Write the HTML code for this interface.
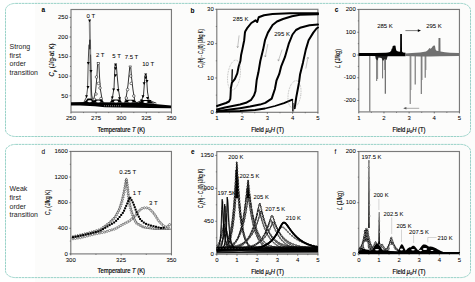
<!DOCTYPE html>
<html><head><meta charset="utf-8"><style>
html,body{margin:0;padding:0;background:#fff;}
svg{display:block;}
text{font-family:"Liberation Sans", sans-serif;fill:#000;stroke:#000;stroke-width:0.04px;}
</style></head><body>
<svg width="475" height="282" viewBox="0 0 475 282">
<rect x="35" y="0" width="440" height="282" fill="#fcfcfb"/>
<rect x="5.5" y="3.4" width="465.0" height="133.1" rx="10" ry="6.8" fill="none" stroke="#6fc0b2" stroke-width="0.7" stroke-dasharray="2.6 0.6"/>
<rect x="5.5" y="144.4" width="465.0" height="133.20000000000002" rx="10" ry="6.8" fill="none" stroke="#6fc0b2" stroke-width="0.7" stroke-dasharray="2.6 0.6"/>
<text x="9.60" y="48.80" font-size="7" text-anchor="start" style="fill:#1a1a1a;stroke-width:0">Strong</text>
<text x="9.60" y="57.55" font-size="7" text-anchor="start" style="fill:#1a1a1a;stroke-width:0">first</text>
<text x="9.60" y="66.30" font-size="7" text-anchor="start" style="fill:#1a1a1a;stroke-width:0">order</text>
<text x="9.60" y="75.05" font-size="7" text-anchor="start" style="fill:#1a1a1a;stroke-width:0">transition</text>
<text x="9.60" y="191.20" font-size="7" text-anchor="start" style="fill:#1a1a1a;stroke-width:0">Weak</text>
<text x="9.60" y="199.95" font-size="7" text-anchor="start" style="fill:#1a1a1a;stroke-width:0">first</text>
<text x="9.60" y="208.70" font-size="7" text-anchor="start" style="fill:#1a1a1a;stroke-width:0">order</text>
<text x="9.60" y="217.45" font-size="7" text-anchor="start" style="fill:#1a1a1a;stroke-width:0">transition</text>
<text x="43.20" y="12.10" font-size="6.5" text-anchor="middle" font-weight="bold">a</text>
<text x="192.40" y="12.80" font-size="6.5" text-anchor="middle" font-weight="bold">b</text>
<text x="336.50" y="12.00" font-size="6.5" text-anchor="middle" font-weight="bold">c</text>
<text x="43.20" y="153.80" font-size="6.5" text-anchor="middle" font-weight="normal">d</text>
<text x="192.70" y="154.40" font-size="6.5" text-anchor="middle" font-weight="bold">e</text>
<text x="335.50" y="154.00" font-size="6.5" text-anchor="middle" font-weight="normal">f</text>
<rect x="71.0" y="9.5" width="100.45" height="102.60" fill="none" stroke="#7a7a7a" stroke-width="1.15"/>
<line x1="71.00" y1="112.10" x2="71.00" y2="113.60" stroke="#444" stroke-width="0.7" />
<text x="71.00" y="119.90" font-size="6" text-anchor="middle" >250</text>
<line x1="83.56" y1="112.10" x2="83.56" y2="113.10" stroke="#444" stroke-width="0.6" />
<line x1="96.11" y1="112.10" x2="96.11" y2="113.60" stroke="#444" stroke-width="0.7" />
<text x="96.11" y="119.90" font-size="6" text-anchor="middle" >275</text>
<line x1="108.67" y1="112.10" x2="108.67" y2="113.10" stroke="#444" stroke-width="0.6" />
<line x1="121.22" y1="112.10" x2="121.22" y2="113.60" stroke="#444" stroke-width="0.7" />
<text x="121.22" y="119.90" font-size="6" text-anchor="middle" >300</text>
<line x1="133.78" y1="112.10" x2="133.78" y2="113.10" stroke="#444" stroke-width="0.6" />
<line x1="146.34" y1="112.10" x2="146.34" y2="113.60" stroke="#444" stroke-width="0.7" />
<text x="146.34" y="119.90" font-size="6" text-anchor="middle" >325</text>
<line x1="158.89" y1="112.10" x2="158.89" y2="113.10" stroke="#444" stroke-width="0.6" />
<line x1="171.45" y1="112.10" x2="171.45" y2="113.60" stroke="#444" stroke-width="0.7" />
<text x="171.45" y="119.90" font-size="6" text-anchor="middle" >350</text>
<line x1="69.50" y1="17.40" x2="71.00" y2="17.40" stroke="#444" stroke-width="0.7" />
<text x="68.00" y="19.10" font-size="6" text-anchor="end" >250</text>
<line x1="70.00" y1="27.20" x2="71.00" y2="27.20" stroke="#444" stroke-width="0.6" />
<line x1="69.50" y1="37.00" x2="71.00" y2="37.00" stroke="#444" stroke-width="0.7" />
<text x="68.00" y="38.70" font-size="6" text-anchor="end" >200</text>
<line x1="70.00" y1="46.80" x2="71.00" y2="46.80" stroke="#444" stroke-width="0.6" />
<line x1="69.50" y1="56.60" x2="71.00" y2="56.60" stroke="#444" stroke-width="0.7" />
<text x="68.00" y="58.30" font-size="6" text-anchor="end" >150</text>
<line x1="70.00" y1="66.40" x2="71.00" y2="66.40" stroke="#444" stroke-width="0.6" />
<line x1="69.50" y1="76.20" x2="71.00" y2="76.20" stroke="#444" stroke-width="0.7" />
<text x="68.00" y="77.90" font-size="6" text-anchor="end" >100</text>
<line x1="70.00" y1="86.00" x2="71.00" y2="86.00" stroke="#444" stroke-width="0.6" />
<line x1="69.50" y1="95.80" x2="71.00" y2="95.80" stroke="#444" stroke-width="0.7" />
<text x="68.00" y="97.50" font-size="6" text-anchor="end" >50</text>
<text x="121.30" y="132.00" font-size="6.8" text-anchor="middle" textLength="47.4" lengthAdjust="spacingAndGlyphs" style="stroke-width:0.18px">Temperature <tspan font-style="italic">T</tspan> (K)</text>
<text transform="translate(54.40,60.00) rotate(-90)" font-size="6.4" text-anchor="middle" style="stroke-width:0.12px" textLength="33" lengthAdjust="spacingAndGlyphs"><tspan font-style="italic">C</tspan><tspan font-size="4.3" dy="1.4">p</tspan><tspan dy="-1.4"> (J/g-at K)</tspan></text>
<text x="90.90" y="18.00" font-size="6" text-anchor="middle" >0 T</text>
<text x="100.20" y="57.30" font-size="6" text-anchor="middle" >2 T</text>
<text x="116.60" y="57.80" font-size="6" text-anchor="middle" >5 T</text>
<text x="131.50" y="59.10" font-size="6" text-anchor="middle" >7.5 T</text>
<text x="148.20" y="65.60" font-size="6" text-anchor="middle" >10 T</text>
<path d="M71.00,102.30 L86.00,102.00 L100.00,102.30 L120.00,102.40 L140.00,102.60 L150.00,103.50 L160.00,104.60 L171.00,105.40 L171.00,108.30 L150.00,108.00 L120.00,107.60 L105.00,107.20 L95.00,106.20 L80.00,105.50 L71.00,105.40 Z" fill="#000" />
<line x1="104.00" y1="105.80" x2="121.00" y2="105.80" stroke="#fff" stroke-width="0.5" stroke-dasharray="1 1"/>
<path d="M89.70,21.00 L90.10,45.00 L90.50,70.00 L91.00,90.00 L91.50,98.00" stroke="#8a8a8a" stroke-width="1.9" fill="none" stroke-linejoin="round" stroke-linecap="round" />
<path d="M84.00,102.00 L86.50,97.00 L87.60,88.00 L88.20,63.00 L88.90,45.00" stroke="#000" stroke-width="0.7" fill="none" stroke-linejoin="round" stroke-linecap="round" />
<path d="M90.60,55.00 L91.00,71.00 L91.60,95.00 L93.50,102.00" stroke="#222" stroke-width="0.7" fill="none" stroke-linejoin="round" stroke-linecap="round" />
<line x1="89.90" y1="39.70" x2="89.90" y2="49.30" stroke="#000" stroke-width="1.0" />
<path d="M88.10,19.60 L91.10,19.60 L89.60,22.30 Z" fill="#000"/>
<path d="M86.80,62.10 L89.80,62.10 L88.30,64.80 Z" fill="#000"/>
<path d="M89.50,70.10 L92.50,70.10 L91.00,72.80 Z" fill="#000"/>
<path d="M86.50,86.10 L89.50,86.10 L88.00,88.80 Z" fill="#000"/>
<path d="M85.00,95.30 L88.00,95.30 L86.50,98.00 Z" fill="#000"/>
<path d="M93.00,102.00 L95.50,92.00 L96.80,78.00 L97.60,64.00" stroke="#000" stroke-width="0.8" fill="none" stroke-linejoin="round" stroke-linecap="round" />
<path d="M98.90,64.00 L99.60,78.00 L100.50,90.00 L102.50,102.00" stroke="#000" stroke-width="0.8" fill="none" stroke-linejoin="round" stroke-linecap="round" />
<rect x="97.13" y="62.33" width="2.34" height="2.34" fill="#fff" stroke="#000" stroke-width="0.5"/>
<circle cx="96.50" cy="77.00" r="1.30" fill="#fff" stroke="#000" stroke-width="0.5"/>
<circle cx="98.50" cy="83.40" r="1.30" fill="#fff" stroke="#000" stroke-width="0.5"/>
<circle cx="96.00" cy="94.00" r="1.30" fill="#fff" stroke="#000" stroke-width="0.5"/>
<circle cx="100.00" cy="88.00" r="1.30" fill="#fff" stroke="#000" stroke-width="0.5"/>
<circle cx="101.00" cy="98.50" r="1.30" fill="#fff" stroke="#000" stroke-width="0.5"/>
<circle cx="94.50" cy="99.50" r="1.30" fill="#fff" stroke="#000" stroke-width="0.5"/>
<path d="M111.00,102.00 L112.50,97.00 L114.00,88.00 L115.00,65.00" stroke="#000" stroke-width="0.8" fill="none" stroke-linejoin="round" stroke-linecap="round" />
<path d="M116.30,65.00 L117.20,76.00 L118.50,90.00 L120.50,102.00" stroke="#000" stroke-width="0.8" fill="none" stroke-linejoin="round" stroke-linecap="round" />
<path d="M114.10,63.60 L117.10,63.60 L115.60,66.30 Z" fill="#000"/>
<path d="M114.00,67.30 L117.00,67.30 L115.50,70.00 Z" fill="#000"/>
<path d="M114.10,74.20 L117.10,74.20 L115.60,76.90 Z" fill="#000"/>
<path d="M112.10,88.40 L115.10,88.40 L113.60,91.10 Z" fill="#000"/>
<path d="M116.50,89.00 L119.50,89.00 L118.00,91.70 Z" fill="#000"/>
<path d="M110.80,96.40 L113.80,96.40 L112.30,99.10 Z" fill="#000"/>
<path d="M118.00,97.30 L121.00,97.30 L119.50,100.00 Z" fill="#000"/>
<path d="M125.00,102.00 L126.50,95.00 L128.00,85.00 L129.70,67.50" stroke="#000" stroke-width="0.8" fill="none" stroke-linejoin="round" stroke-linecap="round" />
<path d="M130.80,67.50 L131.60,78.00 L133.00,90.00 L135.00,102.00" stroke="#000" stroke-width="0.8" fill="none" stroke-linejoin="round" stroke-linecap="round" />
<path d="M128.90,65.96 L131.50,65.96 L130.20,68.30 Z" fill="#fff" stroke="#000" stroke-width="0.5"/>
<circle cx="130.70" cy="76.00" r="1.30" fill="#fff" stroke="#000" stroke-width="0.5"/>
<circle cx="131.20" cy="83.40" r="1.30" fill="#fff" stroke="#000" stroke-width="0.5"/>
<circle cx="127.60" cy="89.60" r="1.30" fill="#fff" stroke="#000" stroke-width="0.5"/>
<circle cx="126.30" cy="98.00" r="1.30" fill="#fff" stroke="#000" stroke-width="0.5"/>
<circle cx="133.80" cy="96.00" r="1.30" fill="#fff" stroke="#000" stroke-width="0.5"/>
<path d="M136.00,103.00 L141.50,100.50 L143.50,95.00 L145.00,75.50" stroke="#000" stroke-width="0.8" fill="none" stroke-linejoin="round" stroke-linecap="round" />
<path d="M146.40,75.50 L147.50,92.00 L149.00,100.50 L156.00,103.00" stroke="#000" stroke-width="0.8" fill="none" stroke-linejoin="round" stroke-linecap="round" />
<path d="M144.20,73.40 L147.20,73.40 L145.70,76.10 Z" fill="#000"/>
<path d="M144.20,76.60 L147.20,76.60 L145.70,79.30 Z" fill="#000"/>
<path d="M142.60,82.20 L145.60,82.20 L144.10,84.90 Z" fill="#000"/>
<path d="M145.50,80.10 L148.50,80.10 L147.00,82.80 Z" fill="#000"/>
<path d="M141.50,95.20 L144.50,95.20 L143.00,97.90 Z" fill="#000"/>
<path d="M146.00,97.00 L149.00,97.00 L147.50,99.70 Z" fill="#000"/>
<path d="M140.00,99.60 L143.00,99.60 L141.50,102.30 Z" fill="#000"/>
<path d="M148.50,100.00 L151.50,100.00 L150.00,102.70 Z" fill="#000"/>
<path d="M83.50,102.60 L86.00,100.50 L87.50,98.50 L91.50,98.50 L93.00,100.50 L95.00,102.60 Z" fill="#000" />
<path d="M92.00,102.60 L94.00,100.80 L95.00,99.50 L101.50,99.50 L102.50,100.80 L104.50,102.60 Z" fill="#000" />
<path d="M109.50,102.60 L111.50,100.80 L112.50,99.50 L119.50,99.50 L120.50,100.80 L122.50,102.60 Z" fill="#000" />
<path d="M124.00,102.60 L125.50,100.80 L126.50,99.80 L134.00,99.80 L135.00,100.80 L137.00,102.60 Z" fill="#000" />
<path d="M138.00,103.20 L140.50,101.50 L142.00,100.00 L149.00,100.00 L150.50,101.50 L155.00,103.40 Z" fill="#000" />
<ellipse cx="89.6" cy="101.2" rx="2.2" ry="1.0" fill="#fff"/>
<ellipse cx="98.3" cy="101.5" rx="2.2" ry="1.0" fill="#fff"/>
<ellipse cx="116" cy="101.5" rx="2.2" ry="1.0" fill="#fff"/>
<ellipse cx="130.3" cy="101.6" rx="2.2" ry="1.0" fill="#fff"/>
<ellipse cx="145.5" cy="102.0" rx="2.2" ry="1.0" fill="#fff"/>
<rect x="216.8" y="9.3" width="101.10" height="103.00" fill="none" stroke="#7a7a7a" stroke-width="1.15"/>
<line x1="216.80" y1="112.30" x2="216.80" y2="113.80" stroke="#444" stroke-width="0.7" />
<text x="216.80" y="120.10" font-size="6" text-anchor="middle" >1</text>
<line x1="229.44" y1="112.30" x2="229.44" y2="113.30" stroke="#444" stroke-width="0.6" />
<line x1="242.08" y1="112.30" x2="242.08" y2="113.80" stroke="#444" stroke-width="0.7" />
<text x="242.08" y="120.10" font-size="6" text-anchor="middle" >2</text>
<line x1="254.71" y1="112.30" x2="254.71" y2="113.30" stroke="#444" stroke-width="0.6" />
<line x1="267.35" y1="112.30" x2="267.35" y2="113.80" stroke="#444" stroke-width="0.7" />
<text x="267.35" y="120.10" font-size="6" text-anchor="middle" >3</text>
<line x1="279.99" y1="112.30" x2="279.99" y2="113.30" stroke="#444" stroke-width="0.6" />
<line x1="292.62" y1="112.30" x2="292.62" y2="113.80" stroke="#444" stroke-width="0.7" />
<text x="292.62" y="120.10" font-size="6" text-anchor="middle" >4</text>
<line x1="305.26" y1="112.30" x2="305.26" y2="113.30" stroke="#444" stroke-width="0.6" />
<line x1="317.90" y1="112.30" x2="317.90" y2="113.80" stroke="#444" stroke-width="0.7" />
<text x="317.90" y="120.10" font-size="6" text-anchor="middle" >5</text>
<line x1="215.30" y1="9.30" x2="216.80" y2="9.30" stroke="#444" stroke-width="0.7" />
<text x="213.80" y="11.00" font-size="6" text-anchor="end" >30</text>
<line x1="215.80" y1="26.47" x2="216.80" y2="26.47" stroke="#444" stroke-width="0.6" />
<line x1="215.30" y1="43.63" x2="216.80" y2="43.63" stroke="#444" stroke-width="0.7" />
<text x="213.80" y="45.33" font-size="6" text-anchor="end" >20</text>
<line x1="215.80" y1="60.80" x2="216.80" y2="60.80" stroke="#444" stroke-width="0.6" />
<line x1="215.30" y1="77.97" x2="216.80" y2="77.97" stroke="#444" stroke-width="0.7" />
<text x="213.80" y="79.67" font-size="6" text-anchor="end" >10</text>
<line x1="215.80" y1="95.13" x2="216.80" y2="95.13" stroke="#444" stroke-width="0.6" />
<line x1="215.30" y1="112.30" x2="216.80" y2="112.30" stroke="#444" stroke-width="0.7" />
<text x="213.80" y="114.00" font-size="6" text-anchor="end" >0</text>
<text x="267.60" y="132.00" font-size="6.6" text-anchor="middle" textLength="32.8" lengthAdjust="spacingAndGlyphs" style="stroke-width:0.18px">Field <tspan font-style="italic">μ</tspan><tspan font-size="4.3" dy="1.4">0</tspan><tspan dy="-1.4"><tspan font-style="italic">H</tspan> (T)</tspan></text>
<text transform="translate(202.50,48.50) rotate(-90)" font-size="6.4" text-anchor="middle" style="stroke-width:0.12px" textLength="38.8" lengthAdjust="spacingAndGlyphs"><tspan font-style="italic">C</tspan><tspan font-size="4.3" dy="1.4">p</tspan><tspan dy="-1.4">(H) - </tspan><tspan font-style="italic">C</tspan><tspan font-size="4.3" dy="1.4">p</tspan><tspan dy="-1.4">(0) (J/kg K)</tspan></text>
<text x="240.70" y="21.00" font-size="6" text-anchor="middle" >285 K</text>
<text x="282.10" y="35.60" font-size="6" text-anchor="middle" >295 K</text>
<path d="M217.00,106.00 L221.40,104.50 L226.00,103.00 L229.00,101.50 L230.30,99.00 L230.60,95.00 L230.90,88.30 L231.90,82.70 L234.80,79.10 L237.30,73.40 L238.70,66.30 L240.40,61.00 L241.10,55.00 L242.30,49.60 L244.20,40.20 L244.90,33.00 L245.20,31.50 L247.00,28.40 L251.30,23.00 L255.50,20.30 L257.20,22.00 L258.70,17.30 L264.00,15.20 L272.50,14.00 L290.00,13.20 L318.00,13.30" stroke="#000" stroke-width="2.0" fill="none" stroke-linejoin="round" stroke-linecap="round" />
<line x1="232.30" y1="69.20" x2="231.90" y2="81.50" stroke="#000" stroke-width="1.3" />
<path d="M217.00,109.50 L225.00,107.50 L240.00,104.50 L246.00,102.80 L251.20,99.80 L254.00,95.50 L255.50,91.20 L256.70,80.00 L258.40,72.30 L260.30,61.00 L263.10,49.60 L265.00,40.20 L267.90,32.60 L272.60,25.00 L277.00,21.50 L283.00,19.00 L292.00,16.20 L300.00,14.80 L318.00,14.30" stroke="#000" stroke-width="2.0" fill="none" stroke-linejoin="round" stroke-linecap="round" />
<path d="M217.00,111.20 L230.00,109.60 L240.00,108.20 L250.00,106.60 L260.00,104.60 L265.30,102.90 L271.70,98.60 L274.90,89.00 L276.50,80.50 L279.20,74.20 L281.10,66.70 L284.90,57.20 L288.70,43.90 L292.50,34.50 L296.00,30.00 L300.00,27.80 L309.50,25.30 L318.00,24.60" stroke="#000" stroke-width="2.0" fill="none" stroke-linejoin="round" stroke-linecap="round" />
<path d="M217.00,111.60 L240.00,111.00 L255.00,110.00 L265.00,108.50 L275.00,106.00 L284.00,103.20 L292.30,99.70" stroke="#000" stroke-width="1.8" fill="none" stroke-linejoin="round" stroke-linecap="round" />
<line x1="292.60" y1="99.70" x2="292.60" y2="111.50" stroke="#000" stroke-width="0.9" />
<line x1="293.60" y1="103.00" x2="293.60" y2="111.50" stroke="#000" stroke-width="0.6" />
<path d="M294.70,108.20 L296.20,97.60 L298.00,88.00 L299.00,82.70 L300.10,74.20 L302.90,62.90 L305.80,49.60 L308.60,40.20 L313.30,32.60 L316.50,28.50 L318.00,27.50" stroke="#000" stroke-width="2.0" fill="none" stroke-linejoin="round" stroke-linecap="round" />
<ellipse cx="234" cy="75" rx="6.2" ry="15" fill="none" stroke="#777" stroke-width="0.5" stroke-dasharray="0.8 0.8" transform="rotate(8 234 75)"/>
<ellipse cx="294.5" cy="94.4" rx="6.3" ry="13.8" fill="none" stroke="#777" stroke-width="0.5" stroke-dasharray="0.8 0.8" transform="rotate(8 294.5 94.4)"/>
<line x1="239.10" y1="35.40" x2="237.60" y2="47.70" stroke="#888" stroke-width="0.5" />
<line x1="237.60" y1="47.70" x2="236.87" y2="46.06" stroke="#888" stroke-width="0.5" />
<line x1="237.60" y1="47.70" x2="238.71" y2="46.28" stroke="#888" stroke-width="0.5" />
<line x1="267.90" y1="44.00" x2="265.20" y2="57.00" stroke="#888" stroke-width="0.5" />
<line x1="265.20" y1="57.00" x2="264.61" y2="55.30" stroke="#888" stroke-width="0.5" />
<line x1="265.20" y1="57.00" x2="266.42" y2="55.68" stroke="#888" stroke-width="0.5" />
<line x1="282.10" y1="49.60" x2="278.30" y2="61.00" stroke="#888" stroke-width="0.5" />
<line x1="278.30" y1="61.00" x2="277.91" y2="59.24" stroke="#888" stroke-width="0.5" />
<line x1="278.30" y1="61.00" x2="279.67" y2="59.83" stroke="#888" stroke-width="0.5" />
<line x1="305.80" y1="68.60" x2="308.00" y2="57.20" stroke="#888" stroke-width="0.5" />
<line x1="308.00" y1="57.20" x2="308.62" y2="58.89" stroke="#888" stroke-width="0.5" />
<line x1="308.00" y1="57.20" x2="306.80" y2="58.54" stroke="#888" stroke-width="0.5" />
<rect x="358.8" y="9.45" width="100.65" height="102.45" fill="none" stroke="#7a7a7a" stroke-width="1.15"/>
<line x1="358.80" y1="111.90" x2="358.80" y2="113.40" stroke="#444" stroke-width="0.7" />
<text x="358.80" y="119.70" font-size="6" text-anchor="middle" >1</text>
<line x1="371.38" y1="111.90" x2="371.38" y2="112.90" stroke="#444" stroke-width="0.6" />
<line x1="383.96" y1="111.90" x2="383.96" y2="113.40" stroke="#444" stroke-width="0.7" />
<text x="383.96" y="119.70" font-size="6" text-anchor="middle" >2</text>
<line x1="396.54" y1="111.90" x2="396.54" y2="112.90" stroke="#444" stroke-width="0.6" />
<line x1="409.12" y1="111.90" x2="409.12" y2="113.40" stroke="#444" stroke-width="0.7" />
<text x="409.12" y="119.70" font-size="6" text-anchor="middle" >3</text>
<line x1="421.70" y1="111.90" x2="421.70" y2="112.90" stroke="#444" stroke-width="0.6" />
<line x1="434.28" y1="111.90" x2="434.28" y2="113.40" stroke="#444" stroke-width="0.7" />
<text x="434.28" y="119.70" font-size="6" text-anchor="middle" >4</text>
<line x1="446.86" y1="111.90" x2="446.86" y2="112.90" stroke="#444" stroke-width="0.6" />
<line x1="459.44" y1="111.90" x2="459.44" y2="113.40" stroke="#444" stroke-width="0.7" />
<text x="459.44" y="119.70" font-size="6" text-anchor="middle" >5</text>
<line x1="357.30" y1="9.50" x2="358.80" y2="9.50" stroke="#444" stroke-width="0.7" />
<text x="355.80" y="11.20" font-size="6" text-anchor="end" >200</text>
<line x1="357.80" y1="20.88" x2="358.80" y2="20.88" stroke="#444" stroke-width="0.6" />
<line x1="357.30" y1="32.25" x2="358.80" y2="32.25" stroke="#444" stroke-width="0.7" />
<text x="355.80" y="33.95" font-size="6" text-anchor="end" >100</text>
<line x1="357.80" y1="43.62" x2="358.80" y2="43.62" stroke="#444" stroke-width="0.6" />
<line x1="357.30" y1="55.00" x2="358.80" y2="55.00" stroke="#444" stroke-width="0.7" />
<text x="355.80" y="56.70" font-size="6" text-anchor="end" >0</text>
<line x1="357.80" y1="66.38" x2="358.80" y2="66.38" stroke="#444" stroke-width="0.6" />
<line x1="357.30" y1="77.75" x2="358.80" y2="77.75" stroke="#444" stroke-width="0.7" />
<text x="355.80" y="79.45" font-size="6" text-anchor="end" >-100</text>
<line x1="357.80" y1="89.12" x2="358.80" y2="89.12" stroke="#444" stroke-width="0.6" />
<line x1="357.30" y1="100.50" x2="358.80" y2="100.50" stroke="#444" stroke-width="0.7" />
<text x="355.80" y="102.20" font-size="6" text-anchor="end" >-200</text>
<text x="409.00" y="132.00" font-size="6.6" text-anchor="middle" textLength="32.8" lengthAdjust="spacingAndGlyphs" style="stroke-width:0.18px">Field <tspan font-style="italic">μ</tspan><tspan font-size="4.3" dy="1.4">0</tspan><tspan dy="-1.4"><tspan font-style="italic">H</tspan> (T)</tspan></text>
<text transform="translate(339.80,58.40) rotate(-90)" font-size="6.4" text-anchor="middle" style="stroke-width:0.12px" textLength="19.2" lengthAdjust="spacingAndGlyphs"><tspan font-style="italic">L</tspan> (J/kg)</text>
<text x="385.00" y="27.80" font-size="6" text-anchor="middle" >285 K</text>
<text x="434.00" y="27.50" font-size="6" text-anchor="middle" >295 K</text>
<line x1="405.40" y1="30.60" x2="419.50" y2="30.60" stroke="#000" stroke-width="0.5" />
<path d="M421,30.6 L417.8,29.3 L417.8,31.9 Z" fill="#000"/>
<line x1="419.20" y1="108.30" x2="404.50" y2="108.30" stroke="#555" stroke-width="0.5" />
<path d="M403.2,108.3 L406.4,107 L406.4,109.6 Z" fill="#555"/>
<line x1="369.80" y1="55.00" x2="369.80" y2="111.50" stroke="#6e6e6e" stroke-width="1.1" />
<line x1="376.70" y1="55.00" x2="376.70" y2="81.00" stroke="#6e6e6e" stroke-width="1.0" />
<line x1="377.60" y1="55.00" x2="377.60" y2="79.00" stroke="#6e6e6e" stroke-width="0.8" />
<line x1="382.60" y1="55.00" x2="382.60" y2="78.40" stroke="#6e6e6e" stroke-width="1.0" />
<line x1="385.30" y1="55.00" x2="385.30" y2="93.70" stroke="#5a5a5a" stroke-width="1.1" />
<line x1="384.40" y1="55.00" x2="384.40" y2="70.00" stroke="#6e6e6e" stroke-width="0.7" />
<line x1="410.20" y1="55.00" x2="410.20" y2="104.00" stroke="#6e6e6e" stroke-width="1.0" />
<line x1="411.00" y1="55.00" x2="411.00" y2="90.00" stroke="#6e6e6e" stroke-width="0.6" />
<line x1="415.20" y1="55.00" x2="415.20" y2="84.40" stroke="#6e6e6e" stroke-width="1.1" />
<line x1="421.30" y1="55.00" x2="421.30" y2="94.00" stroke="#6e6e6e" stroke-width="1.1" />
<line x1="422.20" y1="55.00" x2="422.20" y2="80.00" stroke="#6e6e6e" stroke-width="0.6" />
<line x1="425.20" y1="55.00" x2="425.20" y2="77.70" stroke="#6e6e6e" stroke-width="1.1" />
<line x1="426.00" y1="55.00" x2="426.00" y2="70.00" stroke="#6e6e6e" stroke-width="0.6" />
<path d="M375.00,55.00 L375.80,59.00 L377.50,60.50 L378.50,57.50 L381.50,58.00 L383.00,61.00 L384.50,59.00 L386.50,60.00 L388.00,55.00 Z" fill="#222" />
<path d="M358.70,53.00 L375.00,52.90 L386.00,52.80 L388.00,52.50 L390.00,52.00 L391.30,50.50 L391.60,48.80 L392.30,48.50 L392.60,46.20 L394.00,45.50 L395.50,45.80 L395.80,48.00 L396.30,50.50 L398.00,51.50 L400.10,51.80 L400.20,34.00 L401.90,34.00 L402.00,51.50 L403.00,52.50 L405.50,52.80 L405.50,56.30 L390.00,56.20 L370.00,56.00 L358.70,56.00 Z" fill="#000" />
<path d="M405.00,53.40 L412.00,53.00 L420.00,52.40 L426.00,51.60 L428.00,50.00 L429.40,47.90 L430.50,48.80 L431.50,48.00 L432.50,46.50 L434.10,45.20 L435.00,46.00 L435.60,49.50 L436.50,50.80 L438.40,51.00 L438.50,38.00 L440.40,38.00 L440.50,51.40 L445.00,52.20 L450.00,52.80 L459.00,53.00 L459.00,56.00 L440.00,56.30 L430.00,56.60 L420.00,56.40 L405.00,56.00 Z" fill="#707070" />
<rect x="70.8" y="151.45" width="100.65" height="102.45" fill="none" stroke="#7a7a7a" stroke-width="1.15"/>
<line x1="70.80" y1="253.90" x2="70.80" y2="255.40" stroke="#444" stroke-width="0.7" />
<text x="70.80" y="261.70" font-size="6" text-anchor="middle" >300</text>
<line x1="95.96" y1="253.90" x2="95.96" y2="254.90" stroke="#444" stroke-width="0.6" />
<line x1="121.12" y1="253.90" x2="121.12" y2="255.40" stroke="#444" stroke-width="0.7" />
<text x="121.12" y="261.70" font-size="6" text-anchor="middle" >325</text>
<line x1="146.29" y1="253.90" x2="146.29" y2="254.90" stroke="#444" stroke-width="0.6" />
<line x1="171.45" y1="253.90" x2="171.45" y2="255.40" stroke="#444" stroke-width="0.7" />
<text x="171.45" y="261.70" font-size="6" text-anchor="middle" >350</text>
<line x1="69.30" y1="151.45" x2="70.80" y2="151.45" stroke="#444" stroke-width="0.7" />
<text x="67.80" y="153.15" font-size="6" text-anchor="end" >1600</text>
<line x1="69.80" y1="164.26" x2="70.80" y2="164.26" stroke="#444" stroke-width="0.6" />
<line x1="69.30" y1="177.06" x2="70.80" y2="177.06" stroke="#444" stroke-width="0.7" />
<text x="67.80" y="178.76" font-size="6" text-anchor="end" >1200</text>
<line x1="69.80" y1="189.87" x2="70.80" y2="189.87" stroke="#444" stroke-width="0.6" />
<line x1="69.30" y1="202.68" x2="70.80" y2="202.68" stroke="#444" stroke-width="0.7" />
<text x="67.80" y="204.38" font-size="6" text-anchor="end" >800</text>
<line x1="69.80" y1="215.48" x2="70.80" y2="215.48" stroke="#444" stroke-width="0.6" />
<line x1="69.30" y1="228.29" x2="70.80" y2="228.29" stroke="#444" stroke-width="0.7" />
<text x="67.80" y="229.99" font-size="6" text-anchor="end" >400</text>
<line x1="69.80" y1="241.09" x2="70.80" y2="241.09" stroke="#444" stroke-width="0.6" />
<line x1="69.30" y1="253.90" x2="70.80" y2="253.90" stroke="#444" stroke-width="0.7" />
<text x="67.80" y="255.60" font-size="6" text-anchor="end" >0</text>
<text x="121.30" y="273.10" font-size="6.8" text-anchor="middle" textLength="47.4" lengthAdjust="spacingAndGlyphs" style="stroke-width:0.18px">Temperature <tspan font-style="italic">T</tspan> (K)</text>
<text transform="translate(49.80,202.40) rotate(-90)" font-size="6.4" text-anchor="middle" style="stroke-width:0.12px" textLength="25.5" lengthAdjust="spacingAndGlyphs"><tspan font-style="italic">C</tspan><tspan font-size="4.3" dy="1.4">p</tspan><tspan dy="-1.4"> (J/kg K)</tspan></text>
<text x="127.60" y="174.00" font-size="6" text-anchor="middle" >0.25 T</text>
<text x="137.00" y="194.60" font-size="6" text-anchor="middle" >1 T</text>
<text x="153.40" y="205.40" font-size="6" text-anchor="middle" >3 T</text>
<circle cx="73.00" cy="238.80" r="1.05" fill="#fff" stroke="#222" stroke-width="0.5"/>
<circle cx="75.47" cy="238.45" r="1.05" fill="#fff" stroke="#222" stroke-width="0.5"/>
<circle cx="77.95" cy="238.09" r="1.05" fill="#fff" stroke="#222" stroke-width="0.5"/>
<circle cx="80.42" cy="237.69" r="1.05" fill="#fff" stroke="#222" stroke-width="0.5"/>
<circle cx="82.84" cy="237.08" r="1.05" fill="#fff" stroke="#222" stroke-width="0.5"/>
<circle cx="85.26" cy="236.47" r="1.05" fill="#fff" stroke="#222" stroke-width="0.5"/>
<circle cx="87.69" cy="235.85" r="1.05" fill="#fff" stroke="#222" stroke-width="0.5"/>
<circle cx="90.11" cy="235.24" r="1.05" fill="#fff" stroke="#222" stroke-width="0.5"/>
<circle cx="92.53" cy="234.62" r="1.05" fill="#fff" stroke="#222" stroke-width="0.5"/>
<circle cx="94.96" cy="234.01" r="1.05" fill="#fff" stroke="#222" stroke-width="0.5"/>
<circle cx="97.41" cy="233.52" r="1.05" fill="#fff" stroke="#222" stroke-width="0.5"/>
<circle cx="99.86" cy="233.03" r="1.05" fill="#fff" stroke="#222" stroke-width="0.5"/>
<circle cx="102.31" cy="232.54" r="1.05" fill="#fff" stroke="#222" stroke-width="0.5"/>
<circle cx="104.76" cy="232.05" r="1.05" fill="#fff" stroke="#222" stroke-width="0.5"/>
<circle cx="107.15" cy="231.32" r="1.05" fill="#fff" stroke="#222" stroke-width="0.5"/>
<circle cx="109.54" cy="230.57" r="1.05" fill="#fff" stroke="#222" stroke-width="0.5"/>
<circle cx="111.92" cy="229.82" r="1.05" fill="#fff" stroke="#222" stroke-width="0.5"/>
<circle cx="114.34" cy="229.18" r="1.05" fill="#fff" stroke="#222" stroke-width="0.5"/>
<circle cx="116.56" cy="228.08" r="1.05" fill="#fff" stroke="#222" stroke-width="0.5"/>
<circle cx="118.71" cy="226.80" r="1.05" fill="#fff" stroke="#222" stroke-width="0.5"/>
<circle cx="120.87" cy="225.53" r="1.05" fill="#fff" stroke="#222" stroke-width="0.5"/>
<circle cx="123.05" cy="224.32" r="1.05" fill="#fff" stroke="#222" stroke-width="0.5"/>
<circle cx="125.28" cy="223.19" r="1.05" fill="#fff" stroke="#222" stroke-width="0.5"/>
<circle cx="127.51" cy="222.06" r="1.05" fill="#fff" stroke="#222" stroke-width="0.5"/>
<circle cx="129.66" cy="220.81" r="1.05" fill="#fff" stroke="#222" stroke-width="0.5"/>
<circle cx="131.55" cy="219.18" r="1.05" fill="#fff" stroke="#222" stroke-width="0.5"/>
<circle cx="133.45" cy="217.55" r="1.05" fill="#fff" stroke="#222" stroke-width="0.5"/>
<circle cx="135.24" cy="215.82" r="1.05" fill="#fff" stroke="#222" stroke-width="0.5"/>
<circle cx="136.67" cy="213.77" r="1.05" fill="#fff" stroke="#222" stroke-width="0.5"/>
<circle cx="138.10" cy="211.72" r="1.05" fill="#fff" stroke="#222" stroke-width="0.5"/>
<circle cx="139.97" cy="210.08" r="1.05" fill="#fff" stroke="#222" stroke-width="0.5"/>
<circle cx="141.94" cy="208.55" r="1.05" fill="#fff" stroke="#222" stroke-width="0.5"/>
<circle cx="144.33" cy="207.83" r="1.05" fill="#fff" stroke="#222" stroke-width="0.5"/>
<circle cx="146.73" cy="207.85" r="1.05" fill="#fff" stroke="#222" stroke-width="0.5"/>
<circle cx="149.10" cy="208.60" r="1.05" fill="#fff" stroke="#222" stroke-width="0.5"/>
<circle cx="150.90" cy="210.34" r="1.05" fill="#fff" stroke="#222" stroke-width="0.5"/>
<circle cx="152.68" cy="212.10" r="1.05" fill="#fff" stroke="#222" stroke-width="0.5"/>
<circle cx="154.24" cy="214.05" r="1.05" fill="#fff" stroke="#222" stroke-width="0.5"/>
<circle cx="155.67" cy="216.09" r="1.05" fill="#fff" stroke="#222" stroke-width="0.5"/>
<circle cx="156.98" cy="218.22" r="1.05" fill="#fff" stroke="#222" stroke-width="0.5"/>
<circle cx="158.30" cy="220.35" r="1.05" fill="#fff" stroke="#222" stroke-width="0.5"/>
<circle cx="159.91" cy="222.24" r="1.05" fill="#fff" stroke="#222" stroke-width="0.5"/>
<circle cx="161.66" cy="224.03" r="1.05" fill="#fff" stroke="#222" stroke-width="0.5"/>
<circle cx="163.48" cy="225.72" r="1.05" fill="#fff" stroke="#222" stroke-width="0.5"/>
<circle cx="165.64" cy="226.99" r="1.05" fill="#fff" stroke="#222" stroke-width="0.5"/>
<circle cx="167.87" cy="226.30" r="1.05" fill="#fff" stroke="#222" stroke-width="0.5"/>
<circle cx="169.63" cy="224.59" r="1.05" fill="#fff" stroke="#222" stroke-width="0.5"/>
<path d="M73.00,235.25 L74.25,237.50 L71.75,237.50 Z" fill="#fff" stroke="#222" stroke-width="0.5"/>
<path d="M75.35,234.75 L76.60,237.00 L74.10,237.00 Z" fill="#fff" stroke="#222" stroke-width="0.5"/>
<path d="M77.69,234.24 L78.94,236.49 L76.44,236.49 Z" fill="#fff" stroke="#222" stroke-width="0.5"/>
<path d="M80.04,233.74 L81.29,235.99 L78.79,235.99 Z" fill="#fff" stroke="#222" stroke-width="0.5"/>
<path d="M82.37,233.16 L83.62,235.41 L81.12,235.41 Z" fill="#fff" stroke="#222" stroke-width="0.5"/>
<path d="M84.70,232.58 L85.95,234.83 L83.45,234.83 Z" fill="#fff" stroke="#222" stroke-width="0.5"/>
<path d="M87.02,231.99 L88.27,234.24 L85.77,234.24 Z" fill="#fff" stroke="#222" stroke-width="0.5"/>
<path d="M89.35,231.41 L90.60,233.66 L88.10,233.66 Z" fill="#fff" stroke="#222" stroke-width="0.5"/>
<path d="M91.66,230.75 L92.91,233.00 L90.41,233.00 Z" fill="#fff" stroke="#222" stroke-width="0.5"/>
<path d="M93.96,230.06 L95.21,232.31 L92.71,232.31 Z" fill="#fff" stroke="#222" stroke-width="0.5"/>
<path d="M96.26,229.37 L97.51,231.62 L95.01,231.62 Z" fill="#fff" stroke="#222" stroke-width="0.5"/>
<path d="M98.56,228.68 L99.81,230.93 L97.31,230.93 Z" fill="#fff" stroke="#222" stroke-width="0.5"/>
<path d="M100.72,227.73 L101.97,229.98 L99.47,229.98 Z" fill="#fff" stroke="#222" stroke-width="0.5"/>
<path d="M102.67,226.32 L103.92,228.57 L101.42,228.57 Z" fill="#fff" stroke="#222" stroke-width="0.5"/>
<path d="M104.62,224.92 L105.87,227.17 L103.37,227.17 Z" fill="#fff" stroke="#222" stroke-width="0.5"/>
<path d="M106.56,223.51 L107.81,225.76 L105.31,225.76 Z" fill="#fff" stroke="#222" stroke-width="0.5"/>
<path d="M108.51,222.11 L109.76,224.36 L107.26,224.36 Z" fill="#fff" stroke="#222" stroke-width="0.5"/>
<path d="M110.27,220.48 L111.52,222.73 L109.02,222.73 Z" fill="#fff" stroke="#222" stroke-width="0.5"/>
<path d="M111.96,218.79 L113.21,221.04 L110.71,221.04 Z" fill="#fff" stroke="#222" stroke-width="0.5"/>
<path d="M113.66,217.09 L114.91,219.34 L112.41,219.34 Z" fill="#fff" stroke="#222" stroke-width="0.5"/>
<path d="M115.24,215.31 L116.49,217.56 L113.99,217.56 Z" fill="#fff" stroke="#222" stroke-width="0.5"/>
<path d="M116.40,213.21 L117.65,215.46 L115.15,215.46 Z" fill="#fff" stroke="#222" stroke-width="0.5"/>
<path d="M117.56,211.10 L118.81,213.35 L116.31,213.35 Z" fill="#fff" stroke="#222" stroke-width="0.5"/>
<path d="M118.72,209.00 L119.97,211.25 L117.47,211.25 Z" fill="#fff" stroke="#222" stroke-width="0.5"/>
<path d="M119.66,206.81 L120.91,209.06 L118.41,209.06 Z" fill="#fff" stroke="#222" stroke-width="0.5"/>
<path d="M120.39,204.52 L121.64,206.77 L119.14,206.77 Z" fill="#fff" stroke="#222" stroke-width="0.5"/>
<path d="M121.12,202.23 L122.37,204.48 L119.87,204.48 Z" fill="#fff" stroke="#222" stroke-width="0.5"/>
<path d="M121.84,199.94 L123.09,202.19 L120.59,202.19 Z" fill="#fff" stroke="#222" stroke-width="0.5"/>
<path d="M122.42,197.62 L123.67,199.87 L121.17,199.87 Z" fill="#fff" stroke="#222" stroke-width="0.5"/>
<path d="M122.96,195.28 L124.21,197.53 L121.71,197.53 Z" fill="#fff" stroke="#222" stroke-width="0.5"/>
<path d="M123.50,192.94 L124.75,195.19 L122.25,195.19 Z" fill="#fff" stroke="#222" stroke-width="0.5"/>
<path d="M124.03,190.60 L125.28,192.85 L122.78,192.85 Z" fill="#fff" stroke="#222" stroke-width="0.5"/>
<path d="M124.47,188.24 L125.72,190.49 L123.22,190.49 Z" fill="#fff" stroke="#222" stroke-width="0.5"/>
<path d="M124.90,185.88 L126.15,188.13 L123.65,188.13 Z" fill="#fff" stroke="#222" stroke-width="0.5"/>
<path d="M125.34,183.52 L126.59,185.77 L124.09,185.77 Z" fill="#fff" stroke="#222" stroke-width="0.5"/>
<path d="M125.69,181.15 L126.94,183.40 L124.44,183.40 Z" fill="#fff" stroke="#222" stroke-width="0.5"/>
<path d="M126.05,178.77 L127.30,181.02 L124.80,181.02 Z" fill="#fff" stroke="#222" stroke-width="0.5"/>
<path d="M126.41,177.90 L127.66,180.15 L125.16,180.15 Z" fill="#fff" stroke="#222" stroke-width="0.5"/>
<path d="M126.77,180.27 L128.02,182.52 L125.52,182.52 Z" fill="#fff" stroke="#222" stroke-width="0.5"/>
<path d="M127.13,182.65 L128.38,184.90 L125.88,184.90 Z" fill="#fff" stroke="#222" stroke-width="0.5"/>
<path d="M127.44,185.03 L128.69,187.28 L126.19,187.28 Z" fill="#fff" stroke="#222" stroke-width="0.5"/>
<path d="M127.71,187.41 L128.96,189.66 L126.46,189.66 Z" fill="#fff" stroke="#222" stroke-width="0.5"/>
<path d="M127.98,189.80 L129.23,192.05 L126.73,192.05 Z" fill="#fff" stroke="#222" stroke-width="0.5"/>
<path d="M128.24,192.18 L129.49,194.43 L126.99,194.43 Z" fill="#fff" stroke="#222" stroke-width="0.5"/>
<path d="M128.51,194.57 L129.76,196.82 L127.26,196.82 Z" fill="#fff" stroke="#222" stroke-width="0.5"/>
<path d="M128.78,196.95 L130.03,199.20 L127.53,199.20 Z" fill="#fff" stroke="#222" stroke-width="0.5"/>
<path d="M129.04,199.34 L130.29,201.59 L127.79,201.59 Z" fill="#fff" stroke="#222" stroke-width="0.5"/>
<path d="M129.43,201.70 L130.68,203.95 L128.18,203.95 Z" fill="#fff" stroke="#222" stroke-width="0.5"/>
<path d="M130.00,204.03 L131.25,206.28 L128.75,206.28 Z" fill="#fff" stroke="#222" stroke-width="0.5"/>
<path d="M130.57,206.36 L131.82,208.61 L129.32,208.61 Z" fill="#fff" stroke="#222" stroke-width="0.5"/>
<path d="M131.14,208.69 L132.39,210.94 L129.89,210.94 Z" fill="#fff" stroke="#222" stroke-width="0.5"/>
<path d="M131.84,210.99 L133.09,213.24 L130.59,213.24 Z" fill="#fff" stroke="#222" stroke-width="0.5"/>
<path d="M132.59,213.27 L133.84,215.52 L131.34,215.52 Z" fill="#fff" stroke="#222" stroke-width="0.5"/>
<path d="M133.33,215.55 L134.58,217.80 L132.08,217.80 Z" fill="#fff" stroke="#222" stroke-width="0.5"/>
<path d="M134.39,217.70 L135.64,219.95 L133.14,219.95 Z" fill="#fff" stroke="#222" stroke-width="0.5"/>
<path d="M135.48,219.84 L136.73,222.09 L134.23,222.09 Z" fill="#fff" stroke="#222" stroke-width="0.5"/>
<path d="M136.81,221.75 L138.06,224.00 L135.56,224.00 Z" fill="#fff" stroke="#222" stroke-width="0.5"/>
<path d="M138.88,222.97 L140.13,225.22 L137.63,225.22 Z" fill="#fff" stroke="#222" stroke-width="0.5"/>
<path d="M140.94,224.20 L142.19,226.45 L139.69,226.45 Z" fill="#fff" stroke="#222" stroke-width="0.5"/>
<path d="M143.01,225.42 L144.26,227.67 L141.76,227.67 Z" fill="#fff" stroke="#222" stroke-width="0.5"/>
<path d="M145.33,225.92 L146.58,228.17 L144.08,228.17 Z" fill="#fff" stroke="#222" stroke-width="0.5"/>
<path d="M147.70,226.24 L148.95,228.49 L146.45,228.49 Z" fill="#fff" stroke="#222" stroke-width="0.5"/>
<path d="M150.08,226.57 L151.33,228.82 L148.83,228.82 Z" fill="#fff" stroke="#222" stroke-width="0.5"/>
<path d="M152.46,226.90 L153.71,229.15 L151.21,229.15 Z" fill="#fff" stroke="#222" stroke-width="0.5"/>
<path d="M154.84,227.23 L156.09,229.48 L153.59,229.48 Z" fill="#fff" stroke="#222" stroke-width="0.5"/>
<path d="M157.23,227.25 L158.48,229.50 L155.98,229.50 Z" fill="#fff" stroke="#222" stroke-width="0.5"/>
<path d="M159.63,227.25 L160.88,229.50 L158.38,229.50 Z" fill="#fff" stroke="#222" stroke-width="0.5"/>
<path d="M162.03,227.25 L163.28,229.50 L160.78,229.50 Z" fill="#fff" stroke="#222" stroke-width="0.5"/>
<path d="M164.43,227.25 L165.68,229.50 L163.18,229.50 Z" fill="#fff" stroke="#222" stroke-width="0.5"/>
<path d="M166.83,227.25 L168.08,229.50 L165.58,229.50 Z" fill="#fff" stroke="#222" stroke-width="0.5"/>
<path d="M169.23,227.25 L170.48,229.50 L167.98,229.50 Z" fill="#fff" stroke="#222" stroke-width="0.5"/>
<rect x="72.00" y="236.20" width="2.00" height="2.00" fill="#000"/>
<rect x="74.55" y="235.69" width="2.00" height="2.00" fill="#000"/>
<rect x="77.10" y="235.18" width="2.00" height="2.00" fill="#000"/>
<rect x="79.64" y="234.65" width="2.00" height="2.00" fill="#000"/>
<rect x="82.18" y="234.07" width="2.00" height="2.00" fill="#000"/>
<rect x="84.71" y="233.49" width="2.00" height="2.00" fill="#000"/>
<rect x="87.25" y="232.90" width="2.00" height="2.00" fill="#000"/>
<rect x="89.78" y="232.31" width="2.00" height="2.00" fill="#000"/>
<rect x="92.30" y="231.68" width="2.00" height="2.00" fill="#000"/>
<rect x="94.82" y="231.04" width="2.00" height="2.00" fill="#000"/>
<rect x="97.34" y="230.41" width="2.00" height="2.00" fill="#000"/>
<rect x="99.76" y="229.53" width="2.00" height="2.00" fill="#000"/>
<rect x="101.98" y="228.18" width="2.00" height="2.00" fill="#000"/>
<rect x="104.20" y="226.82" width="2.00" height="2.00" fill="#000"/>
<rect x="106.42" y="225.47" width="2.00" height="2.00" fill="#000"/>
<rect x="108.64" y="224.12" width="2.00" height="2.00" fill="#000"/>
<rect x="110.89" y="222.81" width="2.00" height="2.00" fill="#000"/>
<rect x="113.14" y="221.50" width="2.00" height="2.00" fill="#000"/>
<rect x="115.11" y="219.85" width="2.00" height="2.00" fill="#000"/>
<rect x="116.93" y="217.99" width="2.00" height="2.00" fill="#000"/>
<rect x="118.59" y="216.00" width="2.00" height="2.00" fill="#000"/>
<rect x="120.20" y="213.95" width="2.00" height="2.00" fill="#000"/>
<rect x="121.80" y="211.90" width="2.00" height="2.00" fill="#000"/>
<rect x="123.08" y="209.67" width="2.00" height="2.00" fill="#000"/>
<rect x="124.13" y="207.28" width="2.00" height="2.00" fill="#000"/>
<rect x="125.17" y="204.90" width="2.00" height="2.00" fill="#000"/>
<rect x="126.20" y="202.52" width="2.00" height="2.00" fill="#000"/>
<rect x="127.21" y="200.12" width="2.00" height="2.00" fill="#000"/>
<rect x="128.22" y="197.72" width="2.00" height="2.00" fill="#000"/>
<rect x="129.30" y="196.84" width="2.00" height="2.00" fill="#000"/>
<rect x="130.55" y="199.12" width="2.00" height="2.00" fill="#000"/>
<rect x="131.80" y="201.40" width="2.00" height="2.00" fill="#000"/>
<rect x="132.86" y="203.76" width="2.00" height="2.00" fill="#000"/>
<rect x="133.75" y="206.21" width="2.00" height="2.00" fill="#000"/>
<rect x="134.64" y="208.65" width="2.00" height="2.00" fill="#000"/>
<rect x="135.53" y="211.09" width="2.00" height="2.00" fill="#000"/>
<rect x="136.58" y="213.46" width="2.00" height="2.00" fill="#000"/>
<rect x="137.83" y="215.74" width="2.00" height="2.00" fill="#000"/>
<rect x="139.08" y="218.02" width="2.00" height="2.00" fill="#000"/>
<rect x="140.82" y="219.90" width="2.00" height="2.00" fill="#000"/>
<rect x="142.81" y="221.57" width="2.00" height="2.00" fill="#000"/>
<rect x="145.03" y="222.85" width="2.00" height="2.00" fill="#000"/>
<rect x="147.47" y="223.75" width="2.00" height="2.00" fill="#000"/>
<rect x="149.92" y="224.59" width="2.00" height="2.00" fill="#000"/>
<rect x="152.46" y="225.16" width="2.00" height="2.00" fill="#000"/>
<rect x="154.99" y="225.77" width="2.00" height="2.00" fill="#000"/>
<rect x="157.50" y="226.45" width="2.00" height="2.00" fill="#000"/>
<rect x="160.02" y="226.96" width="2.00" height="2.00" fill="#000"/>
<rect x="162.61" y="226.77" width="2.00" height="2.00" fill="#000"/>
<rect x="216.8" y="151.6" width="101.10" height="102.60" fill="none" stroke="#7a7a7a" stroke-width="1.15"/>
<line x1="216.80" y1="254.20" x2="216.80" y2="255.70" stroke="#444" stroke-width="0.7" />
<text x="216.80" y="262.00" font-size="6" text-anchor="middle" >0</text>
<line x1="226.91" y1="254.20" x2="226.91" y2="255.20" stroke="#444" stroke-width="0.6" />
<line x1="237.02" y1="254.20" x2="237.02" y2="255.70" stroke="#444" stroke-width="0.7" />
<text x="237.02" y="262.00" font-size="6" text-anchor="middle" >1</text>
<line x1="247.13" y1="254.20" x2="247.13" y2="255.20" stroke="#444" stroke-width="0.6" />
<line x1="257.24" y1="254.20" x2="257.24" y2="255.70" stroke="#444" stroke-width="0.7" />
<text x="257.24" y="262.00" font-size="6" text-anchor="middle" >2</text>
<line x1="267.35" y1="254.20" x2="267.35" y2="255.20" stroke="#444" stroke-width="0.6" />
<line x1="277.46" y1="254.20" x2="277.46" y2="255.70" stroke="#444" stroke-width="0.7" />
<text x="277.46" y="262.00" font-size="6" text-anchor="middle" >3</text>
<line x1="287.57" y1="254.20" x2="287.57" y2="255.20" stroke="#444" stroke-width="0.6" />
<line x1="297.68" y1="254.20" x2="297.68" y2="255.70" stroke="#444" stroke-width="0.7" />
<text x="297.68" y="262.00" font-size="6" text-anchor="middle" >4</text>
<line x1="307.79" y1="254.20" x2="307.79" y2="255.20" stroke="#444" stroke-width="0.6" />
<line x1="317.90" y1="254.20" x2="317.90" y2="255.70" stroke="#444" stroke-width="0.7" />
<text x="317.90" y="262.00" font-size="6" text-anchor="middle" >5</text>
<line x1="215.30" y1="155.39" x2="216.80" y2="155.39" stroke="#444" stroke-width="0.7" />
<text x="213.80" y="157.09" font-size="6" text-anchor="end" >1350</text>
<line x1="215.80" y1="171.86" x2="216.80" y2="171.86" stroke="#444" stroke-width="0.6" />
<line x1="215.30" y1="188.33" x2="216.80" y2="188.33" stroke="#444" stroke-width="0.7" />
<text x="213.80" y="190.03" font-size="6" text-anchor="end" >900</text>
<line x1="215.80" y1="204.80" x2="216.80" y2="204.80" stroke="#444" stroke-width="0.6" />
<line x1="215.30" y1="221.26" x2="216.80" y2="221.26" stroke="#444" stroke-width="0.7" />
<text x="213.80" y="222.96" font-size="6" text-anchor="end" >450</text>
<line x1="215.80" y1="237.73" x2="216.80" y2="237.73" stroke="#444" stroke-width="0.6" />
<line x1="215.30" y1="254.20" x2="216.80" y2="254.20" stroke="#444" stroke-width="0.7" />
<text x="213.80" y="255.90" font-size="6" text-anchor="end" >0</text>
<text x="267.60" y="273.60" font-size="6.6" text-anchor="middle" textLength="32.8" lengthAdjust="spacingAndGlyphs" style="stroke-width:0.18px">Field <tspan font-style="italic">μ</tspan><tspan font-size="4.3" dy="1.4">0</tspan><tspan dy="-1.4"><tspan font-style="italic">H</tspan> (T)</tspan></text>
<text transform="translate(203.20,188.50) rotate(-90)" font-size="6.4" text-anchor="middle" style="stroke-width:0.12px" textLength="39.5" lengthAdjust="spacingAndGlyphs"><tspan font-style="italic">C</tspan><tspan font-size="4.3" dy="1.4">p</tspan><tspan dy="-1.4">(H) - </tspan><tspan font-style="italic">C</tspan><tspan font-size="4.3" dy="1.4">p</tspan><tspan dy="-1.4">(0) (J/kg K)</tspan></text>
<text x="226.60" y="194.60" font-size="5.8" text-anchor="middle" >197.5K</text>
<text x="235.80" y="159.10" font-size="5.8" text-anchor="middle" >200 K</text>
<text x="249.50" y="177.70" font-size="5.8" text-anchor="middle" >202.5 K</text>
<text x="261.20" y="198.60" font-size="5.8" text-anchor="middle" >205 K</text>
<text x="275.20" y="211.40" font-size="5.8" text-anchor="middle" >207.5 K</text>
<text x="293.40" y="220.20" font-size="5.8" text-anchor="middle" >210 K</text>
<path d="M217.20,245.72 L217.70,245.07 L218.20,244.32 L218.70,243.45 L219.20,242.45 L219.70,241.29 L220.20,239.97 L220.70,238.44 L221.20,236.69 L221.70,234.69 L222.20,232.41 L222.70,229.85 L223.20,227.09 L223.70,224.61 L224.20,224.22 L224.70,226.00 L225.20,228.23 L225.70,230.40 L226.20,232.40 L226.70,234.22 L227.20,235.85 L227.70,237.33 L228.20,238.65 L228.70,239.84 L229.20,240.90 L229.70,241.85 L230.20,242.71 L230.70,243.47 L231.20,244.16 L231.70,244.77 L232.20,245.32 L232.70,245.81 L233.20,246.25 L233.70,246.64 L234.20,247.00 L234.70,247.31 L235.20,247.59 L235.70,247.85 L236.20,248.07 L236.70,248.28 L237.20,248.46 L237.70,248.62 L238.20,248.76 L238.70,248.89 L239.20,249.01 L239.70,249.11 L240.20,249.21 L240.70,249.29 L241.20,249.37 L241.70,249.43 L242.20,249.49 L242.70,249.55 L243.20,249.59 L243.70,249.64 L244.20,249.67 L244.70,249.71 L245.20,249.74 L245.70,249.77 L246.20,249.79 L246.70,249.81 L247.20,249.83 L247.70,249.85 L248.20,249.87 L248.70,249.88 L249.20,249.89 L249.70,249.90 L250.20,249.91 L250.70,249.92 L251.20,249.93 L251.70,249.94 L252.20,249.94 L252.70,249.95 L253.20,249.96 L253.70,249.96 L254.20,249.96 L254.70,249.97 L255.20,249.97 L255.70,249.97 L256.20,249.98 L256.70,249.98 L257.20,249.98 L257.70,249.98 L258.20,249.99 L258.70,249.99 L259.20,249.99 L259.70,249.99 L260.20,249.99 L260.70,249.99 L261.20,249.99 L261.70,249.99 L262.20,249.99 L262.70,249.99 L263.20,250.00 L263.70,250.00 L264.20,250.00 L264.70,250.00 L265.20,250.00 L265.70,250.00 L266.20,250.00 L266.70,250.00 L267.20,250.00 L267.70,250.00 L268.20,250.00 L268.70,250.00 L269.20,250.00 L269.70,250.00 L270.20,250.00 L270.70,250.00 L271.20,250.00 L271.70,250.00 L272.20,250.00 L272.70,250.00 L273.20,250.00 L273.70,250.00 L274.20,250.00 L274.70,250.00 L275.20,250.00 L275.70,250.00 L276.20,250.00 L276.70,250.00 L277.20,250.00 L277.70,250.00 L278.20,250.00 L278.70,250.00 L279.20,250.00 L279.70,250.00 L280.20,250.00 L280.70,250.00 L281.20,250.00 L281.70,250.00 L282.20,250.00 L282.70,250.00 L283.20,250.00 L283.70,250.00 L284.20,250.00 L284.70,250.00 L285.20,250.00 L285.70,250.00 L286.20,250.00 L286.70,250.00 L287.20,250.00 L287.70,250.00 L288.20,250.00 L288.70,250.00 L289.20,250.00 L289.70,250.00 L290.20,250.00 L290.70,250.00 L291.20,250.00 L291.70,250.00 L292.20,250.00 L292.70,250.00 L293.20,250.00 L293.70,250.00 L294.20,250.00 L294.70,250.00 L295.20,250.00 L295.70,250.00 L296.20,250.00 L296.70,250.00 L297.20,250.00 L297.70,250.00 L298.20,250.00 L298.70,250.00 L299.20,250.00 L299.70,250.00 L300.20,250.00 L300.70,250.00 L301.20,250.00 L301.70,250.00 L302.20,250.00 L302.70,250.00 L303.20,250.00 L303.70,250.00 L304.20,250.00 L304.70,250.00 L305.20,250.00 L305.70,250.00 L306.20,250.00 L306.70,250.00 L307.20,250.00 L307.70,250.00 L308.20,250.00 L308.70,250.00 L309.20,250.00 L309.70,250.00 L310.20,250.00 L310.70,250.00 L311.20,250.00 L311.70,250.00 L312.20,250.00 L312.70,250.00 L313.20,250.00 L313.70,250.00 L314.20,250.00 L314.70,250.00 L315.20,250.00 L315.70,250.00 L316.20,250.00 L316.70,250.00 L317.20,250.00" stroke="#000" stroke-width="0.85" fill="none" stroke-linejoin="round" stroke-linecap="round" />
<circle cx="217.20" cy="245.72" r="0.60" fill="#fff" stroke="#000" stroke-width="0.45"/>
<circle cx="218.82" cy="243.21" r="0.60" fill="#fff" stroke="#000" stroke-width="0.45"/>
<circle cx="220.02" cy="240.46" r="0.60" fill="#fff" stroke="#000" stroke-width="0.45"/>
<circle cx="220.94" cy="237.60" r="0.60" fill="#fff" stroke="#000" stroke-width="0.45"/>
<circle cx="221.70" cy="234.70" r="0.60" fill="#fff" stroke="#000" stroke-width="0.45"/>
<circle cx="222.33" cy="231.77" r="0.60" fill="#fff" stroke="#000" stroke-width="0.45"/>
<circle cx="222.89" cy="228.82" r="0.60" fill="#fff" stroke="#000" stroke-width="0.45"/>
<circle cx="223.45" cy="225.87" r="0.60" fill="#fff" stroke="#000" stroke-width="0.45"/>
<circle cx="224.49" cy="225.26" r="0.60" fill="#fff" stroke="#000" stroke-width="0.45"/>
<circle cx="225.19" cy="228.18" r="0.60" fill="#fff" stroke="#000" stroke-width="0.45"/>
<circle cx="225.87" cy="231.10" r="0.60" fill="#fff" stroke="#000" stroke-width="0.45"/>
<circle cx="226.64" cy="234.00" r="0.60" fill="#fff" stroke="#000" stroke-width="0.45"/>
<circle cx="227.54" cy="236.86" r="0.60" fill="#fff" stroke="#000" stroke-width="0.45"/>
<circle cx="228.62" cy="239.65" r="0.60" fill="#fff" stroke="#000" stroke-width="0.45"/>
<circle cx="229.98" cy="242.33" r="0.60" fill="#fff" stroke="#000" stroke-width="0.45"/>
<circle cx="231.71" cy="244.78" r="0.60" fill="#fff" stroke="#000" stroke-width="0.45"/>
<circle cx="233.91" cy="246.80" r="0.60" fill="#fff" stroke="#000" stroke-width="0.45"/>
<circle cx="236.55" cy="248.21" r="0.60" fill="#fff" stroke="#000" stroke-width="0.45"/>
<path d="M217.20,248.98 L217.70,248.59 L218.20,248.15 L218.70,247.64 L219.20,247.04 L219.70,246.36 L220.20,245.58 L220.70,244.67 L221.20,243.63 L221.70,242.43 L222.20,241.05 L222.70,239.47 L223.20,237.66 L223.70,235.60 L224.20,233.29 L224.70,230.80 L225.20,228.55 L225.70,228.18 L226.20,229.63 L226.70,231.47 L227.20,233.28 L227.70,234.96 L228.20,236.50 L228.70,237.91 L229.20,239.19 L229.70,240.35 L230.20,241.41 L230.70,242.36 L231.20,243.23 L231.70,244.01 L232.20,244.72 L232.70,245.37 L233.20,245.95 L233.70,246.48 L234.20,246.95 L234.70,247.39 L235.20,247.78 L235.70,248.13 L236.20,248.45 L236.70,248.74 L237.20,249.00 L237.70,249.24 L238.20,249.46 L238.70,249.65 L239.20,249.83 L239.70,249.99 L240.20,250.13 L240.70,250.26 L241.20,250.38 L241.70,250.48 L242.20,250.58 L242.70,250.67 L243.20,250.75 L243.70,250.82 L244.20,250.88 L244.70,250.94 L245.20,251.00 L245.70,251.04 L246.20,251.09 L246.70,251.13 L247.20,251.16 L247.70,251.19 L248.20,251.22 L248.70,251.25 L249.20,251.27 L249.70,251.29 L250.20,251.31 L250.70,251.33 L251.20,251.35 L251.70,251.36 L252.20,251.38 L252.70,251.39 L253.20,251.40 L253.70,251.41 L254.20,251.42 L254.70,251.42 L255.20,251.43 L255.70,251.44 L256.20,251.44 L256.70,251.45 L257.20,251.45 L257.70,251.46 L258.20,251.46 L258.70,251.47 L259.20,251.47 L259.70,251.47 L260.20,251.47 L260.70,251.48 L261.20,251.48 L261.70,251.48 L262.20,251.48 L262.70,251.48 L263.20,251.49 L263.70,251.49 L264.20,251.49 L264.70,251.49 L265.20,251.49 L265.70,251.49 L266.20,251.49 L266.70,251.49 L267.20,251.49 L267.70,251.49 L268.20,251.49 L268.70,251.50 L269.20,251.50 L269.70,251.50 L270.20,251.50 L270.70,251.50 L271.20,251.50 L271.70,251.50 L272.20,251.50 L272.70,251.50 L273.20,251.50 L273.70,251.50 L274.20,251.50 L274.70,251.50 L275.20,251.50 L275.70,251.50 L276.20,251.50 L276.70,251.50 L277.20,251.50 L277.70,251.50 L278.20,251.50 L278.70,251.50 L279.20,251.50 L279.70,251.50 L280.20,251.50 L280.70,251.50 L281.20,251.50 L281.70,251.50 L282.20,251.50 L282.70,251.50 L283.20,251.50 L283.70,251.50 L284.20,251.50 L284.70,251.50 L285.20,251.50 L285.70,251.50 L286.20,251.50 L286.70,251.50 L287.20,251.50 L287.70,251.50 L288.20,251.50 L288.70,251.50 L289.20,251.50 L289.70,251.50 L290.20,251.50 L290.70,251.50 L291.20,251.50 L291.70,251.50 L292.20,251.50 L292.70,251.50 L293.20,251.50 L293.70,251.50 L294.20,251.50 L294.70,251.50 L295.20,251.50 L295.70,251.50 L296.20,251.50 L296.70,251.50 L297.20,251.50 L297.70,251.50 L298.20,251.50 L298.70,251.50 L299.20,251.50 L299.70,251.50 L300.20,251.50 L300.70,251.50 L301.20,251.50 L301.70,251.50 L302.20,251.50 L302.70,251.50 L303.20,251.50 L303.70,251.50 L304.20,251.50 L304.70,251.50 L305.20,251.50 L305.70,251.50 L306.20,251.50 L306.70,251.50 L307.20,251.50 L307.70,251.50 L308.20,251.50 L308.70,251.50 L309.20,251.50 L309.70,251.50 L310.20,251.50 L310.70,251.50 L311.20,251.50 L311.70,251.50 L312.20,251.50 L312.70,251.50 L313.20,251.50 L313.70,251.50 L314.20,251.50 L314.70,251.50 L315.20,251.50 L315.70,251.50 L316.20,251.50 L316.70,251.50 L317.20,251.50" stroke="#000" stroke-width="0.85" fill="none" stroke-linejoin="round" stroke-linecap="round" />
<circle cx="219.32" cy="246.88" r="0.60" fill="#fff" stroke="#000" stroke-width="0.45"/>
<circle cx="220.87" cy="244.31" r="0.60" fill="#fff" stroke="#000" stroke-width="0.45"/>
<circle cx="222.02" cy="241.55" r="0.60" fill="#fff" stroke="#000" stroke-width="0.45"/>
<circle cx="222.92" cy="238.68" r="0.60" fill="#fff" stroke="#000" stroke-width="0.45"/>
<circle cx="223.66" cy="235.78" r="0.60" fill="#fff" stroke="#000" stroke-width="0.45"/>
<circle cx="224.29" cy="232.84" r="0.60" fill="#fff" stroke="#000" stroke-width="0.45"/>
<circle cx="224.90" cy="229.91" r="0.60" fill="#fff" stroke="#000" stroke-width="0.45"/>
<circle cx="226.02" cy="229.12" r="0.60" fill="#fff" stroke="#000" stroke-width="0.45"/>
<circle cx="226.85" cy="232.00" r="0.60" fill="#fff" stroke="#000" stroke-width="0.45"/>
<circle cx="227.68" cy="234.88" r="0.60" fill="#fff" stroke="#000" stroke-width="0.45"/>
<circle cx="228.63" cy="237.72" r="0.60" fill="#fff" stroke="#000" stroke-width="0.45"/>
<circle cx="229.77" cy="240.50" r="0.60" fill="#fff" stroke="#000" stroke-width="0.45"/>
<circle cx="231.16" cy="243.16" r="0.60" fill="#fff" stroke="#000" stroke-width="0.45"/>
<circle cx="232.90" cy="245.60" r="0.60" fill="#fff" stroke="#000" stroke-width="0.45"/>
<circle cx="235.06" cy="247.67" r="0.60" fill="#fff" stroke="#000" stroke-width="0.45"/>
<path d="M217.20,250.20 L217.70,250.16 L218.20,250.10 L218.70,250.04 L219.20,249.97 L219.70,249.88 L220.20,249.78 L220.70,249.67 L221.20,249.54 L221.70,249.39 L222.20,249.21 L222.70,249.01 L223.20,248.77 L223.70,248.50 L224.20,248.18 L224.70,247.81 L225.20,247.39 L225.70,246.90 L226.20,246.32 L226.70,245.66 L227.20,244.90 L227.70,244.01 L228.20,242.98 L228.70,241.79 L229.20,240.41 L229.70,238.81 L230.20,236.96 L230.70,234.82 L231.20,232.34 L231.70,229.46 L232.20,226.13 L232.70,222.28 L233.20,217.81 L233.70,212.64 L234.20,206.66 L234.70,199.74 L235.20,191.75 L235.70,182.56 L236.20,172.13 L236.70,162.12 L237.20,166.97 L237.70,176.54 L238.20,185.31 L238.70,193.10 L239.20,199.98 L239.70,206.04 L240.20,211.38 L240.70,216.08 L241.20,220.22 L241.70,223.86 L242.20,227.06 L242.70,229.88 L243.20,232.36 L243.70,234.54 L244.20,236.46 L244.70,238.15 L245.20,239.64 L245.70,240.94 L246.20,242.09 L246.70,243.10 L247.20,243.99 L247.70,244.78 L248.20,245.47 L248.70,246.07 L249.20,246.60 L249.70,247.07 L250.20,247.48 L250.70,247.85 L251.20,248.17 L251.70,248.45 L252.20,248.69 L252.70,248.91 L253.20,249.10 L253.70,249.27 L254.20,249.42 L254.70,249.55 L255.20,249.66 L255.70,249.76 L256.20,249.85 L256.70,249.93 L257.20,250.00 L257.70,250.06 L258.20,250.11 L258.70,250.16 L259.20,250.20 L259.70,250.24 L260.20,250.27 L260.70,250.30 L261.20,250.32 L261.70,250.34 L262.20,250.36 L262.70,250.38 L263.20,250.39 L263.70,250.41 L264.20,250.42 L264.70,250.43 L265.20,250.44 L265.70,250.44 L266.20,250.45 L266.70,250.46 L267.20,250.46 L267.70,250.47 L268.20,250.47 L268.70,250.47 L269.20,250.48 L269.70,250.48 L270.20,250.48 L270.70,250.48 L271.20,250.49 L271.70,250.49 L272.20,250.49 L272.70,250.49 L273.20,250.49 L273.70,250.49 L274.20,250.49 L274.70,250.49 L275.20,250.50 L275.70,250.50 L276.20,250.50 L276.70,250.50 L277.20,250.50 L277.70,250.50 L278.20,250.50 L278.70,250.50 L279.20,250.50 L279.70,250.50 L280.20,250.50 L280.70,250.50 L281.20,250.50 L281.70,250.50 L282.20,250.50 L282.70,250.50 L283.20,250.50 L283.70,250.50 L284.20,250.50 L284.70,250.50 L285.20,250.50 L285.70,250.50 L286.20,250.50 L286.70,250.50 L287.20,250.50 L287.70,250.50 L288.20,250.50 L288.70,250.50 L289.20,250.50 L289.70,250.50 L290.20,250.50 L290.70,250.50 L291.20,250.50 L291.70,250.50 L292.20,250.50 L292.70,250.50 L293.20,250.50 L293.70,250.50 L294.20,250.50 L294.70,250.50 L295.20,250.50 L295.70,250.50 L296.20,250.50 L296.70,250.50 L297.20,250.50 L297.70,250.50 L298.20,250.50 L298.70,250.50 L299.20,250.50 L299.70,250.50 L300.20,250.50 L300.70,250.50 L301.20,250.50 L301.70,250.50 L302.20,250.50 L302.70,250.50 L303.20,250.50 L303.70,250.50 L304.20,250.50 L304.70,250.50 L305.20,250.50 L305.70,250.50 L306.20,250.50 L306.70,250.50 L307.20,250.50 L307.70,250.50 L308.20,250.50 L308.70,250.50 L309.20,250.50 L309.70,250.50 L310.20,250.50 L310.70,250.50 L311.20,250.50 L311.70,250.50 L312.20,250.50 L312.70,250.50 L313.20,250.50 L313.70,250.50 L314.20,250.50 L314.70,250.50 L315.20,250.50 L315.70,250.50 L316.20,250.50 L316.70,250.50 L317.20,250.50" stroke="#000" stroke-width="0.85" fill="none" stroke-linejoin="round" stroke-linecap="round" />
<circle cx="225.45" cy="247.14" r="0.60" fill="#fff" stroke="#000" stroke-width="0.45"/>
<circle cx="227.27" cy="244.77" r="0.60" fill="#fff" stroke="#000" stroke-width="0.45"/>
<circle cx="228.58" cy="242.07" r="0.60" fill="#fff" stroke="#000" stroke-width="0.45"/>
<circle cx="229.57" cy="239.24" r="0.60" fill="#fff" stroke="#000" stroke-width="0.45"/>
<circle cx="230.35" cy="236.34" r="0.60" fill="#fff" stroke="#000" stroke-width="0.45"/>
<circle cx="230.98" cy="233.41" r="0.60" fill="#fff" stroke="#000" stroke-width="0.45"/>
<circle cx="231.53" cy="230.46" r="0.60" fill="#fff" stroke="#000" stroke-width="0.45"/>
<circle cx="232.00" cy="227.50" r="0.60" fill="#fff" stroke="#000" stroke-width="0.45"/>
<circle cx="232.41" cy="224.53" r="0.60" fill="#fff" stroke="#000" stroke-width="0.45"/>
<circle cx="232.78" cy="221.55" r="0.60" fill="#fff" stroke="#000" stroke-width="0.45"/>
<circle cx="233.12" cy="218.57" r="0.60" fill="#fff" stroke="#000" stroke-width="0.45"/>
<circle cx="233.42" cy="215.58" r="0.60" fill="#fff" stroke="#000" stroke-width="0.45"/>
<circle cx="233.70" cy="212.60" r="0.60" fill="#fff" stroke="#000" stroke-width="0.45"/>
<circle cx="233.95" cy="209.61" r="0.60" fill="#fff" stroke="#000" stroke-width="0.45"/>
<circle cx="234.20" cy="206.62" r="0.60" fill="#fff" stroke="#000" stroke-width="0.45"/>
<circle cx="234.42" cy="203.63" r="0.60" fill="#fff" stroke="#000" stroke-width="0.45"/>
<circle cx="234.64" cy="200.63" r="0.60" fill="#fff" stroke="#000" stroke-width="0.45"/>
<circle cx="234.83" cy="197.64" r="0.60" fill="#fff" stroke="#000" stroke-width="0.45"/>
<circle cx="235.02" cy="194.65" r="0.60" fill="#fff" stroke="#000" stroke-width="0.45"/>
<circle cx="235.21" cy="191.65" r="0.60" fill="#fff" stroke="#000" stroke-width="0.45"/>
<circle cx="235.37" cy="188.66" r="0.60" fill="#fff" stroke="#000" stroke-width="0.45"/>
<circle cx="235.53" cy="185.66" r="0.60" fill="#fff" stroke="#000" stroke-width="0.45"/>
<circle cx="235.69" cy="182.67" r="0.60" fill="#fff" stroke="#000" stroke-width="0.45"/>
<circle cx="235.84" cy="179.67" r="0.60" fill="#fff" stroke="#000" stroke-width="0.45"/>
<circle cx="235.98" cy="176.67" r="0.60" fill="#fff" stroke="#000" stroke-width="0.45"/>
<circle cx="236.13" cy="173.68" r="0.60" fill="#fff" stroke="#000" stroke-width="0.45"/>
<circle cx="236.27" cy="170.68" r="0.60" fill="#fff" stroke="#000" stroke-width="0.45"/>
<circle cx="236.42" cy="167.68" r="0.60" fill="#fff" stroke="#000" stroke-width="0.45"/>
<circle cx="236.57" cy="164.69" r="0.60" fill="#fff" stroke="#000" stroke-width="0.45"/>
<circle cx="236.74" cy="162.54" r="0.60" fill="#fff" stroke="#000" stroke-width="0.45"/>
<circle cx="237.05" cy="165.52" r="0.60" fill="#fff" stroke="#000" stroke-width="0.45"/>
<circle cx="237.28" cy="168.51" r="0.60" fill="#fff" stroke="#000" stroke-width="0.45"/>
<circle cx="237.44" cy="171.51" r="0.60" fill="#fff" stroke="#000" stroke-width="0.45"/>
<circle cx="237.59" cy="174.51" r="0.60" fill="#fff" stroke="#000" stroke-width="0.45"/>
<circle cx="237.75" cy="177.50" r="0.60" fill="#fff" stroke="#000" stroke-width="0.45"/>
<circle cx="237.93" cy="180.50" r="0.60" fill="#fff" stroke="#000" stroke-width="0.45"/>
<circle cx="238.10" cy="183.49" r="0.60" fill="#fff" stroke="#000" stroke-width="0.45"/>
<circle cx="238.28" cy="186.49" r="0.60" fill="#fff" stroke="#000" stroke-width="0.45"/>
<circle cx="238.47" cy="189.48" r="0.60" fill="#fff" stroke="#000" stroke-width="0.45"/>
<circle cx="238.66" cy="192.47" r="0.60" fill="#fff" stroke="#000" stroke-width="0.45"/>
<circle cx="238.87" cy="195.47" r="0.60" fill="#fff" stroke="#000" stroke-width="0.45"/>
<circle cx="239.09" cy="198.46" r="0.60" fill="#fff" stroke="#000" stroke-width="0.45"/>
<circle cx="239.32" cy="201.45" r="0.60" fill="#fff" stroke="#000" stroke-width="0.45"/>
<circle cx="239.57" cy="204.44" r="0.60" fill="#fff" stroke="#000" stroke-width="0.45"/>
<circle cx="239.83" cy="207.43" r="0.60" fill="#fff" stroke="#000" stroke-width="0.45"/>
<circle cx="240.11" cy="210.42" r="0.60" fill="#fff" stroke="#000" stroke-width="0.45"/>
<circle cx="240.41" cy="213.40" r="0.60" fill="#fff" stroke="#000" stroke-width="0.45"/>
<circle cx="240.74" cy="216.38" r="0.60" fill="#fff" stroke="#000" stroke-width="0.45"/>
<circle cx="241.10" cy="219.36" r="0.60" fill="#fff" stroke="#000" stroke-width="0.45"/>
<circle cx="241.49" cy="222.33" r="0.60" fill="#fff" stroke="#000" stroke-width="0.45"/>
<circle cx="241.93" cy="225.30" r="0.60" fill="#fff" stroke="#000" stroke-width="0.45"/>
<circle cx="242.41" cy="228.26" r="0.60" fill="#fff" stroke="#000" stroke-width="0.45"/>
<circle cx="242.97" cy="231.21" r="0.60" fill="#fff" stroke="#000" stroke-width="0.45"/>
<circle cx="243.61" cy="234.14" r="0.60" fill="#fff" stroke="#000" stroke-width="0.45"/>
<circle cx="244.37" cy="237.04" r="0.60" fill="#fff" stroke="#000" stroke-width="0.45"/>
<circle cx="245.30" cy="239.89" r="0.60" fill="#fff" stroke="#000" stroke-width="0.45"/>
<circle cx="246.48" cy="242.65" r="0.60" fill="#fff" stroke="#000" stroke-width="0.45"/>
<circle cx="248.02" cy="245.22" r="0.60" fill="#fff" stroke="#000" stroke-width="0.45"/>
<circle cx="250.08" cy="247.39" r="0.60" fill="#fff" stroke="#000" stroke-width="0.45"/>
<path d="M217.20,248.51 L217.70,248.44 L218.20,248.36 L218.70,248.26 L219.20,248.16 L219.70,248.04 L220.20,247.90 L220.70,247.74 L221.20,247.55 L221.70,247.34 L222.20,247.10 L222.70,246.83 L223.20,246.52 L223.70,246.16 L224.20,245.75 L224.70,245.28 L225.20,244.74 L225.70,244.12 L226.20,243.41 L226.70,242.61 L227.20,241.68 L227.70,240.62 L228.20,239.41 L228.70,238.02 L229.20,236.44 L229.70,234.62 L230.20,232.54 L230.70,230.16 L231.20,227.44 L231.70,224.32 L232.20,220.75 L232.70,216.67 L233.20,212.00 L233.70,206.66 L234.20,200.56 L234.70,193.60 L235.20,185.70 L235.70,176.91 L236.20,170.00 L236.70,176.12 L237.20,184.01 L237.70,191.21 L238.20,197.66 L238.70,203.40 L239.20,208.50 L239.70,213.04 L240.20,217.07 L240.70,220.65 L241.20,223.83 L241.70,226.65 L242.20,229.16 L242.70,231.39 L243.20,233.36 L243.70,235.12 L244.20,236.67 L244.70,238.06 L245.20,239.28 L245.70,240.38 L246.20,241.34 L246.70,242.20 L247.20,242.96 L247.70,243.64 L248.20,244.24 L248.70,244.78 L249.20,245.25 L249.70,245.67 L250.20,246.05 L250.70,246.38 L251.20,246.67 L251.70,246.93 L252.20,247.16 L252.70,247.37 L253.20,247.55 L253.70,247.72 L254.20,247.86 L254.70,247.99 L255.20,248.10 L255.70,248.20 L256.20,248.29 L256.70,248.37 L257.20,248.44 L257.70,248.50 L258.20,248.56 L258.70,248.61 L259.20,248.65 L259.70,248.69 L260.20,248.73 L260.70,248.76 L261.20,248.78 L261.70,248.81 L262.20,248.83 L262.70,248.85 L263.20,248.87 L263.70,248.88 L264.20,248.89 L264.70,248.91 L265.20,248.92 L265.70,248.93 L266.20,248.93 L266.70,248.94 L267.20,248.95 L267.70,248.95 L268.20,248.96 L268.70,248.96 L269.20,248.97 L269.70,248.97 L270.20,248.97 L270.70,248.98 L271.20,248.98 L271.70,248.98 L272.20,248.98 L272.70,248.99 L273.20,248.99 L273.70,248.99 L274.20,248.99 L274.70,248.99 L275.20,248.99 L275.70,248.99 L276.20,248.99 L276.70,248.99 L277.20,249.00 L277.70,249.00 L278.20,249.00 L278.70,249.00 L279.20,249.00 L279.70,249.00 L280.20,249.00 L280.70,249.00 L281.20,249.00 L281.70,249.00 L282.20,249.00 L282.70,249.00 L283.20,249.00 L283.70,249.00 L284.20,249.00 L284.70,249.00 L285.20,249.00 L285.70,249.00 L286.20,249.00 L286.70,249.00 L287.20,249.00 L287.70,249.00 L288.20,249.00 L288.70,249.00 L289.20,249.00 L289.70,249.00 L290.20,249.00 L290.70,249.00 L291.20,249.00 L291.70,249.00 L292.20,249.00 L292.70,249.00 L293.20,249.00 L293.70,249.00 L294.20,249.00 L294.70,249.00 L295.20,249.00 L295.70,249.00 L296.20,249.00 L296.70,249.00 L297.20,249.00 L297.70,249.00 L298.20,249.00 L298.70,249.00 L299.20,249.00 L299.70,249.00 L300.20,249.00 L300.70,249.00 L301.20,249.00 L301.70,249.00 L302.20,249.00 L302.70,249.00 L303.20,249.00 L303.70,249.00 L304.20,249.00 L304.70,249.00 L305.20,249.00 L305.70,249.00 L306.20,249.00 L306.70,249.00 L307.20,249.00 L307.70,249.00 L308.20,249.00 L308.70,249.00 L309.20,249.00 L309.70,249.00 L310.20,249.00 L310.70,249.00 L311.20,249.00 L311.70,249.00 L312.20,249.00 L312.70,249.00 L313.20,249.00 L313.70,249.00 L314.20,249.00 L314.70,249.00 L315.20,249.00 L315.70,249.00 L316.20,249.00 L316.70,249.00 L317.20,249.00" stroke="#000" stroke-width="0.85" fill="none" stroke-linejoin="round" stroke-linecap="round" />
<circle cx="220.14" cy="247.91" r="0.60" fill="#fff" stroke="#000" stroke-width="0.45"/>
<circle cx="222.88" cy="246.72" r="0.60" fill="#fff" stroke="#000" stroke-width="0.45"/>
<circle cx="225.16" cy="244.78" r="0.60" fill="#fff" stroke="#000" stroke-width="0.45"/>
<circle cx="226.86" cy="242.32" r="0.60" fill="#fff" stroke="#000" stroke-width="0.45"/>
<circle cx="228.12" cy="239.60" r="0.60" fill="#fff" stroke="#000" stroke-width="0.45"/>
<circle cx="229.10" cy="236.77" r="0.60" fill="#fff" stroke="#000" stroke-width="0.45"/>
<circle cx="229.88" cy="233.87" r="0.60" fill="#fff" stroke="#000" stroke-width="0.45"/>
<circle cx="230.54" cy="230.94" r="0.60" fill="#fff" stroke="#000" stroke-width="0.45"/>
<circle cx="231.10" cy="228.00" r="0.60" fill="#fff" stroke="#000" stroke-width="0.45"/>
<circle cx="231.58" cy="225.04" r="0.60" fill="#fff" stroke="#000" stroke-width="0.45"/>
<circle cx="232.02" cy="222.07" r="0.60" fill="#fff" stroke="#000" stroke-width="0.45"/>
<circle cx="232.40" cy="219.09" r="0.60" fill="#fff" stroke="#000" stroke-width="0.45"/>
<circle cx="232.76" cy="216.11" r="0.60" fill="#fff" stroke="#000" stroke-width="0.45"/>
<circle cx="233.08" cy="213.13" r="0.60" fill="#fff" stroke="#000" stroke-width="0.45"/>
<circle cx="233.37" cy="210.15" r="0.60" fill="#fff" stroke="#000" stroke-width="0.45"/>
<circle cx="233.65" cy="207.16" r="0.60" fill="#fff" stroke="#000" stroke-width="0.45"/>
<circle cx="233.90" cy="204.17" r="0.60" fill="#fff" stroke="#000" stroke-width="0.45"/>
<circle cx="234.15" cy="201.18" r="0.60" fill="#fff" stroke="#000" stroke-width="0.45"/>
<circle cx="234.37" cy="198.19" r="0.60" fill="#fff" stroke="#000" stroke-width="0.45"/>
<circle cx="234.59" cy="195.20" r="0.60" fill="#fff" stroke="#000" stroke-width="0.45"/>
<circle cx="234.79" cy="192.20" r="0.60" fill="#fff" stroke="#000" stroke-width="0.45"/>
<circle cx="234.98" cy="189.21" r="0.60" fill="#fff" stroke="#000" stroke-width="0.45"/>
<circle cx="235.17" cy="186.21" r="0.60" fill="#fff" stroke="#000" stroke-width="0.45"/>
<circle cx="235.34" cy="183.22" r="0.60" fill="#fff" stroke="#000" stroke-width="0.45"/>
<circle cx="235.51" cy="180.22" r="0.60" fill="#fff" stroke="#000" stroke-width="0.45"/>
<circle cx="235.68" cy="177.23" r="0.60" fill="#fff" stroke="#000" stroke-width="0.45"/>
<circle cx="235.89" cy="174.24" r="0.60" fill="#fff" stroke="#000" stroke-width="0.45"/>
<circle cx="236.11" cy="171.24" r="0.60" fill="#fff" stroke="#000" stroke-width="0.45"/>
<circle cx="236.34" cy="171.75" r="0.60" fill="#fff" stroke="#000" stroke-width="0.45"/>
<circle cx="236.59" cy="174.74" r="0.60" fill="#fff" stroke="#000" stroke-width="0.45"/>
<circle cx="236.80" cy="177.73" r="0.60" fill="#fff" stroke="#000" stroke-width="0.45"/>
<circle cx="236.99" cy="180.72" r="0.60" fill="#fff" stroke="#000" stroke-width="0.45"/>
<circle cx="237.18" cy="183.72" r="0.60" fill="#fff" stroke="#000" stroke-width="0.45"/>
<circle cx="237.39" cy="186.71" r="0.60" fill="#fff" stroke="#000" stroke-width="0.45"/>
<circle cx="237.60" cy="189.70" r="0.60" fill="#fff" stroke="#000" stroke-width="0.45"/>
<circle cx="237.81" cy="192.69" r="0.60" fill="#fff" stroke="#000" stroke-width="0.45"/>
<circle cx="238.05" cy="195.69" r="0.60" fill="#fff" stroke="#000" stroke-width="0.45"/>
<circle cx="238.29" cy="198.68" r="0.60" fill="#fff" stroke="#000" stroke-width="0.45"/>
<circle cx="238.55" cy="201.66" r="0.60" fill="#fff" stroke="#000" stroke-width="0.45"/>
<circle cx="238.82" cy="204.65" r="0.60" fill="#fff" stroke="#000" stroke-width="0.45"/>
<circle cx="239.12" cy="207.64" r="0.60" fill="#fff" stroke="#000" stroke-width="0.45"/>
<circle cx="239.43" cy="210.62" r="0.60" fill="#fff" stroke="#000" stroke-width="0.45"/>
<circle cx="239.77" cy="213.60" r="0.60" fill="#fff" stroke="#000" stroke-width="0.45"/>
<circle cx="240.14" cy="216.58" r="0.60" fill="#fff" stroke="#000" stroke-width="0.45"/>
<circle cx="240.55" cy="219.55" r="0.60" fill="#fff" stroke="#000" stroke-width="0.45"/>
<circle cx="240.99" cy="222.52" r="0.60" fill="#fff" stroke="#000" stroke-width="0.45"/>
<circle cx="241.49" cy="225.48" r="0.60" fill="#fff" stroke="#000" stroke-width="0.45"/>
<circle cx="242.05" cy="228.42" r="0.60" fill="#fff" stroke="#000" stroke-width="0.45"/>
<circle cx="242.69" cy="231.35" r="0.60" fill="#fff" stroke="#000" stroke-width="0.45"/>
<circle cx="243.45" cy="234.25" r="0.60" fill="#fff" stroke="#000" stroke-width="0.45"/>
<circle cx="244.36" cy="237.11" r="0.60" fill="#fff" stroke="#000" stroke-width="0.45"/>
<circle cx="245.48" cy="239.90" r="0.60" fill="#fff" stroke="#000" stroke-width="0.45"/>
<circle cx="246.91" cy="242.53" r="0.60" fill="#fff" stroke="#000" stroke-width="0.45"/>
<circle cx="248.79" cy="244.86" r="0.60" fill="#fff" stroke="#000" stroke-width="0.45"/>
<circle cx="251.18" cy="246.66" r="0.60" fill="#fff" stroke="#000" stroke-width="0.45"/>
<circle cx="253.95" cy="247.79" r="0.60" fill="#fff" stroke="#000" stroke-width="0.45"/>
<circle cx="256.89" cy="248.40" r="0.60" fill="#fff" stroke="#000" stroke-width="0.45"/>
<path d="M217.20,251.10 L217.70,251.04 L218.20,250.98 L218.70,250.90 L219.20,250.82 L219.70,250.73 L220.20,250.62 L220.70,250.49 L221.20,250.35 L221.70,250.19 L222.20,250.00 L222.70,249.79 L223.20,249.55 L223.70,249.28 L224.20,248.97 L224.70,248.61 L225.20,248.21 L225.70,247.74 L226.20,247.22 L226.70,246.61 L227.20,245.93 L227.70,245.14 L228.20,244.25 L228.70,243.23 L229.20,242.07 L229.70,240.74 L230.20,239.23 L230.70,237.50 L231.20,235.53 L231.70,233.29 L232.20,230.73 L232.70,227.81 L233.20,224.48 L233.70,220.69 L234.20,216.37 L234.70,211.44 L235.20,205.82 L235.70,199.44 L236.20,192.19 L236.70,184.05 L237.20,175.67 L237.70,176.78 L238.20,184.26 L238.70,191.35 L239.20,197.76 L239.70,203.51 L240.20,208.65 L240.70,213.24 L241.20,217.35 L241.70,221.01 L242.20,224.28 L242.70,227.20 L243.20,229.81 L243.70,232.14 L244.20,234.22 L244.70,236.07 L245.20,237.73 L245.70,239.21 L246.20,240.53 L246.70,241.71 L247.20,242.76 L247.70,243.70 L248.20,244.54 L248.70,245.28 L249.20,245.95 L249.70,246.55 L250.20,247.08 L250.70,247.55 L251.20,247.98 L251.70,248.36 L252.20,248.69 L252.70,249.00 L253.20,249.26 L253.70,249.50 L254.20,249.72 L254.70,249.91 L255.20,250.08 L255.70,250.23 L256.20,250.37 L256.70,250.49 L257.20,250.60 L257.70,250.70 L258.20,250.78 L258.70,250.86 L259.20,250.93 L259.70,250.99 L260.20,251.04 L260.70,251.09 L261.20,251.14 L261.70,251.18 L262.20,251.21 L262.70,251.24 L263.20,251.27 L263.70,251.29 L264.20,251.32 L264.70,251.34 L265.20,251.35 L265.70,251.37 L266.20,251.38 L266.70,251.40 L267.20,251.41 L267.70,251.42 L268.20,251.43 L268.70,251.43 L269.20,251.44 L269.70,251.45 L270.20,251.45 L270.70,251.46 L271.20,251.46 L271.70,251.47 L272.20,251.47 L272.70,251.47 L273.20,251.48 L273.70,251.48 L274.20,251.48 L274.70,251.48 L275.20,251.48 L275.70,251.49 L276.20,251.49 L276.70,251.49 L277.20,251.49 L277.70,251.49 L278.20,251.49 L278.70,251.49 L279.20,251.49 L279.70,251.49 L280.20,251.50 L280.70,251.50 L281.20,251.50 L281.70,251.50 L282.20,251.50 L282.70,251.50 L283.20,251.50 L283.70,251.50 L284.20,251.50 L284.70,251.50 L285.20,251.50 L285.70,251.50 L286.20,251.50 L286.70,251.50 L287.20,251.50 L287.70,251.50 L288.20,251.50 L288.70,251.50 L289.20,251.50 L289.70,251.50 L290.20,251.50 L290.70,251.50 L291.20,251.50 L291.70,251.50 L292.20,251.50 L292.70,251.50 L293.20,251.50 L293.70,251.50 L294.20,251.50 L294.70,251.50 L295.20,251.50 L295.70,251.50 L296.20,251.50 L296.70,251.50 L297.20,251.50 L297.70,251.50 L298.20,251.50 L298.70,251.50 L299.20,251.50 L299.70,251.50 L300.20,251.50 L300.70,251.50 L301.20,251.50 L301.70,251.50 L302.20,251.50 L302.70,251.50 L303.20,251.50 L303.70,251.50 L304.20,251.50 L304.70,251.50 L305.20,251.50 L305.70,251.50 L306.20,251.50 L306.70,251.50 L307.20,251.50 L307.70,251.50 L308.20,251.50 L308.70,251.50 L309.20,251.50 L309.70,251.50 L310.20,251.50 L310.70,251.50 L311.20,251.50 L311.70,251.50 L312.20,251.50 L312.70,251.50 L313.20,251.50 L313.70,251.50 L314.20,251.50 L314.70,251.50 L315.20,251.50 L315.70,251.50 L316.20,251.50 L316.70,251.50 L317.20,251.50" stroke="#000" stroke-width="0.85" fill="none" stroke-linejoin="round" stroke-linecap="round" />
<circle cx="225.46" cy="247.97" r="0.60" fill="#fff" stroke="#000" stroke-width="0.45"/>
<circle cx="227.37" cy="245.66" r="0.60" fill="#fff" stroke="#000" stroke-width="0.45"/>
<circle cx="228.79" cy="243.03" r="0.60" fill="#fff" stroke="#000" stroke-width="0.45"/>
<circle cx="229.87" cy="240.23" r="0.60" fill="#fff" stroke="#000" stroke-width="0.45"/>
<circle cx="230.74" cy="237.36" r="0.60" fill="#fff" stroke="#000" stroke-width="0.45"/>
<circle cx="231.44" cy="234.44" r="0.60" fill="#fff" stroke="#000" stroke-width="0.45"/>
<circle cx="232.05" cy="231.50" r="0.60" fill="#fff" stroke="#000" stroke-width="0.45"/>
<circle cx="232.57" cy="228.55" r="0.60" fill="#fff" stroke="#000" stroke-width="0.45"/>
<circle cx="233.03" cy="225.59" r="0.60" fill="#fff" stroke="#000" stroke-width="0.45"/>
<circle cx="233.45" cy="222.61" r="0.60" fill="#fff" stroke="#000" stroke-width="0.45"/>
<circle cx="233.82" cy="219.64" r="0.60" fill="#fff" stroke="#000" stroke-width="0.45"/>
<circle cx="234.17" cy="216.66" r="0.60" fill="#fff" stroke="#000" stroke-width="0.45"/>
<circle cx="234.47" cy="213.67" r="0.60" fill="#fff" stroke="#000" stroke-width="0.45"/>
<circle cx="234.77" cy="210.69" r="0.60" fill="#fff" stroke="#000" stroke-width="0.45"/>
<circle cx="235.03" cy="207.70" r="0.60" fill="#fff" stroke="#000" stroke-width="0.45"/>
<circle cx="235.29" cy="204.71" r="0.60" fill="#fff" stroke="#000" stroke-width="0.45"/>
<circle cx="235.52" cy="201.72" r="0.60" fill="#fff" stroke="#000" stroke-width="0.45"/>
<circle cx="235.75" cy="198.73" r="0.60" fill="#fff" stroke="#000" stroke-width="0.45"/>
<circle cx="235.96" cy="195.74" r="0.60" fill="#fff" stroke="#000" stroke-width="0.45"/>
<circle cx="236.16" cy="192.74" r="0.60" fill="#fff" stroke="#000" stroke-width="0.45"/>
<circle cx="236.35" cy="189.75" r="0.60" fill="#fff" stroke="#000" stroke-width="0.45"/>
<circle cx="236.53" cy="186.75" r="0.60" fill="#fff" stroke="#000" stroke-width="0.45"/>
<circle cx="236.72" cy="183.76" r="0.60" fill="#fff" stroke="#000" stroke-width="0.45"/>
<circle cx="236.90" cy="180.77" r="0.60" fill="#fff" stroke="#000" stroke-width="0.45"/>
<circle cx="237.07" cy="177.77" r="0.60" fill="#fff" stroke="#000" stroke-width="0.45"/>
<circle cx="237.57" cy="176.49" r="0.60" fill="#fff" stroke="#000" stroke-width="0.45"/>
<circle cx="237.88" cy="179.45" r="0.60" fill="#fff" stroke="#000" stroke-width="0.45"/>
<circle cx="238.08" cy="182.45" r="0.60" fill="#fff" stroke="#000" stroke-width="0.45"/>
<circle cx="238.28" cy="185.44" r="0.60" fill="#fff" stroke="#000" stroke-width="0.45"/>
<circle cx="238.49" cy="188.43" r="0.60" fill="#fff" stroke="#000" stroke-width="0.45"/>
<circle cx="238.71" cy="191.43" r="0.60" fill="#fff" stroke="#000" stroke-width="0.45"/>
<circle cx="238.94" cy="194.42" r="0.60" fill="#fff" stroke="#000" stroke-width="0.45"/>
<circle cx="239.17" cy="197.41" r="0.60" fill="#fff" stroke="#000" stroke-width="0.45"/>
<circle cx="239.43" cy="200.40" r="0.60" fill="#fff" stroke="#000" stroke-width="0.45"/>
<circle cx="239.69" cy="203.38" r="0.60" fill="#fff" stroke="#000" stroke-width="0.45"/>
<circle cx="239.98" cy="206.37" r="0.60" fill="#fff" stroke="#000" stroke-width="0.45"/>
<circle cx="240.28" cy="209.36" r="0.60" fill="#fff" stroke="#000" stroke-width="0.45"/>
<circle cx="240.60" cy="212.34" r="0.60" fill="#fff" stroke="#000" stroke-width="0.45"/>
<circle cx="240.95" cy="215.32" r="0.60" fill="#fff" stroke="#000" stroke-width="0.45"/>
<circle cx="241.33" cy="218.29" r="0.60" fill="#fff" stroke="#000" stroke-width="0.45"/>
<circle cx="241.74" cy="221.27" r="0.60" fill="#fff" stroke="#000" stroke-width="0.45"/>
<circle cx="242.19" cy="224.23" r="0.60" fill="#fff" stroke="#000" stroke-width="0.45"/>
<circle cx="242.70" cy="227.19" r="0.60" fill="#fff" stroke="#000" stroke-width="0.45"/>
<circle cx="243.27" cy="230.13" r="0.60" fill="#fff" stroke="#000" stroke-width="0.45"/>
<circle cx="243.92" cy="233.06" r="0.60" fill="#fff" stroke="#000" stroke-width="0.45"/>
<circle cx="244.67" cy="235.97" r="0.60" fill="#fff" stroke="#000" stroke-width="0.45"/>
<circle cx="245.57" cy="238.83" r="0.60" fill="#fff" stroke="#000" stroke-width="0.45"/>
<circle cx="246.66" cy="241.62" r="0.60" fill="#fff" stroke="#000" stroke-width="0.45"/>
<circle cx="248.05" cy="244.28" r="0.60" fill="#fff" stroke="#000" stroke-width="0.45"/>
<circle cx="249.83" cy="246.69" r="0.60" fill="#fff" stroke="#000" stroke-width="0.45"/>
<path d="M217.20,249.71 L217.70,249.68 L218.20,249.65 L218.70,249.62 L219.20,249.58 L219.70,249.54 L220.20,249.50 L220.70,249.46 L221.20,249.41 L221.70,249.35 L222.20,249.29 L222.70,249.22 L223.20,249.15 L223.70,249.07 L224.20,248.98 L224.70,248.89 L225.20,248.78 L225.70,248.67 L226.20,248.55 L226.70,248.41 L227.20,248.26 L227.70,248.10 L228.20,247.92 L228.70,247.73 L229.20,247.52 L229.70,247.29 L230.20,247.03 L230.70,246.76 L231.20,246.45 L231.70,246.12 L232.20,245.76 L232.70,245.36 L233.20,244.93 L233.70,244.46 L234.20,243.94 L234.70,243.37 L235.20,242.75 L235.70,242.08 L236.20,241.34 L236.70,240.53 L237.20,239.65 L237.70,238.68 L238.20,237.62 L238.70,236.47 L239.20,235.20 L239.70,233.82 L240.20,232.31 L240.70,230.66 L241.20,228.85 L241.70,226.88 L242.20,224.72 L242.70,222.36 L243.20,219.78 L243.70,216.96 L244.20,213.88 L244.70,210.51 L245.20,206.83 L245.70,202.81 L246.20,198.42 L246.70,193.64 L247.20,188.47 L247.70,183.02 L248.20,180.27 L248.70,184.72 L249.20,189.63 L249.70,194.26 L250.20,198.56 L250.70,202.53 L251.20,206.20 L251.70,209.58 L252.20,212.71 L252.70,215.60 L253.20,218.26 L253.70,220.72 L254.20,222.99 L254.70,225.08 L255.20,227.01 L255.70,228.79 L256.20,230.43 L256.70,231.95 L257.20,233.35 L257.70,234.64 L258.20,235.83 L258.70,236.92 L259.20,237.94 L259.70,238.87 L260.20,239.73 L260.70,240.53 L261.20,241.26 L261.70,241.94 L262.20,242.56 L262.70,243.14 L263.20,243.67 L263.70,244.16 L264.20,244.61 L264.70,245.03 L265.20,245.42 L265.70,245.77 L266.20,246.10 L266.70,246.40 L267.20,246.68 L267.70,246.94 L268.20,247.17 L268.70,247.39 L269.20,247.60 L269.70,247.78 L270.20,247.95 L270.70,248.11 L271.20,248.26 L271.70,248.39 L272.20,248.52 L272.70,248.63 L273.20,248.74 L273.70,248.84 L274.20,248.93 L274.70,249.01 L275.20,249.09 L275.70,249.16 L276.20,249.22 L276.70,249.28 L277.20,249.34 L277.70,249.39 L278.20,249.44 L278.70,249.48 L279.20,249.52 L279.70,249.56 L280.20,249.59 L280.70,249.62 L281.20,249.65 L281.70,249.68 L282.20,249.70 L282.70,249.73 L283.20,249.75 L283.70,249.77 L284.20,249.79 L284.70,249.80 L285.20,249.82 L285.70,249.83 L286.20,249.85 L286.70,249.86 L287.20,249.87 L287.70,249.88 L288.20,249.89 L288.70,249.90 L289.20,249.90 L289.70,249.91 L290.20,249.92 L290.70,249.93 L291.20,249.93 L291.70,249.94 L292.20,249.94 L292.70,249.95 L293.20,249.95 L293.70,249.95 L294.20,249.96 L294.70,249.96 L295.20,249.96 L295.70,249.97 L296.20,249.97 L296.70,249.97 L297.20,249.97 L297.70,249.98 L298.20,249.98 L298.70,249.98 L299.20,249.98 L299.70,249.98 L300.20,249.98 L300.70,249.99 L301.20,249.99 L301.70,249.99 L302.20,249.99 L302.70,249.99 L303.20,249.99 L303.70,249.99 L304.20,249.99 L304.70,249.99 L305.20,249.99 L305.70,249.99 L306.20,249.99 L306.70,249.99 L307.20,249.99 L307.70,250.00 L308.20,250.00 L308.70,250.00 L309.20,250.00 L309.70,250.00 L310.20,250.00 L310.70,250.00 L311.20,250.00 L311.70,250.00 L312.20,250.00 L312.70,250.00 L313.20,250.00 L313.70,250.00 L314.20,250.00 L314.70,250.00 L315.20,250.00 L315.70,250.00 L316.20,250.00 L316.70,250.00 L317.20,250.00" stroke="#000" stroke-width="0.85" fill="none" stroke-linejoin="round" stroke-linecap="round" />
<circle cx="228.96" cy="247.62" r="0.60" fill="#fff" stroke="#000" stroke-width="0.45"/>
<circle cx="231.59" cy="246.19" r="0.60" fill="#fff" stroke="#000" stroke-width="0.45"/>
<circle cx="233.88" cy="244.27" r="0.60" fill="#fff" stroke="#000" stroke-width="0.45"/>
<circle cx="235.78" cy="241.95" r="0.60" fill="#fff" stroke="#000" stroke-width="0.45"/>
<circle cx="237.33" cy="239.39" r="0.60" fill="#fff" stroke="#000" stroke-width="0.45"/>
<circle cx="238.61" cy="236.67" r="0.60" fill="#fff" stroke="#000" stroke-width="0.45"/>
<circle cx="239.68" cy="233.87" r="0.60" fill="#fff" stroke="#000" stroke-width="0.45"/>
<circle cx="240.59" cy="231.01" r="0.60" fill="#fff" stroke="#000" stroke-width="0.45"/>
<circle cx="241.39" cy="228.12" r="0.60" fill="#fff" stroke="#000" stroke-width="0.45"/>
<circle cx="242.09" cy="225.20" r="0.60" fill="#fff" stroke="#000" stroke-width="0.45"/>
<circle cx="242.72" cy="222.27" r="0.60" fill="#fff" stroke="#000" stroke-width="0.45"/>
<circle cx="243.28" cy="219.32" r="0.60" fill="#fff" stroke="#000" stroke-width="0.45"/>
<circle cx="243.80" cy="216.37" r="0.60" fill="#fff" stroke="#000" stroke-width="0.45"/>
<circle cx="244.27" cy="213.41" r="0.60" fill="#fff" stroke="#000" stroke-width="0.45"/>
<circle cx="244.71" cy="210.44" r="0.60" fill="#fff" stroke="#000" stroke-width="0.45"/>
<circle cx="245.11" cy="207.47" r="0.60" fill="#fff" stroke="#000" stroke-width="0.45"/>
<circle cx="245.49" cy="204.49" r="0.60" fill="#fff" stroke="#000" stroke-width="0.45"/>
<circle cx="245.85" cy="201.51" r="0.60" fill="#fff" stroke="#000" stroke-width="0.45"/>
<circle cx="246.19" cy="198.53" r="0.60" fill="#fff" stroke="#000" stroke-width="0.45"/>
<circle cx="246.50" cy="195.55" r="0.60" fill="#fff" stroke="#000" stroke-width="0.45"/>
<circle cx="246.80" cy="192.56" r="0.60" fill="#fff" stroke="#000" stroke-width="0.45"/>
<circle cx="247.09" cy="189.58" r="0.60" fill="#fff" stroke="#000" stroke-width="0.45"/>
<circle cx="247.37" cy="186.59" r="0.60" fill="#fff" stroke="#000" stroke-width="0.45"/>
<circle cx="247.65" cy="183.60" r="0.60" fill="#fff" stroke="#000" stroke-width="0.45"/>
<circle cx="248.13" cy="180.64" r="0.60" fill="#fff" stroke="#000" stroke-width="0.45"/>
<circle cx="248.49" cy="182.87" r="0.60" fill="#fff" stroke="#000" stroke-width="0.45"/>
<circle cx="248.82" cy="185.85" r="0.60" fill="#fff" stroke="#000" stroke-width="0.45"/>
<circle cx="249.12" cy="188.83" r="0.60" fill="#fff" stroke="#000" stroke-width="0.45"/>
<circle cx="249.44" cy="191.82" r="0.60" fill="#fff" stroke="#000" stroke-width="0.45"/>
<circle cx="249.76" cy="194.80" r="0.60" fill="#fff" stroke="#000" stroke-width="0.45"/>
<circle cx="250.11" cy="197.78" r="0.60" fill="#fff" stroke="#000" stroke-width="0.45"/>
<circle cx="250.48" cy="200.76" r="0.60" fill="#fff" stroke="#000" stroke-width="0.45"/>
<circle cx="250.86" cy="203.73" r="0.60" fill="#fff" stroke="#000" stroke-width="0.45"/>
<circle cx="251.27" cy="206.70" r="0.60" fill="#fff" stroke="#000" stroke-width="0.45"/>
<circle cx="251.71" cy="209.67" r="0.60" fill="#fff" stroke="#000" stroke-width="0.45"/>
<circle cx="252.19" cy="212.63" r="0.60" fill="#fff" stroke="#000" stroke-width="0.45"/>
<circle cx="252.70" cy="215.59" r="0.60" fill="#fff" stroke="#000" stroke-width="0.45"/>
<circle cx="253.26" cy="218.54" r="0.60" fill="#fff" stroke="#000" stroke-width="0.45"/>
<circle cx="253.87" cy="221.47" r="0.60" fill="#fff" stroke="#000" stroke-width="0.45"/>
<circle cx="254.54" cy="224.40" r="0.60" fill="#fff" stroke="#000" stroke-width="0.45"/>
<circle cx="255.28" cy="227.30" r="0.60" fill="#fff" stroke="#000" stroke-width="0.45"/>
<circle cx="256.12" cy="230.18" r="0.60" fill="#fff" stroke="#000" stroke-width="0.45"/>
<circle cx="257.08" cy="233.02" r="0.60" fill="#fff" stroke="#000" stroke-width="0.45"/>
<circle cx="258.19" cy="235.81" r="0.60" fill="#fff" stroke="#000" stroke-width="0.45"/>
<circle cx="259.51" cy="238.51" r="0.60" fill="#fff" stroke="#000" stroke-width="0.45"/>
<circle cx="261.07" cy="241.07" r="0.60" fill="#fff" stroke="#000" stroke-width="0.45"/>
<circle cx="262.95" cy="243.40" r="0.60" fill="#fff" stroke="#000" stroke-width="0.45"/>
<circle cx="265.18" cy="245.40" r="0.60" fill="#fff" stroke="#000" stroke-width="0.45"/>
<circle cx="267.74" cy="246.96" r="0.60" fill="#fff" stroke="#000" stroke-width="0.45"/>
<circle cx="270.53" cy="248.06" r="0.60" fill="#fff" stroke="#000" stroke-width="0.45"/>
<path d="M217.20,251.06 L217.70,251.03 L218.20,250.99 L218.70,250.94 L219.20,250.89 L219.70,250.84 L220.20,250.78 L220.70,250.72 L221.20,250.65 L221.70,250.58 L222.20,250.50 L222.70,250.41 L223.20,250.32 L223.70,250.21 L224.20,250.10 L224.70,249.98 L225.20,249.85 L225.70,249.71 L226.20,249.55 L226.70,249.38 L227.20,249.20 L227.70,249.00 L228.20,248.78 L228.70,248.54 L229.20,248.29 L229.70,248.01 L230.20,247.70 L230.70,247.37 L231.20,247.01 L231.70,246.62 L232.20,246.20 L232.70,245.74 L233.20,245.24 L233.70,244.70 L234.20,244.11 L234.70,243.46 L235.20,242.76 L235.70,242.01 L236.20,241.18 L236.70,240.28 L237.20,239.31 L237.70,238.25 L238.20,237.10 L238.70,235.85 L239.20,234.49 L239.70,233.01 L240.20,231.40 L240.70,229.66 L241.20,227.76 L241.70,225.70 L242.20,223.46 L242.70,221.02 L243.20,218.38 L243.70,215.50 L244.20,212.38 L244.70,208.99 L245.20,205.31 L245.70,201.32 L246.20,197.01 L246.70,192.42 L247.20,188.25 L247.70,190.33 L248.20,194.58 L248.70,198.67 L249.20,202.50 L249.70,206.06 L250.20,209.36 L250.70,212.43 L251.20,215.28 L251.70,217.92 L252.20,220.37 L252.70,222.64 L253.20,224.74 L253.70,226.69 L254.20,228.50 L254.70,230.18 L255.20,231.73 L255.70,233.18 L256.20,234.51 L256.70,235.75 L257.20,236.90 L257.70,237.96 L258.20,238.95 L258.70,239.87 L259.20,240.72 L259.70,241.50 L260.20,242.23 L260.70,242.91 L261.20,243.53 L261.70,244.12 L262.20,244.65 L262.70,245.15 L263.20,245.62 L263.70,246.05 L264.20,246.44 L264.70,246.81 L265.20,247.15 L265.70,247.47 L266.20,247.77 L266.70,248.04 L267.20,248.29 L267.70,248.52 L268.20,248.74 L268.70,248.94 L269.20,249.13 L269.70,249.30 L270.20,249.46 L270.70,249.61 L271.20,249.75 L271.70,249.88 L272.20,250.00 L272.70,250.11 L273.20,250.21 L273.70,250.30 L274.20,250.39 L274.70,250.47 L275.20,250.54 L275.70,250.61 L276.20,250.68 L276.70,250.74 L277.20,250.79 L277.70,250.85 L278.20,250.89 L278.70,250.94 L279.20,250.98 L279.70,251.02 L280.20,251.05 L280.70,251.08 L281.20,251.12 L281.70,251.14 L282.20,251.17 L282.70,251.19 L283.20,251.22 L283.70,251.24 L284.20,251.26 L284.70,251.27 L285.20,251.29 L285.70,251.31 L286.20,251.32 L286.70,251.33 L287.20,251.34 L287.70,251.36 L288.20,251.37 L288.70,251.38 L289.20,251.39 L289.70,251.39 L290.20,251.40 L290.70,251.41 L291.20,251.42 L291.70,251.42 L292.20,251.43 L292.70,251.43 L293.20,251.44 L293.70,251.44 L294.20,251.45 L294.70,251.45 L295.20,251.45 L295.70,251.46 L296.20,251.46 L296.70,251.46 L297.20,251.47 L297.70,251.47 L298.20,251.47 L298.70,251.47 L299.20,251.47 L299.70,251.48 L300.20,251.48 L300.70,251.48 L301.20,251.48 L301.70,251.48 L302.20,251.48 L302.70,251.49 L303.20,251.49 L303.70,251.49 L304.20,251.49 L304.70,251.49 L305.20,251.49 L305.70,251.49 L306.20,251.49 L306.70,251.49 L307.20,251.49 L307.70,251.49 L308.20,251.49 L308.70,251.49 L309.20,251.49 L309.70,251.49 L310.20,251.50 L310.70,251.50 L311.20,251.50 L311.70,251.50 L312.20,251.50 L312.70,251.50 L313.20,251.50 L313.70,251.50 L314.20,251.50 L314.70,251.50 L315.20,251.50 L315.70,251.50 L316.20,251.50 L316.70,251.50 L317.20,251.50" stroke="#000" stroke-width="0.85" fill="none" stroke-linejoin="round" stroke-linecap="round" />
<circle cx="228.84" cy="248.47" r="0.60" fill="#fff" stroke="#000" stroke-width="0.45"/>
<circle cx="231.37" cy="246.88" r="0.60" fill="#fff" stroke="#000" stroke-width="0.45"/>
<circle cx="233.57" cy="244.84" r="0.60" fill="#fff" stroke="#000" stroke-width="0.45"/>
<circle cx="235.40" cy="242.47" r="0.60" fill="#fff" stroke="#000" stroke-width="0.45"/>
<circle cx="236.91" cy="239.88" r="0.60" fill="#fff" stroke="#000" stroke-width="0.45"/>
<circle cx="238.17" cy="237.16" r="0.60" fill="#fff" stroke="#000" stroke-width="0.45"/>
<circle cx="239.24" cy="234.36" r="0.60" fill="#fff" stroke="#000" stroke-width="0.45"/>
<circle cx="240.17" cy="231.50" r="0.60" fill="#fff" stroke="#000" stroke-width="0.45"/>
<circle cx="240.98" cy="228.61" r="0.60" fill="#fff" stroke="#000" stroke-width="0.45"/>
<circle cx="241.70" cy="225.70" r="0.60" fill="#fff" stroke="#000" stroke-width="0.45"/>
<circle cx="242.34" cy="222.77" r="0.60" fill="#fff" stroke="#000" stroke-width="0.45"/>
<circle cx="242.93" cy="219.83" r="0.60" fill="#fff" stroke="#000" stroke-width="0.45"/>
<circle cx="243.46" cy="216.88" r="0.60" fill="#fff" stroke="#000" stroke-width="0.45"/>
<circle cx="243.95" cy="213.92" r="0.60" fill="#fff" stroke="#000" stroke-width="0.45"/>
<circle cx="244.41" cy="210.95" r="0.60" fill="#fff" stroke="#000" stroke-width="0.45"/>
<circle cx="244.84" cy="207.98" r="0.60" fill="#fff" stroke="#000" stroke-width="0.45"/>
<circle cx="245.24" cy="205.01" r="0.60" fill="#fff" stroke="#000" stroke-width="0.45"/>
<circle cx="245.61" cy="202.03" r="0.60" fill="#fff" stroke="#000" stroke-width="0.45"/>
<circle cx="245.96" cy="199.05" r="0.60" fill="#fff" stroke="#000" stroke-width="0.45"/>
<circle cx="246.30" cy="196.07" r="0.60" fill="#fff" stroke="#000" stroke-width="0.45"/>
<circle cx="246.63" cy="193.09" r="0.60" fill="#fff" stroke="#000" stroke-width="0.45"/>
<circle cx="246.98" cy="190.11" r="0.60" fill="#fff" stroke="#000" stroke-width="0.45"/>
<circle cx="247.46" cy="189.34" r="0.60" fill="#fff" stroke="#000" stroke-width="0.45"/>
<circle cx="247.93" cy="192.30" r="0.60" fill="#fff" stroke="#000" stroke-width="0.45"/>
<circle cx="248.29" cy="195.28" r="0.60" fill="#fff" stroke="#000" stroke-width="0.45"/>
<circle cx="248.65" cy="198.26" r="0.60" fill="#fff" stroke="#000" stroke-width="0.45"/>
<circle cx="249.03" cy="201.23" r="0.60" fill="#fff" stroke="#000" stroke-width="0.45"/>
<circle cx="249.44" cy="204.21" r="0.60" fill="#fff" stroke="#000" stroke-width="0.45"/>
<circle cx="249.87" cy="207.17" r="0.60" fill="#fff" stroke="#000" stroke-width="0.45"/>
<circle cx="250.33" cy="210.14" r="0.60" fill="#fff" stroke="#000" stroke-width="0.45"/>
<circle cx="250.82" cy="213.10" r="0.60" fill="#fff" stroke="#000" stroke-width="0.45"/>
<circle cx="251.35" cy="216.05" r="0.60" fill="#fff" stroke="#000" stroke-width="0.45"/>
<circle cx="251.92" cy="219.00" r="0.60" fill="#fff" stroke="#000" stroke-width="0.45"/>
<circle cx="252.54" cy="221.93" r="0.60" fill="#fff" stroke="#000" stroke-width="0.45"/>
<circle cx="253.23" cy="224.85" r="0.60" fill="#fff" stroke="#000" stroke-width="0.45"/>
<circle cx="253.99" cy="227.75" r="0.60" fill="#fff" stroke="#000" stroke-width="0.45"/>
<circle cx="254.84" cy="230.63" r="0.60" fill="#fff" stroke="#000" stroke-width="0.45"/>
<circle cx="255.81" cy="233.47" r="0.60" fill="#fff" stroke="#000" stroke-width="0.45"/>
<circle cx="256.92" cy="236.26" r="0.60" fill="#fff" stroke="#000" stroke-width="0.45"/>
<circle cx="258.21" cy="238.96" r="0.60" fill="#fff" stroke="#000" stroke-width="0.45"/>
<circle cx="259.73" cy="241.55" r="0.60" fill="#fff" stroke="#000" stroke-width="0.45"/>
<circle cx="261.54" cy="243.93" r="0.60" fill="#fff" stroke="#000" stroke-width="0.45"/>
<circle cx="263.68" cy="246.03" r="0.60" fill="#fff" stroke="#000" stroke-width="0.45"/>
<circle cx="266.15" cy="247.74" r="0.60" fill="#fff" stroke="#000" stroke-width="0.45"/>
<path d="M217.20,248.12 L217.70,248.09 L218.20,248.05 L218.70,248.02 L219.20,247.98 L219.70,247.93 L220.20,247.89 L220.70,247.84 L221.20,247.78 L221.70,247.72 L222.20,247.66 L222.70,247.59 L223.20,247.51 L223.70,247.43 L224.20,247.34 L224.70,247.25 L225.20,247.14 L225.70,247.03 L226.20,246.91 L226.70,246.78 L227.20,246.64 L227.70,246.48 L228.20,246.32 L228.70,246.14 L229.20,245.94 L229.70,245.73 L230.20,245.50 L230.70,245.26 L231.20,244.99 L231.70,244.70 L232.20,244.38 L232.70,244.04 L233.20,243.68 L233.70,243.28 L234.20,242.85 L234.70,242.38 L235.20,241.87 L235.70,241.33 L236.20,240.73 L236.70,240.09 L237.20,239.40 L237.70,238.65 L238.20,237.83 L238.70,236.95 L239.20,236.00 L239.70,234.96 L240.20,233.85 L240.70,232.64 L241.20,231.33 L241.70,229.91 L242.20,228.37 L242.70,226.71 L243.20,224.91 L243.70,222.97 L244.20,220.86 L244.70,218.58 L245.20,216.11 L245.70,213.44 L246.20,210.55 L246.70,207.43 L247.20,204.05 L247.70,200.42 L248.20,196.54 L248.70,192.74 L249.20,193.28 L249.70,196.82 L250.20,200.32 L250.70,203.62 L251.20,206.70 L251.70,209.57 L252.20,212.25 L252.70,214.74 L253.20,217.07 L253.70,219.23 L254.20,221.25 L254.70,223.13 L255.20,224.87 L255.70,226.50 L256.20,228.02 L256.70,229.43 L257.20,230.74 L257.70,231.97 L258.20,233.11 L258.70,234.17 L259.20,235.16 L259.70,236.08 L260.20,236.93 L260.70,237.73 L261.20,238.47 L261.70,239.16 L262.20,239.81 L262.70,240.41 L263.20,240.96 L263.70,241.48 L264.20,241.97 L264.70,242.42 L265.20,242.84 L265.70,243.23 L266.20,243.59 L266.70,243.93 L267.20,244.24 L267.70,244.54 L268.20,244.81 L268.70,245.06 L269.20,245.30 L269.70,245.52 L270.20,245.73 L270.70,245.92 L271.20,246.10 L271.70,246.26 L272.20,246.42 L272.70,246.56 L273.20,246.69 L273.70,246.82 L274.20,246.93 L274.70,247.04 L275.20,247.14 L275.70,247.24 L276.20,247.32 L276.70,247.40 L277.20,247.48 L277.70,247.55 L278.20,247.62 L278.70,247.68 L279.20,247.73 L279.70,247.79 L280.20,247.84 L280.70,247.88 L281.20,247.92 L281.70,247.96 L282.20,248.00 L282.70,248.04 L283.20,248.07 L283.70,248.10 L284.20,248.12 L284.70,248.15 L285.20,248.17 L285.70,248.20 L286.20,248.22 L286.70,248.24 L287.20,248.26 L287.70,248.27 L288.20,248.29 L288.70,248.30 L289.20,248.32 L289.70,248.33 L290.20,248.34 L290.70,248.35 L291.20,248.36 L291.70,248.37 L292.20,248.38 L292.70,248.39 L293.20,248.40 L293.70,248.40 L294.20,248.41 L294.70,248.42 L295.20,248.42 L295.70,248.43 L296.20,248.43 L296.70,248.44 L297.20,248.44 L297.70,248.45 L298.20,248.45 L298.70,248.45 L299.20,248.46 L299.70,248.46 L300.20,248.46 L300.70,248.46 L301.20,248.47 L301.70,248.47 L302.20,248.47 L302.70,248.47 L303.20,248.48 L303.70,248.48 L304.20,248.48 L304.70,248.48 L305.20,248.48 L305.70,248.48 L306.20,248.48 L306.70,248.48 L307.20,248.49 L307.70,248.49 L308.20,248.49 L308.70,248.49 L309.20,248.49 L309.70,248.49 L310.20,248.49 L310.70,248.49 L311.20,248.49 L311.70,248.49 L312.20,248.49 L312.70,248.49 L313.20,248.49 L313.70,248.49 L314.20,248.49 L314.70,248.50 L315.20,248.50 L315.70,248.50 L316.20,248.50 L316.70,248.50 L317.20,248.50" stroke="#000" stroke-width="0.85" fill="none" stroke-linejoin="round" stroke-linecap="round" />
<circle cx="217.20" cy="248.12" r="0.60" fill="#fff" stroke="#000" stroke-width="0.45"/>
<circle cx="220.19" cy="247.89" r="0.60" fill="#fff" stroke="#000" stroke-width="0.45"/>
<circle cx="223.17" cy="247.52" r="0.60" fill="#fff" stroke="#000" stroke-width="0.45"/>
<circle cx="226.11" cy="246.93" r="0.60" fill="#fff" stroke="#000" stroke-width="0.45"/>
<circle cx="228.97" cy="246.03" r="0.60" fill="#fff" stroke="#000" stroke-width="0.45"/>
<circle cx="231.66" cy="244.72" r="0.60" fill="#fff" stroke="#000" stroke-width="0.45"/>
<circle cx="234.08" cy="242.95" r="0.60" fill="#fff" stroke="#000" stroke-width="0.45"/>
<circle cx="236.15" cy="240.79" r="0.60" fill="#fff" stroke="#000" stroke-width="0.45"/>
<circle cx="237.89" cy="238.34" r="0.60" fill="#fff" stroke="#000" stroke-width="0.45"/>
<circle cx="239.34" cy="235.72" r="0.60" fill="#fff" stroke="#000" stroke-width="0.45"/>
<circle cx="240.56" cy="232.98" r="0.60" fill="#fff" stroke="#000" stroke-width="0.45"/>
<circle cx="241.61" cy="230.17" r="0.60" fill="#fff" stroke="#000" stroke-width="0.45"/>
<circle cx="242.52" cy="227.31" r="0.60" fill="#fff" stroke="#000" stroke-width="0.45"/>
<circle cx="243.33" cy="224.42" r="0.60" fill="#fff" stroke="#000" stroke-width="0.45"/>
<circle cx="244.05" cy="221.51" r="0.60" fill="#fff" stroke="#000" stroke-width="0.45"/>
<circle cx="244.70" cy="218.58" r="0.60" fill="#fff" stroke="#000" stroke-width="0.45"/>
<circle cx="245.29" cy="215.64" r="0.60" fill="#fff" stroke="#000" stroke-width="0.45"/>
<circle cx="245.83" cy="212.69" r="0.60" fill="#fff" stroke="#000" stroke-width="0.45"/>
<circle cx="246.33" cy="209.73" r="0.60" fill="#fff" stroke="#000" stroke-width="0.45"/>
<circle cx="246.80" cy="206.77" r="0.60" fill="#fff" stroke="#000" stroke-width="0.45"/>
<circle cx="247.23" cy="203.80" r="0.60" fill="#fff" stroke="#000" stroke-width="0.45"/>
<circle cx="247.64" cy="200.83" r="0.60" fill="#fff" stroke="#000" stroke-width="0.45"/>
<circle cx="248.03" cy="197.85" r="0.60" fill="#fff" stroke="#000" stroke-width="0.45"/>
<circle cx="248.42" cy="194.88" r="0.60" fill="#fff" stroke="#000" stroke-width="0.45"/>
<circle cx="249.21" cy="193.38" r="0.60" fill="#fff" stroke="#000" stroke-width="0.45"/>
<circle cx="249.63" cy="196.35" r="0.60" fill="#fff" stroke="#000" stroke-width="0.45"/>
<circle cx="250.06" cy="199.32" r="0.60" fill="#fff" stroke="#000" stroke-width="0.45"/>
<circle cx="250.50" cy="202.29" r="0.60" fill="#fff" stroke="#000" stroke-width="0.45"/>
<circle cx="250.97" cy="205.25" r="0.60" fill="#fff" stroke="#000" stroke-width="0.45"/>
<circle cx="251.46" cy="208.21" r="0.60" fill="#fff" stroke="#000" stroke-width="0.45"/>
<circle cx="252.00" cy="211.17" r="0.60" fill="#fff" stroke="#000" stroke-width="0.45"/>
<circle cx="252.57" cy="214.11" r="0.60" fill="#fff" stroke="#000" stroke-width="0.45"/>
<circle cx="253.20" cy="217.04" r="0.60" fill="#fff" stroke="#000" stroke-width="0.45"/>
<circle cx="253.88" cy="219.96" r="0.60" fill="#fff" stroke="#000" stroke-width="0.45"/>
<circle cx="254.63" cy="222.87" r="0.60" fill="#fff" stroke="#000" stroke-width="0.45"/>
<circle cx="255.47" cy="225.75" r="0.60" fill="#fff" stroke="#000" stroke-width="0.45"/>
<circle cx="256.41" cy="228.60" r="0.60" fill="#fff" stroke="#000" stroke-width="0.45"/>
<circle cx="257.47" cy="231.40" r="0.60" fill="#fff" stroke="#000" stroke-width="0.45"/>
<circle cx="258.69" cy="234.14" r="0.60" fill="#fff" stroke="#000" stroke-width="0.45"/>
<circle cx="260.11" cy="236.78" r="0.60" fill="#fff" stroke="#000" stroke-width="0.45"/>
<circle cx="261.79" cy="239.27" r="0.60" fill="#fff" stroke="#000" stroke-width="0.45"/>
<circle cx="263.75" cy="241.53" r="0.60" fill="#fff" stroke="#000" stroke-width="0.45"/>
<circle cx="266.04" cy="243.47" r="0.60" fill="#fff" stroke="#000" stroke-width="0.45"/>
<circle cx="268.61" cy="245.02" r="0.60" fill="#fff" stroke="#000" stroke-width="0.45"/>
<circle cx="271.38" cy="246.16" r="0.60" fill="#fff" stroke="#000" stroke-width="0.45"/>
<circle cx="274.27" cy="246.95" r="0.60" fill="#fff" stroke="#000" stroke-width="0.45"/>
<circle cx="277.22" cy="247.48" r="0.60" fill="#fff" stroke="#000" stroke-width="0.45"/>
<circle cx="280.20" cy="247.84" r="0.60" fill="#fff" stroke="#000" stroke-width="0.45"/>
<circle cx="283.19" cy="248.07" r="0.60" fill="#fff" stroke="#000" stroke-width="0.45"/>
<circle cx="286.19" cy="248.22" r="0.60" fill="#fff" stroke="#000" stroke-width="0.45"/>
<circle cx="289.19" cy="248.32" r="0.60" fill="#fff" stroke="#000" stroke-width="0.45"/>
<circle cx="292.19" cy="248.38" r="0.60" fill="#fff" stroke="#000" stroke-width="0.45"/>
<circle cx="295.19" cy="248.42" r="0.60" fill="#fff" stroke="#000" stroke-width="0.45"/>
<circle cx="298.19" cy="248.45" r="0.60" fill="#fff" stroke="#000" stroke-width="0.45"/>
<circle cx="301.19" cy="248.47" r="0.60" fill="#fff" stroke="#000" stroke-width="0.45"/>
<circle cx="304.19" cy="248.48" r="0.60" fill="#fff" stroke="#000" stroke-width="0.45"/>
<circle cx="307.19" cy="248.49" r="0.60" fill="#fff" stroke="#000" stroke-width="0.45"/>
<circle cx="310.19" cy="248.49" r="0.60" fill="#fff" stroke="#000" stroke-width="0.45"/>
<circle cx="313.19" cy="248.49" r="0.60" fill="#fff" stroke="#000" stroke-width="0.45"/>
<circle cx="316.19" cy="248.50" r="0.60" fill="#fff" stroke="#000" stroke-width="0.45"/>
<path d="M217.20,249.26 L217.70,249.24 L218.20,249.22 L218.70,249.21 L219.20,249.19 L219.70,249.17 L220.20,249.15 L220.70,249.12 L221.20,249.10 L221.70,249.07 L222.20,249.05 L222.70,249.02 L223.20,248.99 L223.70,248.95 L224.20,248.92 L224.70,248.88 L225.20,248.84 L225.70,248.80 L226.20,248.75 L226.70,248.70 L227.20,248.65 L227.70,248.60 L228.20,248.54 L228.70,248.48 L229.20,248.41 L229.70,248.34 L230.20,248.27 L230.70,248.19 L231.20,248.10 L231.70,248.01 L232.20,247.92 L232.70,247.81 L233.20,247.71 L233.70,247.59 L234.20,247.47 L234.70,247.34 L235.20,247.20 L235.70,247.05 L236.20,246.89 L236.70,246.72 L237.20,246.54 L237.70,246.35 L238.20,246.15 L238.70,245.93 L239.20,245.70 L239.70,245.46 L240.20,245.20 L240.70,244.92 L241.20,244.62 L241.70,244.31 L242.20,243.98 L242.70,243.62 L243.20,243.24 L243.70,242.84 L244.20,242.41 L244.70,241.95 L245.20,241.46 L245.70,240.94 L246.20,240.39 L246.70,239.81 L247.20,239.18 L247.70,238.52 L248.20,237.81 L248.70,237.06 L249.20,236.25 L249.70,235.40 L250.20,234.49 L250.70,233.53 L251.20,232.50 L251.70,231.40 L252.20,230.24 L252.70,229.00 L253.20,227.68 L253.70,226.28 L254.20,224.79 L254.70,223.20 L255.20,221.51 L255.70,219.72 L256.20,217.82 L256.70,215.80 L257.20,213.66 L257.70,211.41 L258.20,209.05 L258.70,206.64 L259.20,204.38 L259.70,203.20 L260.20,204.28 L260.70,206.34 L261.20,208.55 L261.70,210.73 L262.20,212.82 L262.70,214.81 L263.20,216.71 L263.70,218.50 L264.20,220.20 L264.70,221.81 L265.20,223.34 L265.70,224.78 L266.20,226.14 L266.70,227.42 L267.20,228.64 L267.70,229.79 L268.20,230.88 L268.70,231.90 L269.20,232.87 L269.70,233.79 L270.20,234.66 L270.70,235.48 L271.20,236.25 L271.70,236.98 L272.20,237.67 L272.70,238.33 L273.20,238.94 L273.70,239.53 L274.20,240.08 L274.70,240.60 L275.20,241.09 L275.70,241.55 L276.20,241.99 L276.70,242.41 L277.20,242.80 L277.70,243.17 L278.20,243.52 L278.70,243.85 L279.20,244.16 L279.70,244.45 L280.20,244.73 L280.70,245.00 L281.20,245.24 L281.70,245.48 L282.20,245.70 L282.70,245.91 L283.20,246.11 L283.70,246.30 L284.20,246.47 L284.70,246.64 L285.20,246.80 L285.70,246.95 L286.20,247.09 L286.70,247.22 L287.20,247.35 L287.70,247.47 L288.20,247.58 L288.70,247.69 L289.20,247.79 L289.70,247.88 L290.20,247.97 L290.70,248.05 L291.20,248.13 L291.70,248.21 L292.20,248.28 L292.70,248.35 L293.20,248.41 L293.70,248.47 L294.20,248.53 L294.70,248.58 L295.20,248.63 L295.70,248.68 L296.20,248.73 L296.70,248.77 L297.20,248.81 L297.70,248.85 L298.20,248.88 L298.70,248.92 L299.20,248.95 L299.70,248.98 L300.20,249.01 L300.70,249.04 L301.20,249.06 L301.70,249.09 L302.20,249.11 L302.70,249.13 L303.20,249.15 L303.70,249.17 L304.20,249.19 L304.70,249.21 L305.20,249.22 L305.70,249.24 L306.20,249.25 L306.70,249.27 L307.20,249.28 L307.70,249.29 L308.20,249.30 L308.70,249.31 L309.20,249.32 L309.70,249.33 L310.20,249.34 L310.70,249.35 L311.20,249.36 L311.70,249.37 L312.20,249.37 L312.70,249.38 L313.20,249.39 L313.70,249.39 L314.20,249.40 L314.70,249.41 L315.20,249.41 L315.70,249.42 L316.20,249.42 L316.70,249.42 L317.20,249.43" stroke="#000" stroke-width="0.85" fill="none" stroke-linejoin="round" stroke-linecap="round" />
<circle cx="229.17" cy="248.42" r="0.60" fill="#fff" stroke="#000" stroke-width="0.45"/>
<circle cx="232.13" cy="247.93" r="0.60" fill="#fff" stroke="#000" stroke-width="0.45"/>
<circle cx="235.04" cy="247.24" r="0.60" fill="#fff" stroke="#000" stroke-width="0.45"/>
<circle cx="237.88" cy="246.28" r="0.60" fill="#fff" stroke="#000" stroke-width="0.45"/>
<circle cx="240.59" cy="244.98" r="0.60" fill="#fff" stroke="#000" stroke-width="0.45"/>
<circle cx="243.09" cy="243.33" r="0.60" fill="#fff" stroke="#000" stroke-width="0.45"/>
<circle cx="245.32" cy="241.33" r="0.60" fill="#fff" stroke="#000" stroke-width="0.45"/>
<circle cx="247.29" cy="239.07" r="0.60" fill="#fff" stroke="#000" stroke-width="0.45"/>
<circle cx="248.99" cy="236.60" r="0.60" fill="#fff" stroke="#000" stroke-width="0.45"/>
<circle cx="250.46" cy="233.99" r="0.60" fill="#fff" stroke="#000" stroke-width="0.45"/>
<circle cx="251.75" cy="231.28" r="0.60" fill="#fff" stroke="#000" stroke-width="0.45"/>
<circle cx="252.89" cy="228.50" r="0.60" fill="#fff" stroke="#000" stroke-width="0.45"/>
<circle cx="253.90" cy="225.68" r="0.60" fill="#fff" stroke="#000" stroke-width="0.45"/>
<circle cx="254.81" cy="222.82" r="0.60" fill="#fff" stroke="#000" stroke-width="0.45"/>
<circle cx="255.64" cy="219.94" r="0.60" fill="#fff" stroke="#000" stroke-width="0.45"/>
<circle cx="256.39" cy="217.03" r="0.60" fill="#fff" stroke="#000" stroke-width="0.45"/>
<circle cx="257.09" cy="214.12" r="0.60" fill="#fff" stroke="#000" stroke-width="0.45"/>
<circle cx="257.75" cy="211.19" r="0.60" fill="#fff" stroke="#000" stroke-width="0.45"/>
<circle cx="258.37" cy="208.25" r="0.60" fill="#fff" stroke="#000" stroke-width="0.45"/>
<circle cx="258.99" cy="205.32" r="0.60" fill="#fff" stroke="#000" stroke-width="0.45"/>
<circle cx="260.02" cy="203.89" r="0.60" fill="#fff" stroke="#000" stroke-width="0.45"/>
<circle cx="260.80" cy="206.78" r="0.60" fill="#fff" stroke="#000" stroke-width="0.45"/>
<circle cx="261.46" cy="209.70" r="0.60" fill="#fff" stroke="#000" stroke-width="0.45"/>
<circle cx="262.15" cy="212.62" r="0.60" fill="#fff" stroke="#000" stroke-width="0.45"/>
<circle cx="262.89" cy="215.53" r="0.60" fill="#fff" stroke="#000" stroke-width="0.45"/>
<circle cx="263.68" cy="218.42" r="0.60" fill="#fff" stroke="#000" stroke-width="0.45"/>
<circle cx="264.54" cy="221.30" r="0.60" fill="#fff" stroke="#000" stroke-width="0.45"/>
<circle cx="265.48" cy="224.15" r="0.60" fill="#fff" stroke="#000" stroke-width="0.45"/>
<circle cx="266.52" cy="226.96" r="0.60" fill="#fff" stroke="#000" stroke-width="0.45"/>
<circle cx="267.67" cy="229.73" r="0.60" fill="#fff" stroke="#000" stroke-width="0.45"/>
<circle cx="268.97" cy="232.43" r="0.60" fill="#fff" stroke="#000" stroke-width="0.45"/>
<circle cx="270.44" cy="235.05" r="0.60" fill="#fff" stroke="#000" stroke-width="0.45"/>
<circle cx="272.10" cy="237.54" r="0.60" fill="#fff" stroke="#000" stroke-width="0.45"/>
<circle cx="274.01" cy="239.86" r="0.60" fill="#fff" stroke="#000" stroke-width="0.45"/>
<circle cx="276.15" cy="241.95" r="0.60" fill="#fff" stroke="#000" stroke-width="0.45"/>
<circle cx="278.55" cy="243.75" r="0.60" fill="#fff" stroke="#000" stroke-width="0.45"/>
<circle cx="281.16" cy="245.23" r="0.60" fill="#fff" stroke="#000" stroke-width="0.45"/>
<circle cx="283.93" cy="246.38" r="0.60" fill="#fff" stroke="#000" stroke-width="0.45"/>
<circle cx="286.80" cy="247.25" r="0.60" fill="#fff" stroke="#000" stroke-width="0.45"/>
<circle cx="289.73" cy="247.89" r="0.60" fill="#fff" stroke="#000" stroke-width="0.45"/>
<circle cx="292.70" cy="248.35" r="0.60" fill="#fff" stroke="#000" stroke-width="0.45"/>
<path d="M217.20,250.75 L217.70,250.73 L218.20,250.71 L218.70,250.70 L219.20,250.68 L219.70,250.65 L220.20,250.63 L220.70,250.61 L221.20,250.58 L221.70,250.56 L222.20,250.53 L222.70,250.50 L223.20,250.46 L223.70,250.43 L224.20,250.39 L224.70,250.35 L225.20,250.31 L225.70,250.27 L226.20,250.22 L226.70,250.17 L227.20,250.12 L227.70,250.06 L228.20,250.00 L228.70,249.94 L229.20,249.87 L229.70,249.79 L230.20,249.72 L230.70,249.63 L231.20,249.55 L231.70,249.45 L232.20,249.35 L232.70,249.25 L233.20,249.13 L233.70,249.01 L234.20,248.88 L234.70,248.75 L235.20,248.60 L235.70,248.45 L236.20,248.28 L236.70,248.11 L237.20,247.92 L237.70,247.72 L238.20,247.51 L238.70,247.29 L239.20,247.05 L239.70,246.79 L240.20,246.52 L240.70,246.23 L241.20,245.93 L241.70,245.60 L242.20,245.25 L242.70,244.88 L243.20,244.48 L243.70,244.06 L244.20,243.62 L244.70,243.14 L245.20,242.64 L245.70,242.10 L246.20,241.52 L246.70,240.91 L247.20,240.26 L247.70,239.57 L248.20,238.83 L248.70,238.05 L249.20,237.22 L249.70,236.33 L250.20,235.38 L250.70,234.38 L251.20,233.31 L251.70,232.17 L252.20,230.96 L252.70,229.67 L253.20,228.30 L253.70,226.85 L254.20,225.30 L254.70,223.65 L255.20,221.90 L255.70,220.05 L256.20,218.09 L256.70,216.03 L257.20,213.87 L257.70,211.69 L258.20,209.73 L258.70,209.05 L259.20,210.29 L259.70,212.18 L260.20,214.15 L260.70,216.07 L261.20,217.92 L261.70,219.68 L262.20,221.35 L262.70,222.94 L263.20,224.45 L263.70,225.88 L264.20,227.23 L264.70,228.51 L265.20,229.72 L265.70,230.87 L266.20,231.95 L266.70,232.98 L267.20,233.95 L267.70,234.87 L268.20,235.74 L268.70,236.57 L269.20,237.34 L269.70,238.08 L270.20,238.78 L270.70,239.44 L271.20,240.06 L271.70,240.65 L272.20,241.21 L272.70,241.74 L273.20,242.24 L273.70,242.71 L274.20,243.16 L274.70,243.59 L275.20,243.99 L275.70,244.36 L276.20,244.72 L276.70,245.06 L277.20,245.38 L277.70,245.69 L278.20,245.97 L278.70,246.24 L279.20,246.50 L279.70,246.74 L280.20,246.97 L280.70,247.19 L281.20,247.40 L281.70,247.59 L282.20,247.78 L282.70,247.95 L283.20,248.12 L283.70,248.27 L284.20,248.42 L284.70,248.56 L285.20,248.69 L285.70,248.82 L286.20,248.93 L286.70,249.04 L287.20,249.15 L287.70,249.25 L288.20,249.34 L288.70,249.43 L289.20,249.52 L289.70,249.60 L290.20,249.67 L290.70,249.75 L291.20,249.81 L291.70,249.88 L292.20,249.94 L292.70,250.00 L293.20,250.05 L293.70,250.10 L294.20,250.15 L294.70,250.20 L295.20,250.24 L295.70,250.28 L296.20,250.32 L296.70,250.36 L297.20,250.39 L297.70,250.42 L298.20,250.46 L298.70,250.48 L299.20,250.51 L299.70,250.54 L300.20,250.56 L300.70,250.59 L301.20,250.61 L301.70,250.63 L302.20,250.65 L302.70,250.67 L303.20,250.69 L303.70,250.70 L304.20,250.72 L304.70,250.74 L305.20,250.75 L305.70,250.76 L306.20,250.78 L306.70,250.79 L307.20,250.80 L307.70,250.81 L308.20,250.82 L308.70,250.83 L309.20,250.84 L309.70,250.85 L310.20,250.86 L310.70,250.86 L311.20,250.87 L311.70,250.88 L312.20,250.88 L312.70,250.89 L313.20,250.90 L313.70,250.90 L314.20,250.91 L314.70,250.91 L315.20,250.92 L315.70,250.92 L316.20,250.93 L316.70,250.93 L317.20,250.93" stroke="#000" stroke-width="0.85" fill="none" stroke-linejoin="round" stroke-linecap="round" />
<circle cx="237.86" cy="247.66" r="0.60" fill="#fff" stroke="#000" stroke-width="0.45"/>
<circle cx="240.54" cy="246.32" r="0.60" fill="#fff" stroke="#000" stroke-width="0.45"/>
<circle cx="243.02" cy="244.63" r="0.60" fill="#fff" stroke="#000" stroke-width="0.45"/>
<circle cx="245.23" cy="242.60" r="0.60" fill="#fff" stroke="#000" stroke-width="0.45"/>
<circle cx="247.16" cy="240.31" r="0.60" fill="#fff" stroke="#000" stroke-width="0.45"/>
<circle cx="248.84" cy="237.82" r="0.60" fill="#fff" stroke="#000" stroke-width="0.45"/>
<circle cx="250.29" cy="235.20" r="0.60" fill="#fff" stroke="#000" stroke-width="0.45"/>
<circle cx="251.56" cy="232.49" r="0.60" fill="#fff" stroke="#000" stroke-width="0.45"/>
<circle cx="252.69" cy="229.70" r="0.60" fill="#fff" stroke="#000" stroke-width="0.45"/>
<circle cx="253.69" cy="226.88" r="0.60" fill="#fff" stroke="#000" stroke-width="0.45"/>
<circle cx="254.59" cy="224.02" r="0.60" fill="#fff" stroke="#000" stroke-width="0.45"/>
<circle cx="255.41" cy="221.13" r="0.60" fill="#fff" stroke="#000" stroke-width="0.45"/>
<circle cx="256.17" cy="218.23" r="0.60" fill="#fff" stroke="#000" stroke-width="0.45"/>
<circle cx="256.87" cy="215.31" r="0.60" fill="#fff" stroke="#000" stroke-width="0.45"/>
<circle cx="257.54" cy="212.39" r="0.60" fill="#fff" stroke="#000" stroke-width="0.45"/>
<circle cx="258.36" cy="209.52" r="0.60" fill="#fff" stroke="#000" stroke-width="0.45"/>
<circle cx="259.47" cy="211.33" r="0.60" fill="#fff" stroke="#000" stroke-width="0.45"/>
<circle cx="260.22" cy="214.23" r="0.60" fill="#fff" stroke="#000" stroke-width="0.45"/>
<circle cx="260.99" cy="217.14" r="0.60" fill="#fff" stroke="#000" stroke-width="0.45"/>
<circle cx="261.80" cy="220.02" r="0.60" fill="#fff" stroke="#000" stroke-width="0.45"/>
<circle cx="262.68" cy="222.89" r="0.60" fill="#fff" stroke="#000" stroke-width="0.45"/>
<circle cx="263.65" cy="225.73" r="0.60" fill="#fff" stroke="#000" stroke-width="0.45"/>
<circle cx="264.71" cy="228.54" r="0.60" fill="#fff" stroke="#000" stroke-width="0.45"/>
<circle cx="265.90" cy="231.29" r="0.60" fill="#fff" stroke="#000" stroke-width="0.45"/>
<circle cx="267.22" cy="233.98" r="0.60" fill="#fff" stroke="#000" stroke-width="0.45"/>
<circle cx="268.71" cy="236.58" r="0.60" fill="#fff" stroke="#000" stroke-width="0.45"/>
<circle cx="270.41" cy="239.06" r="0.60" fill="#fff" stroke="#000" stroke-width="0.45"/>
<circle cx="272.34" cy="241.36" r="0.60" fill="#fff" stroke="#000" stroke-width="0.45"/>
<circle cx="274.51" cy="243.42" r="0.60" fill="#fff" stroke="#000" stroke-width="0.45"/>
<circle cx="276.92" cy="245.20" r="0.60" fill="#fff" stroke="#000" stroke-width="0.45"/>
<circle cx="279.54" cy="246.67" r="0.60" fill="#fff" stroke="#000" stroke-width="0.45"/>
<circle cx="282.31" cy="247.81" r="0.60" fill="#fff" stroke="#000" stroke-width="0.45"/>
<path d="M217.20,247.77 L217.70,247.76 L218.20,247.74 L218.70,247.73 L219.20,247.71 L219.70,247.70 L220.20,247.68 L220.70,247.66 L221.20,247.64 L221.70,247.61 L222.20,247.59 L222.70,247.57 L223.20,247.54 L223.70,247.51 L224.20,247.48 L224.70,247.45 L225.20,247.42 L225.70,247.38 L226.20,247.35 L226.70,247.31 L227.20,247.26 L227.70,247.22 L228.20,247.17 L228.70,247.12 L229.20,247.07 L229.70,247.01 L230.20,246.95 L230.70,246.89 L231.20,246.82 L231.70,246.75 L232.20,246.68 L232.70,246.60 L233.20,246.51 L233.70,246.42 L234.20,246.32 L234.70,246.22 L235.20,246.12 L235.70,246.00 L236.20,245.88 L236.70,245.75 L237.20,245.62 L237.70,245.47 L238.20,245.32 L238.70,245.16 L239.20,244.98 L239.70,244.80 L240.20,244.61 L240.70,244.40 L241.20,244.18 L241.70,243.95 L242.20,243.71 L242.70,243.45 L243.20,243.17 L243.70,242.88 L244.20,242.57 L244.70,242.24 L245.20,241.89 L245.70,241.52 L246.20,241.13 L246.70,240.71 L247.20,240.27 L247.70,239.80 L248.20,239.31 L248.70,238.78 L249.20,238.22 L249.70,237.63 L250.20,237.00 L250.70,236.34 L251.20,235.63 L251.70,234.88 L252.20,234.09 L252.70,233.25 L253.20,232.35 L253.70,231.41 L254.20,230.41 L254.70,229.34 L255.20,228.22 L255.70,227.02 L256.20,225.76 L256.70,224.42 L257.20,223.00 L257.70,221.50 L258.20,219.92 L258.70,218.25 L259.20,216.50 L259.70,214.69 L260.20,212.88 L260.70,211.36 L261.20,211.16 L261.70,212.45 L262.20,214.15 L262.70,215.88 L263.20,217.56 L263.70,219.17 L264.20,220.71 L264.70,222.17 L265.20,223.55 L265.70,224.87 L266.20,226.11 L266.70,227.29 L267.20,228.40 L267.70,229.46 L268.20,230.46 L268.70,231.40 L269.20,232.30 L269.70,233.15 L270.20,233.95 L270.70,234.71 L271.20,235.42 L271.70,236.10 L272.20,236.75 L272.70,237.35 L273.20,237.93 L273.70,238.47 L274.20,238.99 L274.70,239.47 L275.20,239.93 L275.70,240.37 L276.20,240.78 L276.70,241.17 L277.20,241.54 L277.70,241.89 L278.20,242.22 L278.70,242.53 L279.20,242.83 L279.70,243.11 L280.20,243.37 L280.70,243.62 L281.20,243.86 L281.70,244.08 L282.20,244.29 L282.70,244.49 L283.20,244.68 L283.70,244.86 L284.20,245.03 L284.70,245.19 L285.20,245.34 L285.70,245.49 L286.20,245.62 L286.70,245.75 L287.20,245.87 L287.70,245.99 L288.20,246.10 L288.70,246.20 L289.20,246.30 L289.70,246.39 L290.20,246.48 L290.70,246.56 L291.20,246.64 L291.70,246.71 L292.20,246.78 L292.70,246.85 L293.20,246.91 L293.70,246.97 L294.20,247.02 L294.70,247.08 L295.20,247.13 L295.70,247.17 L296.20,247.22 L296.70,247.26 L297.20,247.30 L297.70,247.34 L298.20,247.37 L298.70,247.41 L299.20,247.44 L299.70,247.47 L300.20,247.50 L300.70,247.53 L301.20,247.55 L301.70,247.58 L302.20,247.60 L302.70,247.62 L303.20,247.64 L303.70,247.66 L304.20,247.68 L304.70,247.70 L305.20,247.71 L305.70,247.73 L306.20,247.74 L306.70,247.76 L307.20,247.77 L307.70,247.78 L308.20,247.79 L308.70,247.80 L309.20,247.82 L309.70,247.83 L310.20,247.83 L310.70,247.84 L311.20,247.85 L311.70,247.86 L312.20,247.87 L312.70,247.87 L313.20,247.88 L313.70,247.89 L314.20,247.89 L314.70,247.90 L315.20,247.91 L315.70,247.91 L316.20,247.92 L316.70,247.92 L317.20,247.92" stroke="#000" stroke-width="0.85" fill="none" stroke-linejoin="round" stroke-linecap="round" />
<circle cx="217.20" cy="247.77" r="0.60" fill="#fff" stroke="#000" stroke-width="0.45"/>
<circle cx="220.20" cy="247.68" r="0.60" fill="#fff" stroke="#000" stroke-width="0.45"/>
<circle cx="223.20" cy="247.54" r="0.60" fill="#fff" stroke="#000" stroke-width="0.45"/>
<circle cx="226.19" cy="247.35" r="0.60" fill="#fff" stroke="#000" stroke-width="0.45"/>
<circle cx="229.18" cy="247.07" r="0.60" fill="#fff" stroke="#000" stroke-width="0.45"/>
<circle cx="232.15" cy="246.68" r="0.60" fill="#fff" stroke="#000" stroke-width="0.45"/>
<circle cx="235.10" cy="246.14" r="0.60" fill="#fff" stroke="#000" stroke-width="0.45"/>
<circle cx="238.00" cy="245.38" r="0.60" fill="#fff" stroke="#000" stroke-width="0.45"/>
<circle cx="240.82" cy="244.35" r="0.60" fill="#fff" stroke="#000" stroke-width="0.45"/>
<circle cx="243.49" cy="243.00" r="0.60" fill="#fff" stroke="#000" stroke-width="0.45"/>
<circle cx="245.97" cy="241.31" r="0.60" fill="#fff" stroke="#000" stroke-width="0.45"/>
<circle cx="248.20" cy="239.30" r="0.60" fill="#fff" stroke="#000" stroke-width="0.45"/>
<circle cx="250.17" cy="237.04" r="0.60" fill="#fff" stroke="#000" stroke-width="0.45"/>
<circle cx="251.89" cy="234.58" r="0.60" fill="#fff" stroke="#000" stroke-width="0.45"/>
<circle cx="253.39" cy="231.99" r="0.60" fill="#fff" stroke="#000" stroke-width="0.45"/>
<circle cx="254.72" cy="229.30" r="0.60" fill="#fff" stroke="#000" stroke-width="0.45"/>
<circle cx="255.89" cy="226.54" r="0.60" fill="#fff" stroke="#000" stroke-width="0.45"/>
<circle cx="256.94" cy="223.73" r="0.60" fill="#fff" stroke="#000" stroke-width="0.45"/>
<circle cx="257.89" cy="220.89" r="0.60" fill="#fff" stroke="#000" stroke-width="0.45"/>
<circle cx="258.77" cy="218.02" r="0.60" fill="#fff" stroke="#000" stroke-width="0.45"/>
<circle cx="259.58" cy="215.13" r="0.60" fill="#fff" stroke="#000" stroke-width="0.45"/>
<circle cx="260.41" cy="212.25" r="0.60" fill="#fff" stroke="#000" stroke-width="0.45"/>
<circle cx="261.74" cy="212.59" r="0.60" fill="#fff" stroke="#000" stroke-width="0.45"/>
<circle cx="262.58" cy="215.47" r="0.60" fill="#fff" stroke="#000" stroke-width="0.45"/>
<circle cx="263.44" cy="218.34" r="0.60" fill="#fff" stroke="#000" stroke-width="0.45"/>
<circle cx="264.37" cy="221.20" r="0.60" fill="#fff" stroke="#000" stroke-width="0.45"/>
<circle cx="265.38" cy="224.02" r="0.60" fill="#fff" stroke="#000" stroke-width="0.45"/>
<circle cx="266.49" cy="226.80" r="0.60" fill="#fff" stroke="#000" stroke-width="0.45"/>
<circle cx="267.74" cy="229.53" r="0.60" fill="#fff" stroke="#000" stroke-width="0.45"/>
<circle cx="269.14" cy="232.19" r="0.60" fill="#fff" stroke="#000" stroke-width="0.45"/>
<circle cx="270.72" cy="234.73" r="0.60" fill="#fff" stroke="#000" stroke-width="0.45"/>
<circle cx="272.52" cy="237.13" r="0.60" fill="#fff" stroke="#000" stroke-width="0.45"/>
<circle cx="274.56" cy="239.33" r="0.60" fill="#fff" stroke="#000" stroke-width="0.45"/>
<circle cx="276.84" cy="241.27" r="0.60" fill="#fff" stroke="#000" stroke-width="0.45"/>
<circle cx="279.35" cy="242.91" r="0.60" fill="#fff" stroke="#000" stroke-width="0.45"/>
<circle cx="282.05" cy="244.23" r="0.60" fill="#fff" stroke="#000" stroke-width="0.45"/>
<circle cx="284.87" cy="245.24" r="0.60" fill="#fff" stroke="#000" stroke-width="0.45"/>
<circle cx="287.77" cy="246.00" r="0.60" fill="#fff" stroke="#000" stroke-width="0.45"/>
<circle cx="290.72" cy="246.56" r="0.60" fill="#fff" stroke="#000" stroke-width="0.45"/>
<circle cx="293.69" cy="246.97" r="0.60" fill="#fff" stroke="#000" stroke-width="0.45"/>
<circle cx="296.67" cy="247.26" r="0.60" fill="#fff" stroke="#000" stroke-width="0.45"/>
<circle cx="299.67" cy="247.47" r="0.60" fill="#fff" stroke="#000" stroke-width="0.45"/>
<circle cx="302.66" cy="247.62" r="0.60" fill="#fff" stroke="#000" stroke-width="0.45"/>
<circle cx="305.66" cy="247.73" r="0.60" fill="#fff" stroke="#000" stroke-width="0.45"/>
<circle cx="308.66" cy="247.80" r="0.60" fill="#fff" stroke="#000" stroke-width="0.45"/>
<circle cx="311.66" cy="247.86" r="0.60" fill="#fff" stroke="#000" stroke-width="0.45"/>
<circle cx="314.66" cy="247.90" r="0.60" fill="#fff" stroke="#000" stroke-width="0.45"/>
<path d="M217.20,249.94 L217.70,249.94 L218.20,249.93 L218.70,249.93 L219.20,249.92 L219.70,249.92 L220.20,249.91 L220.70,249.91 L221.20,249.90 L221.70,249.90 L222.20,249.89 L222.70,249.88 L223.20,249.88 L223.70,249.87 L224.20,249.86 L224.70,249.85 L225.20,249.85 L225.70,249.84 L226.20,249.83 L226.70,249.82 L227.20,249.80 L227.70,249.79 L228.20,249.78 L228.70,249.77 L229.20,249.75 L229.70,249.74 L230.20,249.72 L230.70,249.71 L231.20,249.69 L231.70,249.67 L232.20,249.65 L232.70,249.63 L233.20,249.60 L233.70,249.58 L234.20,249.56 L234.70,249.53 L235.20,249.50 L235.70,249.47 L236.20,249.44 L236.70,249.40 L237.20,249.37 L237.70,249.33 L238.20,249.29 L238.70,249.24 L239.20,249.20 L239.70,249.15 L240.20,249.10 L240.70,249.04 L241.20,248.99 L241.70,248.93 L242.20,248.86 L242.70,248.79 L243.20,248.72 L243.70,248.64 L244.20,248.56 L244.70,248.47 L245.20,248.38 L245.70,248.28 L246.20,248.18 L246.70,248.07 L247.20,247.95 L247.70,247.82 L248.20,247.69 L248.70,247.55 L249.20,247.40 L249.70,247.25 L250.20,247.08 L250.70,246.90 L251.20,246.72 L251.70,246.52 L252.20,246.31 L252.70,246.08 L253.20,245.85 L253.70,245.59 L254.20,245.33 L254.70,245.04 L255.20,244.74 L255.70,244.43 L256.20,244.09 L256.70,243.73 L257.20,243.35 L257.70,242.95 L258.20,242.52 L258.70,242.07 L259.20,241.59 L259.70,241.08 L260.20,240.54 L260.70,239.97 L261.20,239.37 L261.70,238.73 L262.20,238.04 L262.70,237.32 L263.20,236.56 L263.70,235.75 L264.20,234.89 L264.70,233.98 L265.20,233.01 L265.70,231.99 L266.20,230.91 L266.70,229.77 L267.20,228.56 L267.70,227.28 L268.20,225.93 L268.70,224.50 L269.20,223.01 L269.70,221.45 L270.20,219.85 L270.70,218.23 L271.20,216.72 L271.70,215.62 L272.20,215.49 L272.70,216.34 L273.20,217.66 L273.70,219.11 L274.20,220.58 L274.70,222.02 L275.20,223.40 L275.70,224.73 L276.20,226.00 L276.70,227.21 L277.20,228.37 L277.70,229.46 L278.20,230.51 L278.70,231.50 L279.20,232.44 L279.70,233.34 L280.20,234.19 L280.70,234.99 L281.20,235.76 L281.70,236.49 L282.20,237.18 L282.70,237.83 L283.20,238.46 L283.70,239.05 L284.20,239.61 L284.70,240.14 L285.20,240.64 L285.70,241.12 L286.20,241.58 L286.70,242.01 L287.20,242.42 L287.70,242.81 L288.20,243.17 L288.70,243.52 L289.20,243.86 L289.70,244.17 L290.20,244.47 L290.70,244.75 L291.20,245.02 L291.70,245.28 L292.20,245.52 L292.70,245.75 L293.20,245.97 L293.70,246.17 L294.20,246.37 L294.70,246.55 L295.20,246.73 L295.70,246.90 L296.20,247.06 L296.70,247.21 L297.20,247.35 L297.70,247.49 L298.20,247.62 L298.70,247.74 L299.20,247.85 L299.70,247.96 L300.20,248.07 L300.70,248.17 L301.20,248.26 L301.70,248.35 L302.20,248.43 L302.70,248.52 L303.20,248.59 L303.70,248.66 L304.20,248.73 L304.70,248.80 L305.20,248.86 L305.70,248.92 L306.20,248.97 L306.70,249.03 L307.20,249.08 L307.70,249.12 L308.20,249.17 L308.70,249.21 L309.20,249.25 L309.70,249.29 L310.20,249.33 L310.70,249.36 L311.20,249.39 L311.70,249.42 L312.20,249.45 L312.70,249.48 L313.20,249.51 L313.70,249.53 L314.20,249.56 L314.70,249.58 L315.20,249.60 L315.70,249.62 L316.20,249.64 L316.70,249.66 L317.20,249.68" stroke="#000" stroke-width="0.85" fill="none" stroke-linejoin="round" stroke-linecap="round" />
<circle cx="247.08" cy="247.98" r="0.60" fill="#fff" stroke="#000" stroke-width="0.45"/>
<circle cx="249.97" cy="247.16" r="0.60" fill="#fff" stroke="#000" stroke-width="0.45"/>
<circle cx="252.75" cy="246.06" r="0.60" fill="#fff" stroke="#000" stroke-width="0.45"/>
<circle cx="255.39" cy="244.62" r="0.60" fill="#fff" stroke="#000" stroke-width="0.45"/>
<circle cx="257.81" cy="242.86" r="0.60" fill="#fff" stroke="#000" stroke-width="0.45"/>
<circle cx="259.98" cy="240.79" r="0.60" fill="#fff" stroke="#000" stroke-width="0.45"/>
<circle cx="261.88" cy="238.47" r="0.60" fill="#fff" stroke="#000" stroke-width="0.45"/>
<circle cx="263.55" cy="235.98" r="0.60" fill="#fff" stroke="#000" stroke-width="0.45"/>
<circle cx="265.02" cy="233.36" r="0.60" fill="#fff" stroke="#000" stroke-width="0.45"/>
<circle cx="266.31" cy="230.66" r="0.60" fill="#fff" stroke="#000" stroke-width="0.45"/>
<circle cx="267.46" cy="227.89" r="0.60" fill="#fff" stroke="#000" stroke-width="0.45"/>
<circle cx="268.50" cy="225.07" r="0.60" fill="#fff" stroke="#000" stroke-width="0.45"/>
<circle cx="269.45" cy="222.23" r="0.60" fill="#fff" stroke="#000" stroke-width="0.45"/>
<circle cx="270.35" cy="219.37" r="0.60" fill="#fff" stroke="#000" stroke-width="0.45"/>
<circle cx="271.29" cy="216.52" r="0.60" fill="#fff" stroke="#000" stroke-width="0.45"/>
<circle cx="272.88" cy="216.82" r="0.60" fill="#fff" stroke="#000" stroke-width="0.45"/>
<circle cx="273.88" cy="219.64" r="0.60" fill="#fff" stroke="#000" stroke-width="0.45"/>
<circle cx="274.87" cy="222.48" r="0.60" fill="#fff" stroke="#000" stroke-width="0.45"/>
<circle cx="275.92" cy="225.29" r="0.60" fill="#fff" stroke="#000" stroke-width="0.45"/>
<circle cx="277.07" cy="228.06" r="0.60" fill="#fff" stroke="#000" stroke-width="0.45"/>
<circle cx="278.34" cy="230.78" r="0.60" fill="#fff" stroke="#000" stroke-width="0.45"/>
<circle cx="279.75" cy="233.42" r="0.60" fill="#fff" stroke="#000" stroke-width="0.45"/>
<circle cx="281.34" cy="235.97" r="0.60" fill="#fff" stroke="#000" stroke-width="0.45"/>
<circle cx="283.13" cy="238.37" r="0.60" fill="#fff" stroke="#000" stroke-width="0.45"/>
<circle cx="285.15" cy="240.59" r="0.60" fill="#fff" stroke="#000" stroke-width="0.45"/>
<circle cx="287.40" cy="242.57" r="0.60" fill="#fff" stroke="#000" stroke-width="0.45"/>
<circle cx="289.87" cy="244.27" r="0.60" fill="#fff" stroke="#000" stroke-width="0.45"/>
<circle cx="292.52" cy="245.67" r="0.60" fill="#fff" stroke="#000" stroke-width="0.45"/>
<circle cx="295.31" cy="246.77" r="0.60" fill="#fff" stroke="#000" stroke-width="0.45"/>
<circle cx="298.19" cy="247.61" r="0.60" fill="#fff" stroke="#000" stroke-width="0.45"/>
<circle cx="301.12" cy="248.25" r="0.60" fill="#fff" stroke="#000" stroke-width="0.45"/>
<path d="M217.20,251.41 L217.70,251.41 L218.20,251.40 L218.70,251.39 L219.20,251.39 L219.70,251.38 L220.20,251.38 L220.70,251.37 L221.20,251.36 L221.70,251.35 L222.20,251.34 L222.70,251.34 L223.20,251.33 L223.70,251.32 L224.20,251.31 L224.70,251.29 L225.20,251.28 L225.70,251.27 L226.20,251.26 L226.70,251.24 L227.20,251.23 L227.70,251.21 L228.20,251.20 L228.70,251.18 L229.20,251.16 L229.70,251.14 L230.20,251.12 L230.70,251.10 L231.20,251.08 L231.70,251.05 L232.20,251.03 L232.70,251.00 L233.20,250.97 L233.70,250.94 L234.20,250.91 L234.70,250.88 L235.20,250.84 L235.70,250.80 L236.20,250.76 L236.70,250.72 L237.20,250.68 L237.70,250.63 L238.20,250.58 L238.70,250.53 L239.20,250.47 L239.70,250.41 L240.20,250.35 L240.70,250.29 L241.20,250.22 L241.70,250.14 L242.20,250.07 L242.70,249.99 L243.20,249.90 L243.70,249.81 L244.20,249.71 L244.70,249.61 L245.20,249.50 L245.70,249.39 L246.20,249.27 L246.70,249.14 L247.20,249.00 L247.70,248.86 L248.20,248.71 L248.70,248.55 L249.20,248.38 L249.70,248.20 L250.20,248.02 L250.70,247.82 L251.20,247.61 L251.70,247.38 L252.20,247.15 L252.70,246.90 L253.20,246.64 L253.70,246.36 L254.20,246.07 L254.70,245.76 L255.20,245.43 L255.70,245.08 L256.20,244.72 L256.70,244.33 L257.20,243.92 L257.70,243.49 L258.20,243.03 L258.70,242.55 L259.20,242.04 L259.70,241.50 L260.20,240.93 L260.70,240.33 L261.20,239.70 L261.70,239.02 L262.20,238.31 L262.70,237.56 L263.20,236.77 L263.70,235.94 L264.20,235.05 L264.70,234.12 L265.20,233.14 L265.70,232.10 L266.20,231.01 L266.70,229.86 L267.20,228.65 L267.70,227.38 L268.20,226.05 L268.70,224.68 L269.20,223.28 L269.70,221.90 L270.20,220.69 L270.70,220.02 L271.20,220.30 L271.70,221.25 L272.20,222.46 L272.70,223.73 L273.20,225.00 L273.70,226.24 L274.20,227.44 L274.70,228.58 L275.20,229.68 L275.70,230.73 L276.20,231.73 L276.70,232.69 L277.20,233.60 L277.70,234.46 L278.20,235.29 L278.70,236.08 L279.20,236.82 L279.70,237.54 L280.20,238.22 L280.70,238.86 L281.20,239.48 L281.70,240.06 L282.20,240.62 L282.70,241.15 L283.20,241.65 L283.70,242.13 L284.20,242.59 L284.70,243.02 L285.20,243.43 L285.70,243.83 L286.20,244.20 L286.70,244.56 L287.20,244.89 L287.70,245.22 L288.20,245.52 L288.70,245.81 L289.20,246.09 L289.70,246.35 L290.20,246.60 L290.70,246.84 L291.20,247.07 L291.70,247.29 L292.20,247.49 L292.70,247.69 L293.20,247.87 L293.70,248.05 L294.20,248.22 L294.70,248.38 L295.20,248.53 L295.70,248.67 L296.20,248.81 L296.70,248.94 L297.20,249.07 L297.70,249.19 L298.20,249.30 L298.70,249.41 L299.20,249.51 L299.70,249.61 L300.20,249.70 L300.70,249.79 L301.20,249.87 L301.70,249.95 L302.20,250.02 L302.70,250.10 L303.20,250.16 L303.70,250.23 L304.20,250.29 L304.70,250.35 L305.20,250.41 L305.70,250.46 L306.20,250.51 L306.70,250.56 L307.20,250.60 L307.70,250.65 L308.20,250.69 L308.70,250.73 L309.20,250.77 L309.70,250.80 L310.20,250.84 L310.70,250.87 L311.20,250.90 L311.70,250.93 L312.20,250.96 L312.70,250.98 L313.20,251.01 L313.70,251.03 L314.20,251.06 L314.70,251.08 L315.20,251.10 L315.70,251.12 L316.20,251.14 L316.70,251.15 L317.20,251.17" stroke="#000" stroke-width="0.85" fill="none" stroke-linejoin="round" stroke-linecap="round" />
<circle cx="249.89" cy="248.13" r="0.60" fill="#fff" stroke="#000" stroke-width="0.45"/>
<circle cx="252.64" cy="246.93" r="0.60" fill="#fff" stroke="#000" stroke-width="0.45"/>
<circle cx="255.22" cy="245.41" r="0.60" fill="#fff" stroke="#000" stroke-width="0.45"/>
<circle cx="257.60" cy="243.58" r="0.60" fill="#fff" stroke="#000" stroke-width="0.45"/>
<circle cx="259.73" cy="241.47" r="0.60" fill="#fff" stroke="#000" stroke-width="0.45"/>
<circle cx="261.61" cy="239.14" r="0.60" fill="#fff" stroke="#000" stroke-width="0.45"/>
<circle cx="263.28" cy="236.64" r="0.60" fill="#fff" stroke="#000" stroke-width="0.45"/>
<circle cx="264.75" cy="234.03" r="0.60" fill="#fff" stroke="#000" stroke-width="0.45"/>
<circle cx="266.05" cy="231.33" r="0.60" fill="#fff" stroke="#000" stroke-width="0.45"/>
<circle cx="267.23" cy="228.57" r="0.60" fill="#fff" stroke="#000" stroke-width="0.45"/>
<circle cx="268.30" cy="225.77" r="0.60" fill="#fff" stroke="#000" stroke-width="0.45"/>
<circle cx="269.32" cy="222.95" r="0.60" fill="#fff" stroke="#000" stroke-width="0.45"/>
<circle cx="270.55" cy="220.23" r="0.60" fill="#fff" stroke="#000" stroke-width="0.45"/>
<circle cx="272.12" cy="222.26" r="0.60" fill="#fff" stroke="#000" stroke-width="0.45"/>
<circle cx="273.22" cy="225.05" r="0.60" fill="#fff" stroke="#000" stroke-width="0.45"/>
<circle cx="274.37" cy="227.82" r="0.60" fill="#fff" stroke="#000" stroke-width="0.45"/>
<circle cx="275.62" cy="230.55" r="0.60" fill="#fff" stroke="#000" stroke-width="0.45"/>
<circle cx="276.99" cy="233.22" r="0.60" fill="#fff" stroke="#000" stroke-width="0.45"/>
<circle cx="278.52" cy="235.80" r="0.60" fill="#fff" stroke="#000" stroke-width="0.45"/>
<circle cx="280.23" cy="238.26" r="0.60" fill="#fff" stroke="#000" stroke-width="0.45"/>
<circle cx="282.15" cy="240.56" r="0.60" fill="#fff" stroke="#000" stroke-width="0.45"/>
<circle cx="284.29" cy="242.67" r="0.60" fill="#fff" stroke="#000" stroke-width="0.45"/>
<circle cx="286.65" cy="244.52" r="0.60" fill="#fff" stroke="#000" stroke-width="0.45"/>
<circle cx="289.20" cy="246.09" r="0.60" fill="#fff" stroke="#000" stroke-width="0.45"/>
<circle cx="291.91" cy="247.37" r="0.60" fill="#fff" stroke="#000" stroke-width="0.45"/>
<circle cx="294.73" cy="248.39" r="0.60" fill="#fff" stroke="#000" stroke-width="0.45"/>
<path d="M217.20,248.44 L217.70,248.44 L218.20,248.44 L218.70,248.43 L219.20,248.43 L219.70,248.42 L220.20,248.42 L220.70,248.42 L221.20,248.41 L221.70,248.41 L222.20,248.40 L222.70,248.40 L223.20,248.39 L223.70,248.38 L224.20,248.38 L224.70,248.37 L225.20,248.36 L225.70,248.35 L226.20,248.35 L226.70,248.34 L227.20,248.33 L227.70,248.32 L228.20,248.31 L228.70,248.30 L229.20,248.28 L229.70,248.27 L230.20,248.26 L230.70,248.25 L231.20,248.23 L231.70,248.22 L232.20,248.20 L232.70,248.18 L233.20,248.16 L233.70,248.14 L234.20,248.12 L234.70,248.10 L235.20,248.08 L235.70,248.06 L236.20,248.03 L236.70,248.00 L237.20,247.98 L237.70,247.95 L238.20,247.91 L238.70,247.88 L239.20,247.85 L239.70,247.81 L240.20,247.77 L240.70,247.73 L241.20,247.68 L241.70,247.64 L242.20,247.59 L242.70,247.53 L243.20,247.48 L243.70,247.42 L244.20,247.36 L244.70,247.29 L245.20,247.23 L245.70,247.15 L246.20,247.08 L246.70,246.99 L247.20,246.91 L247.70,246.82 L248.20,246.72 L248.70,246.62 L249.20,246.51 L249.70,246.40 L250.20,246.28 L250.70,246.15 L251.20,246.02 L251.70,245.88 L252.20,245.73 L252.70,245.57 L253.20,245.40 L253.70,245.22 L254.20,245.04 L254.70,244.84 L255.20,244.63 L255.70,244.41 L256.20,244.18 L256.70,243.93 L257.20,243.67 L257.70,243.39 L258.20,243.10 L258.70,242.79 L259.20,242.47 L259.70,242.13 L260.20,241.76 L260.70,241.38 L261.20,240.97 L261.70,240.54 L262.20,240.09 L262.70,239.61 L263.20,239.10 L263.70,238.57 L264.20,238.00 L264.70,237.41 L265.20,236.78 L265.70,236.11 L266.20,235.41 L266.70,234.66 L267.20,233.88 L267.70,233.05 L268.20,232.18 L268.70,231.26 L269.20,230.29 L269.70,229.27 L270.20,228.21 L270.70,227.09 L271.20,225.94 L271.70,224.76 L272.20,223.60 L272.70,222.58 L273.20,222.02 L273.70,222.24 L274.20,223.00 L274.70,223.97 L275.20,225.00 L275.70,226.03 L276.20,227.03 L276.70,227.99 L277.20,228.93 L277.70,229.82 L278.20,230.68 L278.70,231.50 L279.20,232.28 L279.70,233.03 L280.20,233.74 L280.70,234.42 L281.20,235.08 L281.70,235.70 L282.20,236.29 L282.70,236.86 L283.20,237.39 L283.70,237.91 L284.20,238.40 L284.70,238.87 L285.20,239.32 L285.70,239.74 L286.20,240.15 L286.70,240.54 L287.20,240.91 L287.70,241.26 L288.20,241.60 L288.70,241.92 L289.20,242.22 L289.70,242.51 L290.20,242.79 L290.70,243.06 L291.20,243.31 L291.70,243.55 L292.20,243.78 L292.70,244.00 L293.20,244.21 L293.70,244.41 L294.20,244.60 L294.70,244.78 L295.20,244.95 L295.70,245.12 L296.20,245.27 L296.70,245.42 L297.20,245.57 L297.70,245.70 L298.20,245.83 L298.70,245.96 L299.20,246.08 L299.70,246.19 L300.20,246.30 L300.70,246.40 L301.20,246.50 L301.70,246.59 L302.20,246.68 L302.70,246.76 L303.20,246.84 L303.70,246.92 L304.20,246.99 L304.70,247.06 L305.20,247.13 L305.70,247.19 L306.20,247.26 L306.70,247.31 L307.20,247.37 L307.70,247.42 L308.20,247.47 L308.70,247.52 L309.20,247.56 L309.70,247.61 L310.20,247.65 L310.70,247.69 L311.20,247.73 L311.70,247.76 L312.20,247.80 L312.70,247.83 L313.20,247.86 L313.70,247.89 L314.20,247.92 L314.70,247.95 L315.20,247.97 L315.70,248.00 L316.20,248.02 L316.70,248.04 L317.20,248.06" stroke="#000" stroke-width="0.85" fill="none" stroke-linejoin="round" stroke-linecap="round" />
<circle cx="217.20" cy="248.44" r="0.60" fill="#fff" stroke="#000" stroke-width="0.45"/>
<circle cx="220.20" cy="248.42" r="0.60" fill="#fff" stroke="#000" stroke-width="0.45"/>
<circle cx="223.20" cy="248.39" r="0.60" fill="#fff" stroke="#000" stroke-width="0.45"/>
<circle cx="226.20" cy="248.35" r="0.60" fill="#fff" stroke="#000" stroke-width="0.45"/>
<circle cx="229.20" cy="248.28" r="0.60" fill="#fff" stroke="#000" stroke-width="0.45"/>
<circle cx="232.20" cy="248.20" r="0.60" fill="#fff" stroke="#000" stroke-width="0.45"/>
<circle cx="235.20" cy="248.08" r="0.60" fill="#fff" stroke="#000" stroke-width="0.45"/>
<circle cx="238.19" cy="247.91" r="0.60" fill="#fff" stroke="#000" stroke-width="0.45"/>
<circle cx="241.18" cy="247.68" r="0.60" fill="#fff" stroke="#000" stroke-width="0.45"/>
<circle cx="244.16" cy="247.36" r="0.60" fill="#fff" stroke="#000" stroke-width="0.45"/>
<circle cx="247.13" cy="246.92" r="0.60" fill="#fff" stroke="#000" stroke-width="0.45"/>
<circle cx="250.07" cy="246.31" r="0.60" fill="#fff" stroke="#000" stroke-width="0.45"/>
<circle cx="252.95" cy="245.48" r="0.60" fill="#fff" stroke="#000" stroke-width="0.45"/>
<circle cx="255.74" cy="244.39" r="0.60" fill="#fff" stroke="#000" stroke-width="0.45"/>
<circle cx="258.39" cy="242.99" r="0.60" fill="#fff" stroke="#000" stroke-width="0.45"/>
<circle cx="260.84" cy="241.26" r="0.60" fill="#fff" stroke="#000" stroke-width="0.45"/>
<circle cx="263.06" cy="239.24" r="0.60" fill="#fff" stroke="#000" stroke-width="0.45"/>
<circle cx="265.03" cy="236.99" r="0.60" fill="#fff" stroke="#000" stroke-width="0.45"/>
<circle cx="266.78" cy="234.54" r="0.60" fill="#fff" stroke="#000" stroke-width="0.45"/>
<circle cx="268.31" cy="231.97" r="0.60" fill="#fff" stroke="#000" stroke-width="0.45"/>
<circle cx="269.69" cy="229.30" r="0.60" fill="#fff" stroke="#000" stroke-width="0.45"/>
<circle cx="270.93" cy="226.57" r="0.60" fill="#fff" stroke="#000" stroke-width="0.45"/>
<circle cx="272.11" cy="223.81" r="0.60" fill="#fff" stroke="#000" stroke-width="0.45"/>
<circle cx="273.88" cy="222.52" r="0.60" fill="#fff" stroke="#000" stroke-width="0.45"/>
<circle cx="275.28" cy="225.17" r="0.60" fill="#fff" stroke="#000" stroke-width="0.45"/>
<circle cx="276.62" cy="227.85" r="0.60" fill="#fff" stroke="#000" stroke-width="0.45"/>
<circle cx="278.08" cy="230.47" r="0.60" fill="#fff" stroke="#000" stroke-width="0.45"/>
<circle cx="279.69" cy="233.01" r="0.60" fill="#fff" stroke="#000" stroke-width="0.45"/>
<circle cx="281.47" cy="235.41" r="0.60" fill="#fff" stroke="#000" stroke-width="0.45"/>
<circle cx="283.46" cy="237.66" r="0.60" fill="#fff" stroke="#000" stroke-width="0.45"/>
<circle cx="285.65" cy="239.70" r="0.60" fill="#fff" stroke="#000" stroke-width="0.45"/>
<circle cx="288.06" cy="241.50" r="0.60" fill="#fff" stroke="#000" stroke-width="0.45"/>
<circle cx="290.64" cy="243.02" r="0.60" fill="#fff" stroke="#000" stroke-width="0.45"/>
<circle cx="293.36" cy="244.27" r="0.60" fill="#fff" stroke="#000" stroke-width="0.45"/>
<circle cx="296.19" cy="245.27" r="0.60" fill="#fff" stroke="#000" stroke-width="0.45"/>
<circle cx="299.09" cy="246.05" r="0.60" fill="#fff" stroke="#000" stroke-width="0.45"/>
<circle cx="302.03" cy="246.65" r="0.60" fill="#fff" stroke="#000" stroke-width="0.45"/>
<circle cx="304.99" cy="247.10" r="0.60" fill="#fff" stroke="#000" stroke-width="0.45"/>
<circle cx="307.97" cy="247.45" r="0.60" fill="#fff" stroke="#000" stroke-width="0.45"/>
<circle cx="310.96" cy="247.71" r="0.60" fill="#fff" stroke="#000" stroke-width="0.45"/>
<circle cx="313.96" cy="247.90" r="0.60" fill="#fff" stroke="#000" stroke-width="0.45"/>
<circle cx="316.95" cy="248.05" r="0.60" fill="#fff" stroke="#000" stroke-width="0.45"/>
<path d="M217.20,247.55 L217.70,247.26 L218.20,246.78 L218.70,245.99 L219.20,244.70 L219.70,242.56 L220.20,239.05 L220.70,233.30 L221.20,223.95 L221.70,209.34 L222.20,199.22 L222.70,210.22 L223.20,220.11 L223.70,227.53 L224.20,232.99 L224.70,237.01 L225.20,239.95 L225.70,242.11 L226.20,243.69 L226.70,244.84 L227.20,245.69 L227.70,246.31 L228.20,246.76 L228.70,247.10 L229.20,247.34 L229.70,247.52 L230.20,247.65 L230.70,247.74 L231.20,247.81 L231.70,247.86 L232.20,247.90 L232.70,247.93 L233.20,247.95 L233.70,247.96 L234.20,247.97 L234.70,247.98 L235.20,247.98 L235.70,247.99 L236.20,247.99 L236.70,247.99 L237.20,248.00 L237.70,248.00 L238.20,248.00 L238.70,248.00 L239.20,248.00 L239.70,248.00 L240.20,248.00 L240.70,248.00 L241.20,248.00 L241.70,248.00 L242.20,248.00 L242.70,248.00 L243.20,248.00 L243.70,248.00 L244.20,248.00 L244.70,248.00 L245.20,248.00 L245.70,248.00 L246.20,248.00 L246.70,248.00 L247.20,248.00 L247.70,248.00 L248.20,248.00 L248.70,248.00 L249.20,248.00 L249.70,248.00 L250.20,248.00 L250.70,248.00 L251.20,248.00 L251.70,248.00 L252.20,248.00 L252.70,248.00 L253.20,248.00 L253.70,248.00 L254.20,248.00 L254.70,248.00 L255.20,248.00 L255.70,248.00 L256.20,248.00 L256.70,248.00 L257.20,248.00 L257.70,248.00 L258.20,248.00 L258.70,248.00 L259.20,248.00 L259.70,248.00 L260.20,248.00 L260.70,248.00 L261.20,248.00 L261.70,248.00 L262.20,248.00 L262.70,248.00 L263.20,248.00 L263.70,248.00 L264.20,248.00 L264.70,248.00 L265.20,248.00 L265.70,248.00 L266.20,248.00 L266.70,248.00 L267.20,248.00 L267.70,248.00 L268.20,248.00 L268.70,248.00 L269.20,248.00 L269.70,248.00 L270.20,248.00 L270.70,248.00 L271.20,248.00 L271.70,248.00 L272.20,248.00 L272.70,248.00 L273.20,248.00 L273.70,248.00 L274.20,248.00 L274.70,248.00 L275.20,248.00 L275.70,248.00 L276.20,248.00 L276.70,248.00 L277.20,248.00 L277.70,248.00 L278.20,248.00 L278.70,248.00 L279.20,248.00 L279.70,248.00 L280.20,248.00 L280.70,248.00 L281.20,248.00 L281.70,248.00 L282.20,248.00 L282.70,248.00 L283.20,248.00 L283.70,248.00 L284.20,248.00 L284.70,248.00 L285.20,248.00 L285.70,248.00 L286.20,248.00 L286.70,248.00 L287.20,248.00 L287.70,248.00 L288.20,248.00 L288.70,248.00 L289.20,248.00 L289.70,248.00 L290.20,248.00 L290.70,248.00 L291.20,248.00 L291.70,248.00 L292.20,248.00 L292.70,248.00 L293.20,248.00 L293.70,248.00 L294.20,248.00 L294.70,248.00 L295.20,248.00 L295.70,248.00 L296.20,248.00 L296.70,248.00 L297.20,248.00 L297.70,248.00 L298.20,248.00 L298.70,248.00 L299.20,248.00 L299.70,248.00 L300.20,248.00 L300.70,248.00 L301.20,248.00 L301.70,248.00 L302.20,248.00 L302.70,248.00 L303.20,248.00 L303.70,248.00 L304.20,248.00 L304.70,248.00 L305.20,248.00 L305.70,248.00 L306.20,248.00 L306.70,248.00 L307.20,248.00 L307.70,248.00 L308.20,248.00 L308.70,248.00 L309.20,248.00 L309.70,248.00 L310.20,248.00 L310.70,248.00 L311.20,248.00 L311.70,248.00 L312.20,248.00 L312.70,248.00 L313.20,248.00 L313.70,248.00 L314.20,248.00 L314.70,248.00 L315.20,248.00 L315.70,248.00 L316.20,248.00 L316.70,248.00 L317.20,248.00" stroke="#000" stroke-width="0.9" fill="none" stroke-linejoin="round" stroke-linecap="round" />
<path d="M217.20,246.75 L217.70,246.58 L218.20,246.31 L218.70,245.86 L219.20,245.12 L219.70,243.91 L220.20,241.91 L220.70,238.63 L221.20,233.26 L221.70,224.52 L222.20,210.86 L222.70,201.40 L223.20,211.68 L223.70,220.93 L224.20,227.86 L224.70,232.97 L225.20,236.72 L225.70,239.48 L226.20,241.49 L226.70,242.97 L227.20,244.05 L227.70,244.84 L228.20,245.42 L228.70,245.84 L229.20,246.15 L229.70,246.38 L230.20,246.55 L230.70,246.67 L231.20,246.76 L231.70,246.82 L232.20,246.87 L232.70,246.91 L233.20,246.93 L233.70,246.95 L234.20,246.96 L234.70,246.97 L235.20,246.98 L235.70,246.99 L236.20,246.99 L236.70,246.99 L237.20,246.99 L237.70,247.00 L238.20,247.00 L238.70,247.00 L239.20,247.00 L239.70,247.00 L240.20,247.00 L240.70,247.00 L241.20,247.00 L241.70,247.00 L242.20,247.00 L242.70,247.00 L243.20,247.00 L243.70,247.00 L244.20,247.00 L244.70,247.00 L245.20,247.00 L245.70,247.00 L246.20,247.00 L246.70,247.00 L247.20,247.00 L247.70,247.00 L248.20,247.00 L248.70,247.00 L249.20,247.00 L249.70,247.00 L250.20,247.00 L250.70,247.00 L251.20,247.00 L251.70,247.00 L252.20,247.00 L252.70,247.00 L253.20,247.00 L253.70,247.00 L254.20,247.00 L254.70,247.00 L255.20,247.00 L255.70,247.00 L256.20,247.00 L256.70,247.00 L257.20,247.00 L257.70,247.00 L258.20,247.00 L258.70,247.00 L259.20,247.00 L259.70,247.00 L260.20,247.00 L260.70,247.00 L261.20,247.00 L261.70,247.00 L262.20,247.00 L262.70,247.00 L263.20,247.00 L263.70,247.00 L264.20,247.00 L264.70,247.00 L265.20,247.00 L265.70,247.00 L266.20,247.00 L266.70,247.00 L267.20,247.00 L267.70,247.00 L268.20,247.00 L268.70,247.00 L269.20,247.00 L269.70,247.00 L270.20,247.00 L270.70,247.00 L271.20,247.00 L271.70,247.00 L272.20,247.00 L272.70,247.00 L273.20,247.00 L273.70,247.00 L274.20,247.00 L274.70,247.00 L275.20,247.00 L275.70,247.00 L276.20,247.00 L276.70,247.00 L277.20,247.00 L277.70,247.00 L278.20,247.00 L278.70,247.00 L279.20,247.00 L279.70,247.00 L280.20,247.00 L280.70,247.00 L281.20,247.00 L281.70,247.00 L282.20,247.00 L282.70,247.00 L283.20,247.00 L283.70,247.00 L284.20,247.00 L284.70,247.00 L285.20,247.00 L285.70,247.00 L286.20,247.00 L286.70,247.00 L287.20,247.00 L287.70,247.00 L288.20,247.00 L288.70,247.00 L289.20,247.00 L289.70,247.00 L290.20,247.00 L290.70,247.00 L291.20,247.00 L291.70,247.00 L292.20,247.00 L292.70,247.00 L293.20,247.00 L293.70,247.00 L294.20,247.00 L294.70,247.00 L295.20,247.00 L295.70,247.00 L296.20,247.00 L296.70,247.00 L297.20,247.00 L297.70,247.00 L298.20,247.00 L298.70,247.00 L299.20,247.00 L299.70,247.00 L300.20,247.00 L300.70,247.00 L301.20,247.00 L301.70,247.00 L302.20,247.00 L302.70,247.00 L303.20,247.00 L303.70,247.00 L304.20,247.00 L304.70,247.00 L305.20,247.00 L305.70,247.00 L306.20,247.00 L306.70,247.00 L307.20,247.00 L307.70,247.00 L308.20,247.00 L308.70,247.00 L309.20,247.00 L309.70,247.00 L310.20,247.00 L310.70,247.00 L311.20,247.00 L311.70,247.00 L312.20,247.00 L312.70,247.00 L313.20,247.00 L313.70,247.00 L314.20,247.00 L314.70,247.00 L315.20,247.00 L315.70,247.00 L316.20,247.00 L316.70,247.00 L317.20,247.00" stroke="#000" stroke-width="0.6" fill="none" stroke-linejoin="round" stroke-linecap="round" />
<path d="M217.20,248.93 L217.70,248.90 L218.20,248.84 L218.70,248.75 L219.20,248.60 L219.70,248.37 L220.20,248.00 L220.70,247.43 L221.20,246.53 L221.70,245.12 L222.20,242.89 L222.70,239.39 L223.20,233.91 L223.70,225.40 L224.20,212.66 L224.70,204.13 L225.20,213.72 L225.70,222.49 L226.20,229.18 L226.70,234.20 L227.20,237.96 L227.70,240.77 L228.20,242.86 L228.70,244.42 L229.20,245.59 L229.70,246.46 L230.20,247.11 L230.70,247.59 L231.20,247.95 L231.70,248.22 L232.20,248.42 L232.70,248.56 L233.20,248.68 L233.70,248.76 L234.20,248.82 L234.70,248.87 L235.20,248.90 L235.70,248.93 L236.20,248.94 L236.70,248.96 L237.20,248.97 L237.70,248.98 L238.20,248.98 L238.70,248.99 L239.20,248.99 L239.70,248.99 L240.20,248.99 L240.70,249.00 L241.20,249.00 L241.70,249.00 L242.20,249.00 L242.70,249.00 L243.20,249.00 L243.70,249.00 L244.20,249.00 L244.70,249.00 L245.20,249.00 L245.70,249.00 L246.20,249.00 L246.70,249.00 L247.20,249.00 L247.70,249.00 L248.20,249.00 L248.70,249.00 L249.20,249.00 L249.70,249.00 L250.20,249.00 L250.70,249.00 L251.20,249.00 L251.70,249.00 L252.20,249.00 L252.70,249.00 L253.20,249.00 L253.70,249.00 L254.20,249.00 L254.70,249.00 L255.20,249.00 L255.70,249.00 L256.20,249.00 L256.70,249.00 L257.20,249.00 L257.70,249.00 L258.20,249.00 L258.70,249.00 L259.20,249.00 L259.70,249.00 L260.20,249.00 L260.70,249.00 L261.20,249.00 L261.70,249.00 L262.20,249.00 L262.70,249.00 L263.20,249.00 L263.70,249.00 L264.20,249.00 L264.70,249.00 L265.20,249.00 L265.70,249.00 L266.20,249.00 L266.70,249.00 L267.20,249.00 L267.70,249.00 L268.20,249.00 L268.70,249.00 L269.20,249.00 L269.70,249.00 L270.20,249.00 L270.70,249.00 L271.20,249.00 L271.70,249.00 L272.20,249.00 L272.70,249.00 L273.20,249.00 L273.70,249.00 L274.20,249.00 L274.70,249.00 L275.20,249.00 L275.70,249.00 L276.20,249.00 L276.70,249.00 L277.20,249.00 L277.70,249.00 L278.20,249.00 L278.70,249.00 L279.20,249.00 L279.70,249.00 L280.20,249.00 L280.70,249.00 L281.20,249.00 L281.70,249.00 L282.20,249.00 L282.70,249.00 L283.20,249.00 L283.70,249.00 L284.20,249.00 L284.70,249.00 L285.20,249.00 L285.70,249.00 L286.20,249.00 L286.70,249.00 L287.20,249.00 L287.70,249.00 L288.20,249.00 L288.70,249.00 L289.20,249.00 L289.70,249.00 L290.20,249.00 L290.70,249.00 L291.20,249.00 L291.70,249.00 L292.20,249.00 L292.70,249.00 L293.20,249.00 L293.70,249.00 L294.20,249.00 L294.70,249.00 L295.20,249.00 L295.70,249.00 L296.20,249.00 L296.70,249.00 L297.20,249.00 L297.70,249.00 L298.20,249.00 L298.70,249.00 L299.20,249.00 L299.70,249.00 L300.20,249.00 L300.70,249.00 L301.20,249.00 L301.70,249.00 L302.20,249.00 L302.70,249.00 L303.20,249.00 L303.70,249.00 L304.20,249.00 L304.70,249.00 L305.20,249.00 L305.70,249.00 L306.20,249.00 L306.70,249.00 L307.20,249.00 L307.70,249.00 L308.20,249.00 L308.70,249.00 L309.20,249.00 L309.70,249.00 L310.20,249.00 L310.70,249.00 L311.20,249.00 L311.70,249.00 L312.20,249.00 L312.70,249.00 L313.20,249.00 L313.70,249.00 L314.20,249.00 L314.70,249.00 L315.20,249.00 L315.70,249.00 L316.20,249.00 L316.70,249.00 L317.20,249.00" stroke="#000" stroke-width="0.9" fill="none" stroke-linejoin="round" stroke-linecap="round" />
<path d="M217.20,247.96 L217.70,247.94 L218.20,247.90 L218.70,247.85 L219.20,247.76 L219.70,247.63 L220.20,247.41 L220.70,247.07 L221.20,246.54 L221.70,245.70 L222.20,244.37 L222.70,242.29 L223.20,239.03 L223.70,233.91 L224.20,225.96 L224.70,214.07 L225.20,206.11 L225.70,215.06 L226.20,223.25 L226.70,229.49 L227.20,234.18 L227.70,237.69 L228.20,240.31 L228.70,242.27 L229.20,243.73 L229.70,244.82 L230.20,245.63 L230.70,246.23 L231.20,246.68 L231.70,247.02 L232.20,247.27 L232.70,247.45 L233.20,247.59 L233.70,247.70 L234.20,247.77 L234.70,247.83 L235.20,247.87 L235.70,247.91 L236.20,247.93 L236.70,247.95 L237.20,247.96 L237.70,247.97 L238.20,247.98 L238.70,247.98 L239.20,247.99 L239.70,247.99 L240.20,247.99 L240.70,248.00 L241.20,248.00 L241.70,248.00 L242.20,248.00 L242.70,248.00 L243.20,248.00 L243.70,248.00 L244.20,248.00 L244.70,248.00 L245.20,248.00 L245.70,248.00 L246.20,248.00 L246.70,248.00 L247.20,248.00 L247.70,248.00 L248.20,248.00 L248.70,248.00 L249.20,248.00 L249.70,248.00 L250.20,248.00 L250.70,248.00 L251.20,248.00 L251.70,248.00 L252.20,248.00 L252.70,248.00 L253.20,248.00 L253.70,248.00 L254.20,248.00 L254.70,248.00 L255.20,248.00 L255.70,248.00 L256.20,248.00 L256.70,248.00 L257.20,248.00 L257.70,248.00 L258.20,248.00 L258.70,248.00 L259.20,248.00 L259.70,248.00 L260.20,248.00 L260.70,248.00 L261.20,248.00 L261.70,248.00 L262.20,248.00 L262.70,248.00 L263.20,248.00 L263.70,248.00 L264.20,248.00 L264.70,248.00 L265.20,248.00 L265.70,248.00 L266.20,248.00 L266.70,248.00 L267.20,248.00 L267.70,248.00 L268.20,248.00 L268.70,248.00 L269.20,248.00 L269.70,248.00 L270.20,248.00 L270.70,248.00 L271.20,248.00 L271.70,248.00 L272.20,248.00 L272.70,248.00 L273.20,248.00 L273.70,248.00 L274.20,248.00 L274.70,248.00 L275.20,248.00 L275.70,248.00 L276.20,248.00 L276.70,248.00 L277.20,248.00 L277.70,248.00 L278.20,248.00 L278.70,248.00 L279.20,248.00 L279.70,248.00 L280.20,248.00 L280.70,248.00 L281.20,248.00 L281.70,248.00 L282.20,248.00 L282.70,248.00 L283.20,248.00 L283.70,248.00 L284.20,248.00 L284.70,248.00 L285.20,248.00 L285.70,248.00 L286.20,248.00 L286.70,248.00 L287.20,248.00 L287.70,248.00 L288.20,248.00 L288.70,248.00 L289.20,248.00 L289.70,248.00 L290.20,248.00 L290.70,248.00 L291.20,248.00 L291.70,248.00 L292.20,248.00 L292.70,248.00 L293.20,248.00 L293.70,248.00 L294.20,248.00 L294.70,248.00 L295.20,248.00 L295.70,248.00 L296.20,248.00 L296.70,248.00 L297.20,248.00 L297.70,248.00 L298.20,248.00 L298.70,248.00 L299.20,248.00 L299.70,248.00 L300.20,248.00 L300.70,248.00 L301.20,248.00 L301.70,248.00 L302.20,248.00 L302.70,248.00 L303.20,248.00 L303.70,248.00 L304.20,248.00 L304.70,248.00 L305.20,248.00 L305.70,248.00 L306.20,248.00 L306.70,248.00 L307.20,248.00 L307.70,248.00 L308.20,248.00 L308.70,248.00 L309.20,248.00 L309.70,248.00 L310.20,248.00 L310.70,248.00 L311.20,248.00 L311.70,248.00 L312.20,248.00 L312.70,248.00 L313.20,248.00 L313.70,248.00 L314.20,248.00 L314.70,248.00 L315.20,248.00 L315.70,248.00 L316.20,248.00 L316.70,248.00 L317.20,248.00" stroke="#000" stroke-width="0.6" fill="none" stroke-linejoin="round" stroke-linecap="round" />
<path d="M217.20,249.99 L217.70,249.98 L218.20,249.97 L218.70,249.95 L219.20,249.93 L219.70,249.89 L220.20,249.83 L220.70,249.74 L221.20,249.61 L221.70,249.40 L222.20,249.09 L222.70,248.62 L223.20,247.91 L223.70,246.84 L224.20,245.21 L224.70,242.74 L225.20,239.00 L225.70,233.36 L226.20,224.87 L226.70,212.34 L227.20,197.05 L227.70,202.93 L228.20,213.84 L228.70,222.49 L229.20,229.12 L229.70,234.17 L230.20,238.00 L230.70,240.90 L231.20,243.11 L231.70,244.78 L232.20,246.04 L232.70,247.00 L233.20,247.73 L233.70,248.28 L234.20,248.70 L234.70,249.01 L235.20,249.25 L235.70,249.43 L236.20,249.57 L236.70,249.67 L237.20,249.75 L237.70,249.81 L238.20,249.86 L238.70,249.89 L239.20,249.92 L239.70,249.94 L240.20,249.95 L240.70,249.96 L241.20,249.97 L241.70,249.98 L242.20,249.98 L242.70,249.99 L243.20,249.99 L243.70,249.99 L244.20,249.99 L244.70,250.00 L245.20,250.00 L245.70,250.00 L246.20,250.00 L246.70,250.00 L247.20,250.00 L247.70,250.00 L248.20,250.00 L248.70,250.00 L249.20,250.00 L249.70,250.00 L250.20,250.00 L250.70,250.00 L251.20,250.00 L251.70,250.00 L252.20,250.00 L252.70,250.00 L253.20,250.00 L253.70,250.00 L254.20,250.00 L254.70,250.00 L255.20,250.00 L255.70,250.00 L256.20,250.00 L256.70,250.00 L257.20,250.00 L257.70,250.00 L258.20,250.00 L258.70,250.00 L259.20,250.00 L259.70,250.00 L260.20,250.00 L260.70,250.00 L261.20,250.00 L261.70,250.00 L262.20,250.00 L262.70,250.00 L263.20,250.00 L263.70,250.00 L264.20,250.00 L264.70,250.00 L265.20,250.00 L265.70,250.00 L266.20,250.00 L266.70,250.00 L267.20,250.00 L267.70,250.00 L268.20,250.00 L268.70,250.00 L269.20,250.00 L269.70,250.00 L270.20,250.00 L270.70,250.00 L271.20,250.00 L271.70,250.00 L272.20,250.00 L272.70,250.00 L273.20,250.00 L273.70,250.00 L274.20,250.00 L274.70,250.00 L275.20,250.00 L275.70,250.00 L276.20,250.00 L276.70,250.00 L277.20,250.00 L277.70,250.00 L278.20,250.00 L278.70,250.00 L279.20,250.00 L279.70,250.00 L280.20,250.00 L280.70,250.00 L281.20,250.00 L281.70,250.00 L282.20,250.00 L282.70,250.00 L283.20,250.00 L283.70,250.00 L284.20,250.00 L284.70,250.00 L285.20,250.00 L285.70,250.00 L286.20,250.00 L286.70,250.00 L287.20,250.00 L287.70,250.00 L288.20,250.00 L288.70,250.00 L289.20,250.00 L289.70,250.00 L290.20,250.00 L290.70,250.00 L291.20,250.00 L291.70,250.00 L292.20,250.00 L292.70,250.00 L293.20,250.00 L293.70,250.00 L294.20,250.00 L294.70,250.00 L295.20,250.00 L295.70,250.00 L296.20,250.00 L296.70,250.00 L297.20,250.00 L297.70,250.00 L298.20,250.00 L298.70,250.00 L299.20,250.00 L299.70,250.00 L300.20,250.00 L300.70,250.00 L301.20,250.00 L301.70,250.00 L302.20,250.00 L302.70,250.00 L303.20,250.00 L303.70,250.00 L304.20,250.00 L304.70,250.00 L305.20,250.00 L305.70,250.00 L306.20,250.00 L306.70,250.00 L307.20,250.00 L307.70,250.00 L308.20,250.00 L308.70,250.00 L309.20,250.00 L309.70,250.00 L310.20,250.00 L310.70,250.00 L311.20,250.00 L311.70,250.00 L312.20,250.00 L312.70,250.00 L313.20,250.00 L313.70,250.00 L314.20,250.00 L314.70,250.00 L315.20,250.00 L315.70,250.00 L316.20,250.00 L316.70,250.00 L317.20,250.00" stroke="#000" stroke-width="0.9" fill="none" stroke-linejoin="round" stroke-linecap="round" />
<path d="M217.20,248.99 L217.70,248.99 L218.20,248.98 L218.70,248.97 L219.20,248.95 L219.70,248.93 L220.20,248.89 L220.70,248.84 L221.20,248.76 L221.70,248.63 L222.20,248.44 L222.70,248.15 L223.20,247.71 L223.70,247.04 L224.20,246.03 L224.70,244.50 L225.20,242.18 L225.70,238.68 L226.20,233.38 L226.70,225.42 L227.20,213.66 L227.70,199.31 L228.20,204.82 L228.70,215.07 L229.20,223.18 L229.70,229.41 L230.20,234.14 L230.70,237.73 L231.20,240.46 L231.70,242.53 L232.20,244.10 L232.70,245.29 L233.20,246.19 L233.70,246.87 L234.20,247.38 L234.70,247.78 L235.20,248.07 L235.70,248.30 L236.20,248.47 L236.70,248.60 L237.20,248.69 L237.70,248.77 L238.20,248.82 L238.70,248.87 L239.20,248.90 L239.70,248.92 L240.20,248.94 L240.70,248.96 L241.20,248.97 L241.70,248.97 L242.20,248.98 L242.70,248.99 L243.20,248.99 L243.70,248.99 L244.20,248.99 L244.70,249.00 L245.20,249.00 L245.70,249.00 L246.20,249.00 L246.70,249.00 L247.20,249.00 L247.70,249.00 L248.20,249.00 L248.70,249.00 L249.20,249.00 L249.70,249.00 L250.20,249.00 L250.70,249.00 L251.20,249.00 L251.70,249.00 L252.20,249.00 L252.70,249.00 L253.20,249.00 L253.70,249.00 L254.20,249.00 L254.70,249.00 L255.20,249.00 L255.70,249.00 L256.20,249.00 L256.70,249.00 L257.20,249.00 L257.70,249.00 L258.20,249.00 L258.70,249.00 L259.20,249.00 L259.70,249.00 L260.20,249.00 L260.70,249.00 L261.20,249.00 L261.70,249.00 L262.20,249.00 L262.70,249.00 L263.20,249.00 L263.70,249.00 L264.20,249.00 L264.70,249.00 L265.20,249.00 L265.70,249.00 L266.20,249.00 L266.70,249.00 L267.20,249.00 L267.70,249.00 L268.20,249.00 L268.70,249.00 L269.20,249.00 L269.70,249.00 L270.20,249.00 L270.70,249.00 L271.20,249.00 L271.70,249.00 L272.20,249.00 L272.70,249.00 L273.20,249.00 L273.70,249.00 L274.20,249.00 L274.70,249.00 L275.20,249.00 L275.70,249.00 L276.20,249.00 L276.70,249.00 L277.20,249.00 L277.70,249.00 L278.20,249.00 L278.70,249.00 L279.20,249.00 L279.70,249.00 L280.20,249.00 L280.70,249.00 L281.20,249.00 L281.70,249.00 L282.20,249.00 L282.70,249.00 L283.20,249.00 L283.70,249.00 L284.20,249.00 L284.70,249.00 L285.20,249.00 L285.70,249.00 L286.20,249.00 L286.70,249.00 L287.20,249.00 L287.70,249.00 L288.20,249.00 L288.70,249.00 L289.20,249.00 L289.70,249.00 L290.20,249.00 L290.70,249.00 L291.20,249.00 L291.70,249.00 L292.20,249.00 L292.70,249.00 L293.20,249.00 L293.70,249.00 L294.20,249.00 L294.70,249.00 L295.20,249.00 L295.70,249.00 L296.20,249.00 L296.70,249.00 L297.20,249.00 L297.70,249.00 L298.20,249.00 L298.70,249.00 L299.20,249.00 L299.70,249.00 L300.20,249.00 L300.70,249.00 L301.20,249.00 L301.70,249.00 L302.20,249.00 L302.70,249.00 L303.20,249.00 L303.70,249.00 L304.20,249.00 L304.70,249.00 L305.20,249.00 L305.70,249.00 L306.20,249.00 L306.70,249.00 L307.20,249.00 L307.70,249.00 L308.20,249.00 L308.70,249.00 L309.20,249.00 L309.70,249.00 L310.20,249.00 L310.70,249.00 L311.20,249.00 L311.70,249.00 L312.20,249.00 L312.70,249.00 L313.20,249.00 L313.70,249.00 L314.20,249.00 L314.70,249.00 L315.20,249.00 L315.70,249.00 L316.20,249.00 L316.70,249.00 L317.20,249.00" stroke="#000" stroke-width="0.6" fill="none" stroke-linejoin="round" stroke-linecap="round" />
<path d="M236.60,161.50 L237.00,161.50 L238.40,198.00 L235.30,198.00 Z" fill="#000" />
<path d="M247.90,180.00 L248.30,180.00 L249.30,198.00 L246.90,198.00 Z" fill="#000" />
<path d="M217.20,248.49 L217.70,248.49 L218.20,248.49 L218.70,248.49 L219.20,248.49 L219.70,248.49 L220.20,248.49 L220.70,248.49 L221.20,248.48 L221.70,248.48 L222.20,248.48 L222.70,248.48 L223.20,248.48 L223.70,248.48 L224.20,248.48 L224.70,248.48 L225.20,248.47 L225.70,248.47 L226.20,248.47 L226.70,248.47 L227.20,248.47 L227.70,248.47 L228.20,248.46 L228.70,248.46 L229.20,248.46 L229.70,248.46 L230.20,248.45 L230.70,248.45 L231.20,248.45 L231.70,248.44 L232.20,248.44 L232.70,248.43 L233.20,248.43 L233.70,248.43 L234.20,248.42 L234.70,248.42 L235.20,248.41 L235.70,248.41 L236.20,248.40 L236.70,248.39 L237.20,248.39 L237.70,248.38 L238.20,248.37 L238.70,248.36 L239.20,248.35 L239.70,248.34 L240.20,248.33 L240.70,248.32 L241.20,248.31 L241.70,248.30 L242.20,248.29 L242.70,248.27 L243.20,248.26 L243.70,248.24 L244.20,248.23 L244.70,248.21 L245.20,248.19 L245.70,248.17 L246.20,248.15 L246.70,248.13 L247.20,248.10 L247.70,248.08 L248.20,248.05 L248.70,248.02 L249.20,247.99 L249.70,247.96 L250.20,247.92 L250.70,247.89 L251.20,247.85 L251.70,247.80 L252.20,247.76 L252.70,247.71 L253.20,247.66 L253.70,247.61 L254.20,247.55 L254.70,247.49 L255.20,247.43 L255.70,247.36 L256.20,247.28 L256.70,247.21 L257.20,247.12 L257.70,247.03 L258.20,246.94 L258.70,246.84 L259.20,246.73 L259.70,246.62 L260.20,246.50 L260.70,246.37 L261.20,246.24 L261.70,246.09 L262.20,245.94 L262.70,245.78 L263.20,245.60 L263.70,245.42 L264.20,245.22 L264.70,245.02 L265.20,244.79 L265.70,244.56 L266.20,244.31 L266.70,244.04 L267.20,243.76 L267.70,243.46 L268.20,243.15 L268.70,242.81 L269.20,242.45 L269.70,242.07 L270.20,241.67 L270.70,241.25 L271.20,240.79 L271.70,240.32 L272.20,239.81 L272.70,239.28 L273.20,238.71 L273.70,238.12 L274.20,237.49 L274.70,236.84 L275.20,236.15 L275.70,235.42 L276.20,234.67 L276.70,233.89 L277.20,233.08 L277.70,232.26 L278.20,231.42 L278.70,230.59 L279.20,229.77 L279.70,229.00 L280.20,228.30 L280.70,227.71 L281.20,227.28 L281.70,227.04 L282.20,227.01 L282.70,227.12 L283.20,227.35 L283.70,227.68 L284.20,228.08 L284.70,228.53 L285.20,229.03 L285.70,229.54 L286.20,230.08 L286.70,230.61 L287.20,231.15 L287.70,231.69 L288.20,232.21 L288.70,232.73 L289.20,233.24 L289.70,233.74 L290.20,234.22 L290.70,234.70 L291.20,235.16 L291.70,235.60 L292.20,236.04 L292.70,236.46 L293.20,236.86 L293.70,237.26 L294.20,237.64 L294.70,238.01 L295.20,238.37 L295.70,238.72 L296.20,239.05 L296.70,239.38 L297.20,239.69 L297.70,240.00 L298.20,240.29 L298.70,240.57 L299.20,240.85 L299.70,241.11 L300.20,241.37 L300.70,241.61 L301.20,241.85 L301.70,242.08 L302.20,242.31 L302.70,242.52 L303.20,242.73 L303.70,242.93 L304.20,243.12 L304.70,243.31 L305.20,243.49 L305.70,243.66 L306.20,243.83 L306.70,244.00 L307.20,244.15 L307.70,244.30 L308.20,244.45 L308.70,244.59 L309.20,244.73 L309.70,244.86 L310.20,244.99 L310.70,245.11 L311.20,245.23 L311.70,245.34 L312.20,245.45 L312.70,245.56 L313.20,245.66 L313.70,245.76 L314.20,245.86 L314.70,245.95 L315.20,246.04 L315.70,246.12 L316.20,246.21 L316.70,246.29 L317.20,246.36" stroke="#000" stroke-width="0.7" fill="none" stroke-linejoin="round" stroke-linecap="round" />
<circle cx="217.20" cy="248.49" r="0.60" fill="#fff" stroke="#000" stroke-width="0.45"/>
<circle cx="220.20" cy="248.49" r="0.60" fill="#fff" stroke="#000" stroke-width="0.45"/>
<circle cx="223.20" cy="248.48" r="0.60" fill="#fff" stroke="#000" stroke-width="0.45"/>
<circle cx="226.20" cy="248.47" r="0.60" fill="#fff" stroke="#000" stroke-width="0.45"/>
<circle cx="229.20" cy="248.46" r="0.60" fill="#fff" stroke="#000" stroke-width="0.45"/>
<circle cx="232.20" cy="248.44" r="0.60" fill="#fff" stroke="#000" stroke-width="0.45"/>
<circle cx="235.20" cy="248.41" r="0.60" fill="#fff" stroke="#000" stroke-width="0.45"/>
<circle cx="238.20" cy="248.37" r="0.60" fill="#fff" stroke="#000" stroke-width="0.45"/>
<circle cx="241.20" cy="248.31" r="0.60" fill="#fff" stroke="#000" stroke-width="0.45"/>
<circle cx="244.20" cy="248.23" r="0.60" fill="#fff" stroke="#000" stroke-width="0.45"/>
<circle cx="247.20" cy="248.10" r="0.60" fill="#fff" stroke="#000" stroke-width="0.45"/>
<circle cx="250.19" cy="247.92" r="0.60" fill="#fff" stroke="#000" stroke-width="0.45"/>
<circle cx="253.18" cy="247.66" r="0.60" fill="#fff" stroke="#000" stroke-width="0.45"/>
<circle cx="256.15" cy="247.29" r="0.60" fill="#fff" stroke="#000" stroke-width="0.45"/>
<circle cx="259.11" cy="246.75" r="0.60" fill="#fff" stroke="#000" stroke-width="0.45"/>
<circle cx="262.01" cy="246.00" r="0.60" fill="#fff" stroke="#000" stroke-width="0.45"/>
<circle cx="264.82" cy="244.96" r="0.60" fill="#fff" stroke="#000" stroke-width="0.45"/>
<circle cx="267.49" cy="243.59" r="0.60" fill="#fff" stroke="#000" stroke-width="0.45"/>
<circle cx="269.95" cy="241.88" r="0.60" fill="#fff" stroke="#000" stroke-width="0.45"/>
<circle cx="272.16" cy="239.85" r="0.60" fill="#fff" stroke="#000" stroke-width="0.45"/>
<circle cx="274.12" cy="237.59" r="0.60" fill="#fff" stroke="#000" stroke-width="0.45"/>
<circle cx="275.88" cy="235.16" r="0.60" fill="#fff" stroke="#000" stroke-width="0.45"/>
<circle cx="277.48" cy="232.62" r="0.60" fill="#fff" stroke="#000" stroke-width="0.45"/>
<circle cx="279.03" cy="230.05" r="0.60" fill="#fff" stroke="#000" stroke-width="0.45"/>
<circle cx="280.79" cy="227.63" r="0.60" fill="#fff" stroke="#000" stroke-width="0.45"/>
<circle cx="283.49" cy="227.54" r="0.60" fill="#fff" stroke="#000" stroke-width="0.45"/>
<circle cx="285.70" cy="229.55" r="0.60" fill="#fff" stroke="#000" stroke-width="0.45"/>
<circle cx="287.75" cy="231.74" r="0.60" fill="#fff" stroke="#000" stroke-width="0.45"/>
<circle cx="289.85" cy="233.88" r="0.60" fill="#fff" stroke="#000" stroke-width="0.45"/>
<circle cx="292.06" cy="235.91" r="0.60" fill="#fff" stroke="#000" stroke-width="0.45"/>
<circle cx="294.40" cy="237.79" r="0.60" fill="#fff" stroke="#000" stroke-width="0.45"/>
<circle cx="296.87" cy="239.49" r="0.60" fill="#fff" stroke="#000" stroke-width="0.45"/>
<circle cx="299.47" cy="240.99" r="0.60" fill="#fff" stroke="#000" stroke-width="0.45"/>
<circle cx="302.17" cy="242.29" r="0.60" fill="#fff" stroke="#000" stroke-width="0.45"/>
<circle cx="304.96" cy="243.40" r="0.60" fill="#fff" stroke="#000" stroke-width="0.45"/>
<circle cx="307.81" cy="244.34" r="0.60" fill="#fff" stroke="#000" stroke-width="0.45"/>
<circle cx="310.71" cy="245.11" r="0.60" fill="#fff" stroke="#000" stroke-width="0.45"/>
<circle cx="313.64" cy="245.75" r="0.60" fill="#fff" stroke="#000" stroke-width="0.45"/>
<circle cx="316.59" cy="246.27" r="0.60" fill="#fff" stroke="#000" stroke-width="0.45"/>
<path d="M217.20,249.98 L217.70,249.98 L218.20,249.97 L218.70,249.97 L219.20,249.97 L219.70,249.97 L220.20,249.97 L220.70,249.97 L221.20,249.96 L221.70,249.96 L222.20,249.96 L222.70,249.96 L223.20,249.96 L223.70,249.95 L224.20,249.95 L224.70,249.95 L225.20,249.94 L225.70,249.94 L226.20,249.94 L226.70,249.93 L227.20,249.93 L227.70,249.93 L228.20,249.92 L228.70,249.92 L229.20,249.91 L229.70,249.91 L230.20,249.90 L230.70,249.90 L231.20,249.89 L231.70,249.88 L232.20,249.88 L232.70,249.87 L233.20,249.86 L233.70,249.86 L234.20,249.85 L234.70,249.84 L235.20,249.83 L235.70,249.82 L236.20,249.81 L236.70,249.80 L237.20,249.79 L237.70,249.78 L238.20,249.76 L238.70,249.75 L239.20,249.74 L239.70,249.72 L240.20,249.70 L240.70,249.69 L241.20,249.67 L241.70,249.65 L242.20,249.63 L242.70,249.61 L243.20,249.59 L243.70,249.56 L244.20,249.54 L244.70,249.51 L245.20,249.49 L245.70,249.46 L246.20,249.43 L246.70,249.39 L247.20,249.36 L247.70,249.32 L248.20,249.28 L248.70,249.24 L249.20,249.20 L249.70,249.15 L250.20,249.11 L250.70,249.05 L251.20,249.00 L251.70,248.94 L252.20,248.88 L252.70,248.82 L253.20,248.75 L253.70,248.68 L254.20,248.61 L254.70,248.53 L255.20,248.45 L255.70,248.36 L256.20,248.26 L256.70,248.17 L257.20,248.06 L257.70,247.95 L258.20,247.83 L258.70,247.71 L259.20,247.58 L259.70,247.45 L260.20,247.30 L260.70,247.15 L261.20,246.99 L261.70,246.82 L262.20,246.63 L262.70,246.44 L263.20,246.24 L263.70,246.03 L264.20,245.81 L264.70,245.57 L265.20,245.32 L265.70,245.06 L266.20,244.78 L266.70,244.48 L267.20,244.17 L267.70,243.85 L268.20,243.50 L268.70,243.14 L269.20,242.75 L269.70,242.35 L270.20,241.92 L270.70,241.47 L271.20,241.00 L271.70,240.50 L272.20,239.97 L272.70,239.42 L273.20,238.83 L273.70,238.22 L274.20,237.58 L274.70,236.90 L275.20,236.20 L275.70,235.45 L276.20,234.68 L276.70,233.87 L277.20,233.02 L277.70,232.15 L278.20,231.24 L278.70,230.30 L279.20,229.34 L279.70,228.37 L280.20,227.39 L280.70,226.43 L281.20,225.49 L281.70,224.61 L282.20,223.84 L282.70,223.20 L283.20,222.75 L283.70,222.52 L284.20,222.53 L284.70,222.71 L285.20,223.04 L285.70,223.50 L286.20,224.04 L286.70,224.66 L287.20,225.32 L287.70,226.01 L288.20,226.71 L288.70,227.42 L289.20,228.13 L289.70,228.83 L290.20,229.52 L290.70,230.20 L291.20,230.86 L291.70,231.51 L292.20,232.14 L292.70,232.75 L293.20,233.35 L293.70,233.93 L294.20,234.49 L294.70,235.03 L295.20,235.55 L295.70,236.06 L296.20,236.56 L296.70,237.03 L297.20,237.49 L297.70,237.93 L298.20,238.36 L298.70,238.78 L299.20,239.18 L299.70,239.57 L300.20,239.94 L300.70,240.30 L301.20,240.65 L301.70,240.98 L302.20,241.30 L302.70,241.62 L303.20,241.92 L303.70,242.21 L304.20,242.49 L304.70,242.76 L305.20,243.02 L305.70,243.27 L306.20,243.51 L306.70,243.75 L307.20,243.97 L307.70,244.19 L308.20,244.40 L308.70,244.60 L309.20,244.80 L309.70,244.99 L310.20,245.17 L310.70,245.34 L311.20,245.51 L311.70,245.67 L312.20,245.83 L312.70,245.98 L313.20,246.12 L313.70,246.26 L314.20,246.40 L314.70,246.53 L315.20,246.66 L315.70,246.78 L316.20,246.89 L316.70,247.01 L317.20,247.11" stroke="#000" stroke-width="1.7" fill="none" stroke-linejoin="round" stroke-linecap="round" />
<circle cx="255.53" cy="248.39" r="0.90" fill="#000"/>
<circle cx="256.71" cy="248.16" r="0.90" fill="#000"/>
<circle cx="257.88" cy="247.91" r="0.90" fill="#000"/>
<circle cx="259.05" cy="247.62" r="0.90" fill="#000"/>
<circle cx="260.20" cy="247.30" r="0.90" fill="#000"/>
<circle cx="261.34" cy="246.94" r="0.90" fill="#000"/>
<circle cx="262.47" cy="246.53" r="0.90" fill="#000"/>
<circle cx="263.59" cy="246.08" r="0.90" fill="#000"/>
<circle cx="264.68" cy="245.58" r="0.90" fill="#000"/>
<circle cx="265.74" cy="245.03" r="0.90" fill="#000"/>
<circle cx="266.78" cy="244.43" r="0.90" fill="#000"/>
<circle cx="267.79" cy="243.78" r="0.90" fill="#000"/>
<circle cx="268.77" cy="243.09" r="0.90" fill="#000"/>
<circle cx="269.71" cy="242.34" r="0.90" fill="#000"/>
<circle cx="270.61" cy="241.55" r="0.90" fill="#000"/>
<circle cx="271.48" cy="240.72" r="0.90" fill="#000"/>
<circle cx="272.31" cy="239.85" r="0.90" fill="#000"/>
<circle cx="273.10" cy="238.95" r="0.90" fill="#000"/>
<circle cx="273.86" cy="238.02" r="0.90" fill="#000"/>
<circle cx="274.58" cy="237.06" r="0.90" fill="#000"/>
<circle cx="275.27" cy="236.08" r="0.90" fill="#000"/>
<circle cx="275.94" cy="235.08" r="0.90" fill="#000"/>
<circle cx="276.58" cy="234.07" r="0.90" fill="#000"/>
<circle cx="277.19" cy="233.04" r="0.90" fill="#000"/>
<circle cx="277.78" cy="231.99" r="0.90" fill="#000"/>
<circle cx="278.36" cy="230.94" r="0.90" fill="#000"/>
<circle cx="278.92" cy="229.88" r="0.90" fill="#000"/>
<circle cx="279.47" cy="228.82" r="0.90" fill="#000"/>
<circle cx="280.02" cy="227.75" r="0.90" fill="#000"/>
<circle cx="280.57" cy="226.68" r="0.90" fill="#000"/>
<circle cx="281.13" cy="225.62" r="0.90" fill="#000"/>
<circle cx="281.72" cy="224.58" r="0.90" fill="#000"/>
<circle cx="282.40" cy="223.59" r="0.90" fill="#000"/>
<circle cx="283.23" cy="222.73" r="0.90" fill="#000"/>
<circle cx="284.37" cy="222.59" r="0.90" fill="#000"/>
<circle cx="285.39" cy="223.21" r="0.90" fill="#000"/>
<circle cx="286.22" cy="224.07" r="0.90" fill="#000"/>
<circle cx="286.97" cy="225.01" r="0.90" fill="#000"/>
<circle cx="287.68" cy="225.98" r="0.90" fill="#000"/>
<circle cx="288.37" cy="226.96" r="0.90" fill="#000"/>
<circle cx="289.07" cy="227.94" r="0.90" fill="#000"/>
<circle cx="289.76" cy="228.92" r="0.90" fill="#000"/>
<circle cx="290.47" cy="229.89" r="0.90" fill="#000"/>
<circle cx="291.19" cy="230.85" r="0.90" fill="#000"/>
<circle cx="291.93" cy="231.79" r="0.90" fill="#000"/>
<circle cx="292.68" cy="232.73" r="0.90" fill="#000"/>
<circle cx="293.46" cy="233.64" r="0.90" fill="#000"/>
<circle cx="294.25" cy="234.54" r="0.90" fill="#000"/>
<circle cx="295.07" cy="235.42" r="0.90" fill="#000"/>
<circle cx="295.91" cy="236.27" r="0.90" fill="#000"/>
<circle cx="296.78" cy="237.10" r="0.90" fill="#000"/>
<circle cx="297.67" cy="237.91" r="0.90" fill="#000"/>
<circle cx="298.58" cy="238.68" r="0.90" fill="#000"/>
<circle cx="299.52" cy="239.43" r="0.90" fill="#000"/>
<circle cx="300.49" cy="240.15" r="0.90" fill="#000"/>
<circle cx="301.47" cy="240.83" r="0.90" fill="#000"/>
<circle cx="302.48" cy="241.48" r="0.90" fill="#000"/>
<circle cx="303.51" cy="242.10" r="0.90" fill="#000"/>
<circle cx="304.56" cy="242.68" r="0.90" fill="#000"/>
<circle cx="305.62" cy="243.23" r="0.90" fill="#000"/>
<circle cx="306.71" cy="243.75" r="0.90" fill="#000"/>
<circle cx="307.80" cy="244.23" r="0.90" fill="#000"/>
<circle cx="308.92" cy="244.69" r="0.90" fill="#000"/>
<circle cx="310.04" cy="245.11" r="0.90" fill="#000"/>
<circle cx="311.17" cy="245.50" r="0.90" fill="#000"/>
<circle cx="312.32" cy="245.86" r="0.90" fill="#000"/>
<circle cx="313.47" cy="246.20" r="0.90" fill="#000"/>
<circle cx="314.63" cy="246.51" r="0.90" fill="#000"/>
<circle cx="315.79" cy="246.80" r="0.90" fill="#000"/>
<circle cx="316.96" cy="247.06" r="0.90" fill="#000"/>
<path d="M217.00,246.50 L260.00,246.20 L317.50,246.50 L317.50,253.50 L217.00,253.50 Z" fill="#000" fill-opacity="0.45"/>
<path d="M217.00,247.70 L260.00,247.20 L317.50,246.90" stroke="#000" stroke-width="0.6" fill="none" stroke-linejoin="round" stroke-linecap="round" />
<path d="M217.00,249.50 L260.00,249.00 L317.50,248.70" stroke="#000" stroke-width="0.8" fill="none" stroke-linejoin="round" stroke-linecap="round" />
<path d="M217.00,251.10 L260.00,250.60 L317.50,250.30" stroke="#000" stroke-width="0.7" fill="none" stroke-linejoin="round" stroke-linecap="round" />
<path d="M217.00,252.70 L260.00,252.20 L317.50,251.90" stroke="#000" stroke-width="0.9" fill="none" stroke-linejoin="round" stroke-linecap="round" />
<rect x="358.8" y="151.5" width="100.65" height="102.40" fill="none" stroke="#7a7a7a" stroke-width="1.15"/>
<line x1="358.80" y1="253.90" x2="358.80" y2="255.40" stroke="#444" stroke-width="0.7" />
<text x="358.80" y="261.70" font-size="6" text-anchor="middle" >0</text>
<line x1="368.87" y1="253.90" x2="368.87" y2="254.90" stroke="#444" stroke-width="0.6" />
<line x1="378.93" y1="253.90" x2="378.93" y2="255.40" stroke="#444" stroke-width="0.7" />
<text x="378.93" y="261.70" font-size="6" text-anchor="middle" >1</text>
<line x1="389.00" y1="253.90" x2="389.00" y2="254.90" stroke="#444" stroke-width="0.6" />
<line x1="399.06" y1="253.90" x2="399.06" y2="255.40" stroke="#444" stroke-width="0.7" />
<text x="399.06" y="261.70" font-size="6" text-anchor="middle" >2</text>
<line x1="409.12" y1="253.90" x2="409.12" y2="254.90" stroke="#444" stroke-width="0.6" />
<line x1="419.19" y1="253.90" x2="419.19" y2="255.40" stroke="#444" stroke-width="0.7" />
<text x="419.19" y="261.70" font-size="6" text-anchor="middle" >3</text>
<line x1="429.25" y1="253.90" x2="429.25" y2="254.90" stroke="#444" stroke-width="0.6" />
<line x1="439.32" y1="253.90" x2="439.32" y2="255.40" stroke="#444" stroke-width="0.7" />
<text x="439.32" y="261.70" font-size="6" text-anchor="middle" >4</text>
<line x1="449.38" y1="253.90" x2="449.38" y2="254.90" stroke="#444" stroke-width="0.6" />
<line x1="459.45" y1="253.90" x2="459.45" y2="255.40" stroke="#444" stroke-width="0.7" />
<text x="459.45" y="261.70" font-size="6" text-anchor="middle" >5</text>
<line x1="357.30" y1="151.50" x2="358.80" y2="151.50" stroke="#444" stroke-width="0.7" />
<text x="355.80" y="153.20" font-size="6" text-anchor="end" >200</text>
<line x1="357.80" y1="177.10" x2="358.80" y2="177.10" stroke="#444" stroke-width="0.6" />
<line x1="357.30" y1="202.70" x2="358.80" y2="202.70" stroke="#444" stroke-width="0.7" />
<text x="355.80" y="204.40" font-size="6" text-anchor="end" >100</text>
<line x1="357.80" y1="228.30" x2="358.80" y2="228.30" stroke="#444" stroke-width="0.6" />
<line x1="357.30" y1="253.90" x2="358.80" y2="253.90" stroke="#444" stroke-width="0.7" />
<text x="355.80" y="255.60" font-size="6" text-anchor="end" >0</text>
<text x="409.00" y="273.60" font-size="6.6" text-anchor="middle" textLength="32.8" lengthAdjust="spacingAndGlyphs" style="stroke-width:0.18px">Field <tspan font-style="italic">μ</tspan><tspan font-size="4.3" dy="1.4">0</tspan><tspan dy="-1.4"><tspan font-style="italic">H</tspan> (T)</tspan></text>
<text transform="translate(341.80,200.50) rotate(-90)" font-size="6.4" text-anchor="middle" style="stroke-width:0.12px" textLength="19.2" lengthAdjust="spacingAndGlyphs"><tspan font-style="italic">L</tspan> (J/kg)</text>
<text x="371.40" y="159.10" font-size="5.8" text-anchor="middle" >197.5 K</text>
<text x="381.00" y="197.10" font-size="5.8" text-anchor="middle" >200 K</text>
<text x="393.50" y="215.60" font-size="5.8" text-anchor="middle" >202.5 K</text>
<text x="404.00" y="228.00" font-size="5.8" text-anchor="middle" >205 K</text>
<text x="419.00" y="233.80" font-size="5.8" text-anchor="middle" >207.5 K</text>
<text x="445.00" y="240.20" font-size="5.8" text-anchor="middle" >210 K</text>
<line x1="369.20" y1="161.00" x2="369.20" y2="163.00" stroke="#999" stroke-width="0.4" />
<line x1="378.90" y1="199.00" x2="378.90" y2="210.00" stroke="#999" stroke-width="0.4" />
<line x1="391.70" y1="217.50" x2="391.70" y2="234.00" stroke="#999" stroke-width="0.4" />
<line x1="401.50" y1="229.50" x2="401.50" y2="242.00" stroke="#999" stroke-width="0.4" />
<line x1="413.60" y1="235.00" x2="413.60" y2="243.00" stroke="#999" stroke-width="0.4" />
<path d="M436.20,237.50 L427.80,237.50 L427.80,242.00" stroke="#999" stroke-width="0.4" fill="none" stroke-linejoin="round" stroke-linecap="round" />
<path d="M359.00,254.00 L359.00,247.50 L362.00,248.00 L366.00,249.50 L375.00,250.50 L395.00,251.20 L420.00,251.40 L440.00,252.00 L459.00,252.30 L459.00,254.00 Z" fill="#000" />
<path d="M359.00,251.60 L359.50,251.35 L360.00,251.03 L360.50,250.63 L361.00,250.13 L361.50,249.49 L362.00,248.70 L362.50,247.71 L363.00,246.46 L363.50,244.89 L364.00,242.92 L364.50,240.46 L365.00,237.36 L365.50,233.47 L366.00,228.59 L366.50,229.27 L367.00,233.50 L367.50,236.96 L368.00,239.80 L368.50,242.12 L369.00,244.02 L369.50,245.57 L370.00,246.85 L370.50,247.89 L371.00,248.74 L371.50,249.44 L372.00,250.02 L372.50,250.48 L373.00,250.87 L373.50,251.18 L374.00,251.44 L374.50,251.65 L375.00,251.82 L375.50,251.96 L376.00,252.08 L376.50,252.17 L377.00,252.25 L377.50,252.31 L378.00,252.37 L378.50,252.41 L379.00,252.44 L379.50,252.47 L380.00,252.49 L380.50,252.51 L381.00,252.53 L381.50,252.54 L382.00,252.55 L382.50,252.56 L383.00,252.57 L383.50,252.57 L384.00,252.58 L384.50,252.58 L385.00,252.59 L385.50,252.59 L386.00,252.59 L386.50,252.59 L387.00,252.59 L387.50,252.59 L388.00,252.60 L388.50,252.60 L389.00,252.60 L389.50,252.60 L390.00,252.60 L390.50,252.60 L391.00,252.60 L391.50,252.60 L392.00,252.60 L392.50,252.60 L393.00,252.60 L393.50,252.60 L394.00,252.60 L394.50,252.60 L395.00,252.60 L395.50,252.60 L396.00,252.60 L396.50,252.60 L397.00,252.60 L397.50,252.60 L398.00,252.60 L398.50,252.60 L399.00,252.60 L399.50,252.60 L400.00,252.60 L400.50,252.60 L401.00,252.60 L401.50,252.60 L402.00,252.60 L402.50,252.60 L403.00,252.60 L403.50,252.60 L404.00,252.60 L404.50,252.60 L405.00,252.60 L405.50,252.60 L406.00,252.60 L406.50,252.60 L407.00,252.60 L407.50,252.60 L408.00,252.60 L408.50,252.60 L409.00,252.60 L409.50,252.60 L410.00,252.60 L410.50,252.60 L411.00,252.60 L411.50,252.60 L412.00,252.60 L412.50,252.60 L413.00,252.60 L413.50,252.60 L414.00,252.60 L414.50,252.60 L415.00,252.60 L415.50,252.60 L416.00,252.60 L416.50,252.60 L417.00,252.60 L417.50,252.60 L418.00,252.60 L418.50,252.60 L419.00,252.60 L419.50,252.60 L420.00,252.60 L420.50,252.60 L421.00,252.60 L421.50,252.60 L422.00,252.60 L422.50,252.60 L423.00,252.60 L423.50,252.60 L424.00,252.60 L424.50,252.60 L425.00,252.60 L425.50,252.60 L426.00,252.60 L426.50,252.60 L427.00,252.60 L427.50,252.60 L428.00,252.60 L428.50,252.60 L429.00,252.60 L429.50,252.60 L430.00,252.60 L430.50,252.60 L431.00,252.60 L431.50,252.60 L432.00,252.60 L432.50,252.60 L433.00,252.60 L433.50,252.60 L434.00,252.60 L434.50,252.60 L435.00,252.60 L435.50,252.60 L436.00,252.60 L436.50,252.60 L437.00,252.60 L437.50,252.60 L438.00,252.60 L438.50,252.60 L439.00,252.60 L439.50,252.60 L440.00,252.60 L440.50,252.60 L441.00,252.60 L441.50,252.60 L442.00,252.60 L442.50,252.60 L443.00,252.60 L443.50,252.60 L444.00,252.60 L444.50,252.60 L445.00,252.60 L445.50,252.60 L446.00,252.60 L446.50,252.60 L447.00,252.60 L447.50,252.60 L448.00,252.60 L448.50,252.60 L449.00,252.60 L449.50,252.60 L450.00,252.60 L450.50,252.60 L451.00,252.60 L451.50,252.60 L452.00,252.60 L452.50,252.60 L453.00,252.60 L453.50,252.60 L454.00,252.60 L454.50,252.60 L455.00,252.60 L455.50,252.60 L456.00,252.60 L456.50,252.60 L457.00,252.60 L457.50,252.60 L458.00,252.60 L458.50,252.60 L459.00,252.60" stroke="#000" stroke-width="0.85" fill="none" stroke-linejoin="round" stroke-linecap="round" />
<circle cx="361.18" cy="249.89" r="0.60" fill="#fff" stroke="#111" stroke-width="0.45"/>
<circle cx="362.59" cy="247.48" r="0.60" fill="#fff" stroke="#111" stroke-width="0.45"/>
<circle cx="363.51" cy="244.84" r="0.60" fill="#fff" stroke="#111" stroke-width="0.45"/>
<circle cx="364.16" cy="242.12" r="0.60" fill="#fff" stroke="#111" stroke-width="0.45"/>
<circle cx="364.68" cy="239.37" r="0.60" fill="#fff" stroke="#111" stroke-width="0.45"/>
<circle cx="365.10" cy="236.60" r="0.60" fill="#fff" stroke="#111" stroke-width="0.45"/>
<circle cx="365.45" cy="233.82" r="0.60" fill="#fff" stroke="#111" stroke-width="0.45"/>
<circle cx="365.75" cy="231.04" r="0.60" fill="#fff" stroke="#111" stroke-width="0.45"/>
<circle cx="366.20" cy="228.86" r="0.60" fill="#fff" stroke="#111" stroke-width="0.45"/>
<circle cx="366.77" cy="231.54" r="0.60" fill="#fff" stroke="#111" stroke-width="0.45"/>
<circle cx="367.12" cy="234.32" r="0.60" fill="#fff" stroke="#111" stroke-width="0.45"/>
<circle cx="367.52" cy="237.09" r="0.60" fill="#fff" stroke="#111" stroke-width="0.45"/>
<circle cx="368.01" cy="239.85" r="0.60" fill="#fff" stroke="#111" stroke-width="0.45"/>
<circle cx="368.62" cy="242.58" r="0.60" fill="#fff" stroke="#111" stroke-width="0.45"/>
<circle cx="369.40" cy="245.27" r="0.60" fill="#fff" stroke="#111" stroke-width="0.45"/>
<circle cx="370.48" cy="247.85" r="0.60" fill="#fff" stroke="#111" stroke-width="0.45"/>
<path d="M359.00,249.95 L359.50,249.43 L360.00,248.81 L360.50,248.07 L361.00,247.18 L361.50,246.12 L362.00,244.86 L362.50,243.35 L363.00,241.54 L363.50,239.37 L364.00,236.79 L364.50,233.70 L365.00,230.00 L365.50,233.47 L366.00,236.41 L366.50,238.89 L367.00,241.00 L367.50,242.78 L368.00,244.29 L368.50,245.56 L369.00,246.64 L369.50,247.56 L370.00,248.33 L370.50,248.99 L371.00,249.54 L371.50,250.01 L372.00,250.41 L372.50,250.74 L373.00,251.03 L373.50,251.27 L374.00,251.47 L374.50,251.65 L375.00,251.79 L375.50,251.92 L376.00,252.02 L376.50,252.11 L377.00,252.19 L377.50,252.25 L378.00,252.30 L378.50,252.35 L379.00,252.39 L379.50,252.42 L380.00,252.45 L380.50,252.47 L381.00,252.49 L381.50,252.51 L382.00,252.52 L382.50,252.53 L383.00,252.54 L383.50,252.55 L384.00,252.56 L384.50,252.57 L385.00,252.57 L385.50,252.58 L386.00,252.58 L386.50,252.58 L387.00,252.59 L387.50,252.59 L388.00,252.59 L388.50,252.59 L389.00,252.59 L389.50,252.59 L390.00,252.59 L390.50,252.60 L391.00,252.60 L391.50,252.60 L392.00,252.60 L392.50,252.60 L393.00,252.60 L393.50,252.60 L394.00,252.60 L394.50,252.60 L395.00,252.60 L395.50,252.60 L396.00,252.60 L396.50,252.60 L397.00,252.60 L397.50,252.60 L398.00,252.60 L398.50,252.60 L399.00,252.60 L399.50,252.60 L400.00,252.60 L400.50,252.60 L401.00,252.60 L401.50,252.60 L402.00,252.60 L402.50,252.60 L403.00,252.60 L403.50,252.60 L404.00,252.60 L404.50,252.60 L405.00,252.60 L405.50,252.60 L406.00,252.60 L406.50,252.60 L407.00,252.60 L407.50,252.60 L408.00,252.60 L408.50,252.60 L409.00,252.60 L409.50,252.60 L410.00,252.60 L410.50,252.60 L411.00,252.60 L411.50,252.60 L412.00,252.60 L412.50,252.60 L413.00,252.60 L413.50,252.60 L414.00,252.60 L414.50,252.60 L415.00,252.60 L415.50,252.60 L416.00,252.60 L416.50,252.60 L417.00,252.60 L417.50,252.60 L418.00,252.60 L418.50,252.60 L419.00,252.60 L419.50,252.60 L420.00,252.60 L420.50,252.60 L421.00,252.60 L421.50,252.60 L422.00,252.60 L422.50,252.60 L423.00,252.60 L423.50,252.60 L424.00,252.60 L424.50,252.60 L425.00,252.60 L425.50,252.60 L426.00,252.60 L426.50,252.60 L427.00,252.60 L427.50,252.60 L428.00,252.60 L428.50,252.60 L429.00,252.60 L429.50,252.60 L430.00,252.60 L430.50,252.60 L431.00,252.60 L431.50,252.60 L432.00,252.60 L432.50,252.60 L433.00,252.60 L433.50,252.60 L434.00,252.60 L434.50,252.60 L435.00,252.60 L435.50,252.60 L436.00,252.60 L436.50,252.60 L437.00,252.60 L437.50,252.60 L438.00,252.60 L438.50,252.60 L439.00,252.60 L439.50,252.60 L440.00,252.60 L440.50,252.60 L441.00,252.60 L441.50,252.60 L442.00,252.60 L442.50,252.60 L443.00,252.60 L443.50,252.60 L444.00,252.60 L444.50,252.60 L445.00,252.60 L445.50,252.60 L446.00,252.60 L446.50,252.60 L447.00,252.60 L447.50,252.60 L448.00,252.60 L448.50,252.60 L449.00,252.60 L449.50,252.60 L450.00,252.60 L450.50,252.60 L451.00,252.60 L451.50,252.60 L452.00,252.60 L452.50,252.60 L453.00,252.60 L453.50,252.60 L454.00,252.60 L454.50,252.60 L455.00,252.60 L455.50,252.60 L456.00,252.60 L456.50,252.60 L457.00,252.60 L457.50,252.60 L458.00,252.60 L458.50,252.60 L459.00,252.60" stroke="#000" stroke-width="0.85" fill="none" stroke-linejoin="round" stroke-linecap="round" />
<circle cx="359.00" cy="249.95" r="0.60" fill="#fff" stroke="#111" stroke-width="0.45"/>
<circle cx="360.69" cy="247.73" r="0.60" fill="#fff" stroke="#111" stroke-width="0.45"/>
<circle cx="361.87" cy="245.19" r="0.60" fill="#fff" stroke="#111" stroke-width="0.45"/>
<circle cx="362.73" cy="242.53" r="0.60" fill="#fff" stroke="#111" stroke-width="0.45"/>
<circle cx="363.40" cy="239.81" r="0.60" fill="#fff" stroke="#111" stroke-width="0.45"/>
<circle cx="363.95" cy="237.07" r="0.60" fill="#fff" stroke="#111" stroke-width="0.45"/>
<circle cx="364.40" cy="234.30" r="0.60" fill="#fff" stroke="#111" stroke-width="0.45"/>
<circle cx="364.79" cy="231.53" r="0.60" fill="#fff" stroke="#111" stroke-width="0.45"/>
<circle cx="365.18" cy="231.24" r="0.60" fill="#fff" stroke="#111" stroke-width="0.45"/>
<circle cx="365.59" cy="234.01" r="0.60" fill="#fff" stroke="#111" stroke-width="0.45"/>
<circle cx="366.07" cy="236.77" r="0.60" fill="#fff" stroke="#111" stroke-width="0.45"/>
<circle cx="366.65" cy="239.51" r="0.60" fill="#fff" stroke="#111" stroke-width="0.45"/>
<circle cx="367.34" cy="242.22" r="0.60" fill="#fff" stroke="#111" stroke-width="0.45"/>
<circle cx="368.23" cy="244.87" r="0.60" fill="#fff" stroke="#111" stroke-width="0.45"/>
<circle cx="369.42" cy="247.41" r="0.60" fill="#fff" stroke="#111" stroke-width="0.45"/>
<circle cx="371.10" cy="249.63" r="0.60" fill="#fff" stroke="#111" stroke-width="0.45"/>
<path d="M359.00,251.81 L359.50,251.64 L360.00,251.43 L360.50,251.16 L361.00,250.85 L361.50,250.46 L362.00,249.99 L362.50,249.41 L363.00,248.70 L363.50,247.84 L364.00,246.78 L364.50,245.49 L365.00,243.92 L365.50,242.00 L366.00,239.65 L366.50,236.78 L367.00,233.28 L367.50,229.00 L368.00,232.41 L368.50,235.33 L369.00,237.83 L369.50,239.97 L370.00,241.80 L370.50,243.36 L371.00,244.69 L371.50,245.84 L372.00,246.82 L372.50,247.65 L373.00,248.37 L373.50,248.98 L374.00,249.50 L374.50,249.95 L375.00,250.34 L375.50,250.66 L376.00,250.94 L376.50,251.18 L377.00,251.39 L377.50,251.56 L378.00,251.71 L378.50,251.84 L379.00,251.95 L379.50,252.04 L380.00,252.13 L380.50,252.19 L381.00,252.25 L381.50,252.30 L382.00,252.35 L382.50,252.38 L383.00,252.41 L383.50,252.44 L384.00,252.46 L384.50,252.48 L385.00,252.50 L385.50,252.51 L386.00,252.53 L386.50,252.54 L387.00,252.55 L387.50,252.55 L388.00,252.56 L388.50,252.57 L389.00,252.57 L389.50,252.58 L390.00,252.58 L390.50,252.58 L391.00,252.58 L391.50,252.59 L392.00,252.59 L392.50,252.59 L393.00,252.59 L393.50,252.59 L394.00,252.59 L394.50,252.59 L395.00,252.60 L395.50,252.60 L396.00,252.60 L396.50,252.60 L397.00,252.60 L397.50,252.60 L398.00,252.60 L398.50,252.60 L399.00,252.60 L399.50,252.60 L400.00,252.60 L400.50,252.60 L401.00,252.60 L401.50,252.60 L402.00,252.60 L402.50,252.60 L403.00,252.60 L403.50,252.60 L404.00,252.60 L404.50,252.60 L405.00,252.60 L405.50,252.60 L406.00,252.60 L406.50,252.60 L407.00,252.60 L407.50,252.60 L408.00,252.60 L408.50,252.60 L409.00,252.60 L409.50,252.60 L410.00,252.60 L410.50,252.60 L411.00,252.60 L411.50,252.60 L412.00,252.60 L412.50,252.60 L413.00,252.60 L413.50,252.60 L414.00,252.60 L414.50,252.60 L415.00,252.60 L415.50,252.60 L416.00,252.60 L416.50,252.60 L417.00,252.60 L417.50,252.60 L418.00,252.60 L418.50,252.60 L419.00,252.60 L419.50,252.60 L420.00,252.60 L420.50,252.60 L421.00,252.60 L421.50,252.60 L422.00,252.60 L422.50,252.60 L423.00,252.60 L423.50,252.60 L424.00,252.60 L424.50,252.60 L425.00,252.60 L425.50,252.60 L426.00,252.60 L426.50,252.60 L427.00,252.60 L427.50,252.60 L428.00,252.60 L428.50,252.60 L429.00,252.60 L429.50,252.60 L430.00,252.60 L430.50,252.60 L431.00,252.60 L431.50,252.60 L432.00,252.60 L432.50,252.60 L433.00,252.60 L433.50,252.60 L434.00,252.60 L434.50,252.60 L435.00,252.60 L435.50,252.60 L436.00,252.60 L436.50,252.60 L437.00,252.60 L437.50,252.60 L438.00,252.60 L438.50,252.60 L439.00,252.60 L439.50,252.60 L440.00,252.60 L440.50,252.60 L441.00,252.60 L441.50,252.60 L442.00,252.60 L442.50,252.60 L443.00,252.60 L443.50,252.60 L444.00,252.60 L444.50,252.60 L445.00,252.60 L445.50,252.60 L446.00,252.60 L446.50,252.60 L447.00,252.60 L447.50,252.60 L448.00,252.60 L448.50,252.60 L449.00,252.60 L449.50,252.60 L450.00,252.60 L450.50,252.60 L451.00,252.60 L451.50,252.60 L452.00,252.60 L452.50,252.60 L453.00,252.60 L453.50,252.60 L454.00,252.60 L454.50,252.60 L455.00,252.60 L455.50,252.60 L456.00,252.60 L456.50,252.60 L457.00,252.60 L457.50,252.60 L458.00,252.60 L458.50,252.60 L459.00,252.60" stroke="#000" stroke-width="0.85" fill="none" stroke-linejoin="round" stroke-linecap="round" />
<circle cx="363.21" cy="248.34" r="0.60" fill="#fff" stroke="#111" stroke-width="0.45"/>
<circle cx="364.38" cy="245.80" r="0.60" fill="#fff" stroke="#111" stroke-width="0.45"/>
<circle cx="365.21" cy="243.13" r="0.60" fill="#fff" stroke="#111" stroke-width="0.45"/>
<circle cx="365.84" cy="240.40" r="0.60" fill="#fff" stroke="#111" stroke-width="0.45"/>
<circle cx="366.35" cy="237.65" r="0.60" fill="#fff" stroke="#111" stroke-width="0.45"/>
<circle cx="366.77" cy="234.88" r="0.60" fill="#fff" stroke="#111" stroke-width="0.45"/>
<circle cx="367.14" cy="232.10" r="0.60" fill="#fff" stroke="#111" stroke-width="0.45"/>
<circle cx="367.46" cy="229.32" r="0.60" fill="#fff" stroke="#111" stroke-width="0.45"/>
<circle cx="367.86" cy="231.45" r="0.60" fill="#fff" stroke="#111" stroke-width="0.45"/>
<circle cx="368.31" cy="234.21" r="0.60" fill="#fff" stroke="#111" stroke-width="0.45"/>
<circle cx="368.83" cy="236.97" r="0.60" fill="#fff" stroke="#111" stroke-width="0.45"/>
<circle cx="369.44" cy="239.70" r="0.60" fill="#fff" stroke="#111" stroke-width="0.45"/>
<circle cx="370.19" cy="242.39" r="0.60" fill="#fff" stroke="#111" stroke-width="0.45"/>
<circle cx="371.14" cy="245.02" r="0.60" fill="#fff" stroke="#111" stroke-width="0.45"/>
<circle cx="372.42" cy="247.51" r="0.60" fill="#fff" stroke="#111" stroke-width="0.45"/>
<circle cx="374.19" cy="249.67" r="0.60" fill="#fff" stroke="#111" stroke-width="0.45"/>
<path d="M359.00,249.15 L359.50,248.62 L360.00,248.01 L360.50,247.31 L361.00,246.49 L361.50,245.56 L362.00,244.47 L362.50,243.23 L363.00,241.79 L363.50,240.13 L364.00,238.21 L364.50,236.00 L365.00,238.21 L365.50,240.13 L366.00,241.79 L366.50,243.23 L367.00,244.47 L367.50,245.56 L368.00,246.49 L368.50,247.31 L369.00,248.01 L369.50,248.62 L370.00,249.15 L370.50,249.61 L371.00,250.01 L371.50,250.35 L372.00,250.65 L372.50,250.91 L373.00,251.14 L373.50,251.33 L374.00,251.50 L374.50,251.65 L375.00,251.77 L375.50,251.88 L376.00,251.98 L376.50,252.06 L377.00,252.13 L377.50,252.20 L378.00,252.25 L378.50,252.30 L379.00,252.34 L379.50,252.37 L380.00,252.40 L380.50,252.43 L381.00,252.45 L381.50,252.47 L382.00,252.49 L382.50,252.50 L383.00,252.52 L383.50,252.53 L384.00,252.54 L384.50,252.55 L385.00,252.55 L385.50,252.56 L386.00,252.56 L386.50,252.57 L387.00,252.57 L387.50,252.58 L388.00,252.58 L388.50,252.58 L389.00,252.58 L389.50,252.59 L390.00,252.59 L390.50,252.59 L391.00,252.59 L391.50,252.59 L392.00,252.59 L392.50,252.59 L393.00,252.60 L393.50,252.60 L394.00,252.60 L394.50,252.60 L395.00,252.60 L395.50,252.60 L396.00,252.60 L396.50,252.60 L397.00,252.60 L397.50,252.60 L398.00,252.60 L398.50,252.60 L399.00,252.60 L399.50,252.60 L400.00,252.60 L400.50,252.60 L401.00,252.60 L401.50,252.60 L402.00,252.60 L402.50,252.60 L403.00,252.60 L403.50,252.60 L404.00,252.60 L404.50,252.60 L405.00,252.60 L405.50,252.60 L406.00,252.60 L406.50,252.60 L407.00,252.60 L407.50,252.60 L408.00,252.60 L408.50,252.60 L409.00,252.60 L409.50,252.60 L410.00,252.60 L410.50,252.60 L411.00,252.60 L411.50,252.60 L412.00,252.60 L412.50,252.60 L413.00,252.60 L413.50,252.60 L414.00,252.60 L414.50,252.60 L415.00,252.60 L415.50,252.60 L416.00,252.60 L416.50,252.60 L417.00,252.60 L417.50,252.60 L418.00,252.60 L418.50,252.60 L419.00,252.60 L419.50,252.60 L420.00,252.60 L420.50,252.60 L421.00,252.60 L421.50,252.60 L422.00,252.60 L422.50,252.60 L423.00,252.60 L423.50,252.60 L424.00,252.60 L424.50,252.60 L425.00,252.60 L425.50,252.60 L426.00,252.60 L426.50,252.60 L427.00,252.60 L427.50,252.60 L428.00,252.60 L428.50,252.60 L429.00,252.60 L429.50,252.60 L430.00,252.60 L430.50,252.60 L431.00,252.60 L431.50,252.60 L432.00,252.60 L432.50,252.60 L433.00,252.60 L433.50,252.60 L434.00,252.60 L434.50,252.60 L435.00,252.60 L435.50,252.60 L436.00,252.60 L436.50,252.60 L437.00,252.60 L437.50,252.60 L438.00,252.60 L438.50,252.60 L439.00,252.60 L439.50,252.60 L440.00,252.60 L440.50,252.60 L441.00,252.60 L441.50,252.60 L442.00,252.60 L442.50,252.60 L443.00,252.60 L443.50,252.60 L444.00,252.60 L444.50,252.60 L445.00,252.60 L445.50,252.60 L446.00,252.60 L446.50,252.60 L447.00,252.60 L447.50,252.60 L448.00,252.60 L448.50,252.60 L449.00,252.60 L449.50,252.60 L450.00,252.60 L450.50,252.60 L451.00,252.60 L451.50,252.60 L452.00,252.60 L452.50,252.60 L453.00,252.60 L453.50,252.60 L454.00,252.60 L454.50,252.60 L455.00,252.60 L455.50,252.60 L456.00,252.60 L456.50,252.60 L457.00,252.60 L457.50,252.60 L458.00,252.60 L458.50,252.60 L459.00,252.60" stroke="#000" stroke-width="0.85" fill="none" stroke-linejoin="round" stroke-linecap="round" />
<circle cx="359.00" cy="249.15" r="0.60" fill="#fff" stroke="#111" stroke-width="0.45"/>
<circle cx="360.72" cy="246.95" r="0.60" fill="#fff" stroke="#111" stroke-width="0.45"/>
<circle cx="362.00" cy="244.47" r="0.60" fill="#fff" stroke="#111" stroke-width="0.45"/>
<circle cx="362.98" cy="241.84" r="0.60" fill="#fff" stroke="#111" stroke-width="0.45"/>
<circle cx="363.75" cy="239.15" r="0.60" fill="#fff" stroke="#111" stroke-width="0.45"/>
<circle cx="364.40" cy="236.43" r="0.60" fill="#fff" stroke="#111" stroke-width="0.45"/>
<circle cx="365.02" cy="238.30" r="0.60" fill="#fff" stroke="#111" stroke-width="0.45"/>
<circle cx="365.76" cy="241.00" r="0.60" fill="#fff" stroke="#111" stroke-width="0.45"/>
<circle cx="366.67" cy="243.65" r="0.60" fill="#fff" stroke="#111" stroke-width="0.45"/>
<circle cx="367.84" cy="246.19" r="0.60" fill="#fff" stroke="#111" stroke-width="0.45"/>
<circle cx="369.41" cy="248.51" r="0.60" fill="#fff" stroke="#111" stroke-width="0.45"/>
<path d="M359.00,251.48 L359.50,251.31 L360.00,251.12 L360.50,250.89 L361.00,250.62 L361.50,250.32 L362.00,249.97 L362.50,249.57 L363.00,249.10 L363.50,248.56 L364.00,247.94 L364.50,247.23 L365.00,246.40 L365.50,245.45 L366.00,244.36 L366.50,243.09 L367.00,241.63 L367.50,239.94 L368.00,238.00 L368.50,239.94 L369.00,241.63 L369.50,243.09 L370.00,244.36 L370.50,245.45 L371.00,246.40 L371.50,247.23 L372.00,247.94 L372.50,248.56 L373.00,249.10 L373.50,249.57 L374.00,249.97 L374.50,250.32 L375.00,250.62 L375.50,250.89 L376.00,251.12 L376.50,251.31 L377.00,251.48 L377.50,251.63 L378.00,251.76 L378.50,251.87 L379.00,251.97 L379.50,252.05 L380.00,252.13 L380.50,252.19 L381.00,252.24 L381.50,252.29 L382.00,252.33 L382.50,252.37 L383.00,252.40 L383.50,252.43 L384.00,252.45 L384.50,252.47 L385.00,252.49 L385.50,252.50 L386.00,252.51 L386.50,252.53 L387.00,252.54 L387.50,252.54 L388.00,252.55 L388.50,252.56 L389.00,252.56 L389.50,252.57 L390.00,252.57 L390.50,252.58 L391.00,252.58 L391.50,252.58 L392.00,252.58 L392.50,252.59 L393.00,252.59 L393.50,252.59 L394.00,252.59 L394.50,252.59 L395.00,252.59 L395.50,252.59 L396.00,252.60 L396.50,252.60 L397.00,252.60 L397.50,252.60 L398.00,252.60 L398.50,252.60 L399.00,252.60 L399.50,252.60 L400.00,252.60 L400.50,252.60 L401.00,252.60 L401.50,252.60 L402.00,252.60 L402.50,252.60 L403.00,252.60 L403.50,252.60 L404.00,252.60 L404.50,252.60 L405.00,252.60 L405.50,252.60 L406.00,252.60 L406.50,252.60 L407.00,252.60 L407.50,252.60 L408.00,252.60 L408.50,252.60 L409.00,252.60 L409.50,252.60 L410.00,252.60 L410.50,252.60 L411.00,252.60 L411.50,252.60 L412.00,252.60 L412.50,252.60 L413.00,252.60 L413.50,252.60 L414.00,252.60 L414.50,252.60 L415.00,252.60 L415.50,252.60 L416.00,252.60 L416.50,252.60 L417.00,252.60 L417.50,252.60 L418.00,252.60 L418.50,252.60 L419.00,252.60 L419.50,252.60 L420.00,252.60 L420.50,252.60 L421.00,252.60 L421.50,252.60 L422.00,252.60 L422.50,252.60 L423.00,252.60 L423.50,252.60 L424.00,252.60 L424.50,252.60 L425.00,252.60 L425.50,252.60 L426.00,252.60 L426.50,252.60 L427.00,252.60 L427.50,252.60 L428.00,252.60 L428.50,252.60 L429.00,252.60 L429.50,252.60 L430.00,252.60 L430.50,252.60 L431.00,252.60 L431.50,252.60 L432.00,252.60 L432.50,252.60 L433.00,252.60 L433.50,252.60 L434.00,252.60 L434.50,252.60 L435.00,252.60 L435.50,252.60 L436.00,252.60 L436.50,252.60 L437.00,252.60 L437.50,252.60 L438.00,252.60 L438.50,252.60 L439.00,252.60 L439.50,252.60 L440.00,252.60 L440.50,252.60 L441.00,252.60 L441.50,252.60 L442.00,252.60 L442.50,252.60 L443.00,252.60 L443.50,252.60 L444.00,252.60 L444.50,252.60 L445.00,252.60 L445.50,252.60 L446.00,252.60 L446.50,252.60 L447.00,252.60 L447.50,252.60 L448.00,252.60 L448.50,252.60 L449.00,252.60 L449.50,252.60 L450.00,252.60 L450.50,252.60 L451.00,252.60 L451.50,252.60 L452.00,252.60 L452.50,252.60 L453.00,252.60 L453.50,252.60 L454.00,252.60 L454.50,252.60 L455.00,252.60 L455.50,252.60 L456.00,252.60 L456.50,252.60 L457.00,252.60 L457.50,252.60 L458.00,252.60 L458.50,252.60 L459.00,252.60" stroke="#000" stroke-width="0.85" fill="none" stroke-linejoin="round" stroke-linecap="round" />
<circle cx="363.60" cy="248.44" r="0.60" fill="#fff" stroke="#111" stroke-width="0.45"/>
<circle cx="365.15" cy="246.11" r="0.60" fill="#fff" stroke="#111" stroke-width="0.45"/>
<circle cx="366.31" cy="243.56" r="0.60" fill="#fff" stroke="#111" stroke-width="0.45"/>
<circle cx="367.21" cy="240.91" r="0.60" fill="#fff" stroke="#111" stroke-width="0.45"/>
<circle cx="367.95" cy="238.21" r="0.60" fill="#fff" stroke="#111" stroke-width="0.45"/>
<circle cx="368.66" cy="240.49" r="0.60" fill="#fff" stroke="#111" stroke-width="0.45"/>
<circle cx="369.53" cy="243.16" r="0.60" fill="#fff" stroke="#111" stroke-width="0.45"/>
<circle cx="370.64" cy="245.72" r="0.60" fill="#fff" stroke="#111" stroke-width="0.45"/>
<circle cx="372.12" cy="248.09" r="0.60" fill="#fff" stroke="#111" stroke-width="0.45"/>
<circle cx="374.11" cy="250.05" r="0.60" fill="#fff" stroke="#111" stroke-width="0.45"/>
<path d="M359.00,252.42 L359.50,252.40 L360.00,252.37 L360.50,252.34 L361.00,252.31 L361.50,252.27 L362.00,252.22 L362.50,252.17 L363.00,252.12 L363.50,252.05 L364.00,251.98 L364.50,251.90 L365.00,251.80 L365.50,251.70 L366.00,251.58 L366.50,251.44 L367.00,251.29 L367.50,251.11 L368.00,250.91 L368.50,250.69 L369.00,250.43 L369.50,250.15 L370.00,249.82 L370.50,249.45 L371.00,249.03 L371.50,248.55 L372.00,248.01 L372.50,247.40 L373.00,246.71 L373.50,245.93 L374.00,245.04 L374.50,244.03 L375.00,242.89 L375.50,241.60 L376.00,242.76 L376.50,243.79 L377.00,244.72 L377.50,245.55 L378.00,246.29 L378.50,246.95 L379.00,247.55 L379.50,248.08 L380.00,248.55 L380.50,248.98 L381.00,249.36 L381.50,249.70 L382.00,250.01 L382.50,250.28 L383.00,250.52 L383.50,250.74 L384.00,250.94 L384.50,251.11 L385.00,251.27 L385.50,251.41 L386.00,251.53 L386.50,251.65 L387.00,251.75 L387.50,251.84 L388.00,251.92 L388.50,251.99 L389.00,252.05 L389.50,252.11 L390.00,252.16 L390.50,252.21 L391.00,252.25 L391.50,252.29 L392.00,252.32 L392.50,252.35 L393.00,252.37 L393.50,252.40 L394.00,252.42 L394.50,252.44 L395.00,252.46 L395.50,252.47 L396.00,252.48 L396.50,252.50 L397.00,252.51 L397.50,252.52 L398.00,252.53 L398.50,252.53 L399.00,252.54 L399.50,252.55 L400.00,252.55 L400.50,252.56 L401.00,252.56 L401.50,252.57 L402.00,252.57 L402.50,252.57 L403.00,252.58 L403.50,252.58 L404.00,252.58 L404.50,252.58 L405.00,252.58 L405.50,252.59 L406.00,252.59 L406.50,252.59 L407.00,252.59 L407.50,252.59 L408.00,252.59 L408.50,252.59 L409.00,252.59 L409.50,252.59 L410.00,252.59 L410.50,252.60 L411.00,252.60 L411.50,252.60 L412.00,252.60 L412.50,252.60 L413.00,252.60 L413.50,252.60 L414.00,252.60 L414.50,252.60 L415.00,252.60 L415.50,252.60 L416.00,252.60 L416.50,252.60 L417.00,252.60 L417.50,252.60 L418.00,252.60 L418.50,252.60 L419.00,252.60 L419.50,252.60 L420.00,252.60 L420.50,252.60 L421.00,252.60 L421.50,252.60 L422.00,252.60 L422.50,252.60 L423.00,252.60 L423.50,252.60 L424.00,252.60 L424.50,252.60 L425.00,252.60 L425.50,252.60 L426.00,252.60 L426.50,252.60 L427.00,252.60 L427.50,252.60 L428.00,252.60 L428.50,252.60 L429.00,252.60 L429.50,252.60 L430.00,252.60 L430.50,252.60 L431.00,252.60 L431.50,252.60 L432.00,252.60 L432.50,252.60 L433.00,252.60 L433.50,252.60 L434.00,252.60 L434.50,252.60 L435.00,252.60 L435.50,252.60 L436.00,252.60 L436.50,252.60 L437.00,252.60 L437.50,252.60 L438.00,252.60 L438.50,252.60 L439.00,252.60 L439.50,252.60 L440.00,252.60 L440.50,252.60 L441.00,252.60 L441.50,252.60 L442.00,252.60 L442.50,252.60 L443.00,252.60 L443.50,252.60 L444.00,252.60 L444.50,252.60 L445.00,252.60 L445.50,252.60 L446.00,252.60 L446.50,252.60 L447.00,252.60 L447.50,252.60 L448.00,252.60 L448.50,252.60 L449.00,252.60 L449.50,252.60 L450.00,252.60 L450.50,252.60 L451.00,252.60 L451.50,252.60 L452.00,252.60 L452.50,252.60 L453.00,252.60 L453.50,252.60 L454.00,252.60 L454.50,252.60 L455.00,252.60 L455.50,252.60 L456.00,252.60 L456.50,252.60 L457.00,252.60 L457.50,252.60 L458.00,252.60 L458.50,252.60 L459.00,252.60" stroke="#000" stroke-width="0.85" fill="none" stroke-linejoin="round" stroke-linecap="round" />
<circle cx="369.79" cy="249.96" r="0.60" fill="#fff" stroke="#111" stroke-width="0.45"/>
<circle cx="371.89" cy="248.13" r="0.60" fill="#fff" stroke="#111" stroke-width="0.45"/>
<circle cx="373.54" cy="245.87" r="0.60" fill="#fff" stroke="#111" stroke-width="0.45"/>
<circle cx="374.79" cy="243.37" r="0.60" fill="#fff" stroke="#111" stroke-width="0.45"/>
<circle cx="375.86" cy="242.42" r="0.60" fill="#fff" stroke="#111" stroke-width="0.45"/>
<circle cx="377.12" cy="244.92" r="0.60" fill="#fff" stroke="#111" stroke-width="0.45"/>
<circle cx="378.72" cy="247.21" r="0.60" fill="#fff" stroke="#111" stroke-width="0.45"/>
<circle cx="380.73" cy="249.15" r="0.60" fill="#fff" stroke="#111" stroke-width="0.45"/>
<path d="M359.00,252.57 L359.50,252.56 L360.00,252.55 L360.50,252.55 L361.00,252.54 L361.50,252.53 L362.00,252.52 L362.50,252.50 L363.00,252.49 L363.50,252.47 L364.00,252.45 L364.50,252.43 L365.00,252.41 L365.50,252.38 L366.00,252.34 L366.50,252.30 L367.00,252.26 L367.50,252.20 L368.00,252.14 L368.50,252.07 L369.00,251.99 L369.50,251.90 L370.00,251.79 L370.50,251.67 L371.00,251.52 L371.50,251.36 L372.00,251.17 L372.50,250.95 L373.00,250.69 L373.50,250.40 L374.00,250.06 L374.50,249.67 L375.00,249.22 L375.50,248.70 L376.00,248.10 L376.50,247.41 L377.00,246.61 L377.50,245.69 L378.00,244.63 L378.50,243.41 L379.00,242.00 L379.50,243.11 L380.00,244.11 L380.50,245.00 L381.00,245.80 L381.50,246.52 L382.00,247.16 L382.50,247.73 L383.00,248.24 L383.50,248.70 L384.00,249.11 L384.50,249.48 L385.00,249.81 L385.50,250.10 L386.00,250.36 L386.50,250.60 L387.00,250.81 L387.50,251.00 L388.00,251.17 L388.50,251.32 L389.00,251.45 L389.50,251.57 L390.00,251.68 L390.50,251.78 L391.00,251.86 L391.50,251.94 L392.00,252.01 L392.50,252.07 L393.00,252.13 L393.50,252.18 L394.00,252.22 L394.50,252.26 L395.00,252.30 L395.50,252.33 L396.00,252.36 L396.50,252.38 L397.00,252.41 L397.50,252.43 L398.00,252.44 L398.50,252.46 L399.00,252.48 L399.50,252.49 L400.00,252.50 L400.50,252.51 L401.00,252.52 L401.50,252.53 L402.00,252.54 L402.50,252.54 L403.00,252.55 L403.50,252.55 L404.00,252.56 L404.50,252.56 L405.00,252.57 L405.50,252.57 L406.00,252.57 L406.50,252.58 L407.00,252.58 L407.50,252.58 L408.00,252.58 L408.50,252.58 L409.00,252.59 L409.50,252.59 L410.00,252.59 L410.50,252.59 L411.00,252.59 L411.50,252.59 L412.00,252.59 L412.50,252.59 L413.00,252.59 L413.50,252.60 L414.00,252.60 L414.50,252.60 L415.00,252.60 L415.50,252.60 L416.00,252.60 L416.50,252.60 L417.00,252.60 L417.50,252.60 L418.00,252.60 L418.50,252.60 L419.00,252.60 L419.50,252.60 L420.00,252.60 L420.50,252.60 L421.00,252.60 L421.50,252.60 L422.00,252.60 L422.50,252.60 L423.00,252.60 L423.50,252.60 L424.00,252.60 L424.50,252.60 L425.00,252.60 L425.50,252.60 L426.00,252.60 L426.50,252.60 L427.00,252.60 L427.50,252.60 L428.00,252.60 L428.50,252.60 L429.00,252.60 L429.50,252.60 L430.00,252.60 L430.50,252.60 L431.00,252.60 L431.50,252.60 L432.00,252.60 L432.50,252.60 L433.00,252.60 L433.50,252.60 L434.00,252.60 L434.50,252.60 L435.00,252.60 L435.50,252.60 L436.00,252.60 L436.50,252.60 L437.00,252.60 L437.50,252.60 L438.00,252.60 L438.50,252.60 L439.00,252.60 L439.50,252.60 L440.00,252.60 L440.50,252.60 L441.00,252.60 L441.50,252.60 L442.00,252.60 L442.50,252.60 L443.00,252.60 L443.50,252.60 L444.00,252.60 L444.50,252.60 L445.00,252.60 L445.50,252.60 L446.00,252.60 L446.50,252.60 L447.00,252.60 L447.50,252.60 L448.00,252.60 L448.50,252.60 L449.00,252.60 L449.50,252.60 L450.00,252.60 L450.50,252.60 L451.00,252.60 L451.50,252.60 L452.00,252.60 L452.50,252.60 L453.00,252.60 L453.50,252.60 L454.00,252.60 L454.50,252.60 L455.00,252.60 L455.50,252.60 L456.00,252.60 L456.50,252.60 L457.00,252.60 L457.50,252.60 L458.00,252.60 L458.50,252.60 L459.00,252.60" stroke="#000" stroke-width="0.85" fill="none" stroke-linejoin="round" stroke-linecap="round" />
<circle cx="375.04" cy="249.18" r="0.60" fill="#fff" stroke="#111" stroke-width="0.45"/>
<circle cx="376.77" cy="246.98" r="0.60" fill="#fff" stroke="#111" stroke-width="0.45"/>
<circle cx="378.06" cy="244.50" r="0.60" fill="#fff" stroke="#111" stroke-width="0.45"/>
<circle cx="379.05" cy="242.12" r="0.60" fill="#fff" stroke="#111" stroke-width="0.45"/>
<circle cx="380.29" cy="244.63" r="0.60" fill="#fff" stroke="#111" stroke-width="0.45"/>
<circle cx="381.84" cy="246.95" r="0.60" fill="#fff" stroke="#111" stroke-width="0.45"/>
<circle cx="383.80" cy="248.95" r="0.60" fill="#fff" stroke="#111" stroke-width="0.45"/>
<path d="M359.00,252.60 L359.50,252.60 L360.00,252.59 L360.50,252.59 L361.00,252.59 L361.50,252.59 L362.00,252.59 L362.50,252.59 L363.00,252.58 L363.50,252.58 L364.00,252.58 L364.50,252.57 L365.00,252.57 L365.50,252.56 L366.00,252.56 L366.50,252.55 L367.00,252.54 L367.50,252.53 L368.00,252.52 L368.50,252.50 L369.00,252.49 L369.50,252.47 L370.00,252.44 L370.50,252.41 L371.00,252.38 L371.50,252.34 L372.00,252.29 L372.50,252.24 L373.00,252.17 L373.50,252.09 L374.00,252.00 L374.50,251.89 L375.00,251.77 L375.50,251.61 L376.00,251.44 L376.50,251.23 L377.00,250.98 L377.50,250.68 L378.00,250.33 L378.50,249.92 L379.00,249.44 L379.50,248.86 L380.00,248.18 L380.50,247.38 L381.00,246.44 L381.50,245.32 L382.00,244.00 L382.50,245.01 L383.00,245.90 L383.50,246.69 L384.00,247.38 L384.50,248.00 L385.00,248.54 L385.50,249.01 L386.00,249.44 L386.50,249.81 L387.00,250.14 L387.50,250.43 L388.00,250.68 L388.50,250.91 L389.00,251.11 L389.50,251.28 L390.00,251.44 L390.50,251.57 L391.00,251.69 L391.50,251.80 L392.00,251.89 L392.50,251.98 L393.00,252.05 L393.50,252.11 L394.00,252.17 L394.50,252.22 L395.00,252.27 L395.50,252.31 L396.00,252.34 L396.50,252.37 L397.00,252.40 L397.50,252.42 L398.00,252.44 L398.50,252.46 L399.00,252.48 L399.50,252.49 L400.00,252.50 L400.50,252.52 L401.00,252.53 L401.50,252.53 L402.00,252.54 L402.50,252.55 L403.00,252.55 L403.50,252.56 L404.00,252.56 L404.50,252.57 L405.00,252.57 L405.50,252.58 L406.00,252.58 L406.50,252.58 L407.00,252.58 L407.50,252.59 L408.00,252.59 L408.50,252.59 L409.00,252.59 L409.50,252.59 L410.00,252.59 L410.50,252.59 L411.00,252.59 L411.50,252.59 L412.00,252.60 L412.50,252.60 L413.00,252.60 L413.50,252.60 L414.00,252.60 L414.50,252.60 L415.00,252.60 L415.50,252.60 L416.00,252.60 L416.50,252.60 L417.00,252.60 L417.50,252.60 L418.00,252.60 L418.50,252.60 L419.00,252.60 L419.50,252.60 L420.00,252.60 L420.50,252.60 L421.00,252.60 L421.50,252.60 L422.00,252.60 L422.50,252.60 L423.00,252.60 L423.50,252.60 L424.00,252.60 L424.50,252.60 L425.00,252.60 L425.50,252.60 L426.00,252.60 L426.50,252.60 L427.00,252.60 L427.50,252.60 L428.00,252.60 L428.50,252.60 L429.00,252.60 L429.50,252.60 L430.00,252.60 L430.50,252.60 L431.00,252.60 L431.50,252.60 L432.00,252.60 L432.50,252.60 L433.00,252.60 L433.50,252.60 L434.00,252.60 L434.50,252.60 L435.00,252.60 L435.50,252.60 L436.00,252.60 L436.50,252.60 L437.00,252.60 L437.50,252.60 L438.00,252.60 L438.50,252.60 L439.00,252.60 L439.50,252.60 L440.00,252.60 L440.50,252.60 L441.00,252.60 L441.50,252.60 L442.00,252.60 L442.50,252.60 L443.00,252.60 L443.50,252.60 L444.00,252.60 L444.50,252.60 L445.00,252.60 L445.50,252.60 L446.00,252.60 L446.50,252.60 L447.00,252.60 L447.50,252.60 L448.00,252.60 L448.50,252.60 L449.00,252.60 L449.50,252.60 L450.00,252.60 L450.50,252.60 L451.00,252.60 L451.50,252.60 L452.00,252.60 L452.50,252.60 L453.00,252.60 L453.50,252.60 L454.00,252.60 L454.50,252.60 L455.00,252.60 L455.50,252.60 L456.00,252.60 L456.50,252.60 L457.00,252.60 L457.50,252.60 L458.00,252.60 L458.50,252.60 L459.00,252.60" stroke="#000" stroke-width="0.85" fill="none" stroke-linejoin="round" stroke-linecap="round" />
<circle cx="380.03" cy="248.14" r="0.60" fill="#fff" stroke="#111" stroke-width="0.45"/>
<circle cx="381.34" cy="245.67" r="0.60" fill="#fff" stroke="#111" stroke-width="0.45"/>
<circle cx="382.44" cy="244.90" r="0.60" fill="#fff" stroke="#111" stroke-width="0.45"/>
<circle cx="383.92" cy="247.27" r="0.60" fill="#fff" stroke="#111" stroke-width="0.45"/>
<circle cx="385.84" cy="249.30" r="0.60" fill="#fff" stroke="#111" stroke-width="0.45"/>
<path d="M359.00,252.60 L359.50,252.60 L360.00,252.60 L360.50,252.60 L361.00,252.60 L361.50,252.60 L362.00,252.60 L362.50,252.60 L363.00,252.60 L363.50,252.60 L364.00,252.60 L364.50,252.60 L365.00,252.60 L365.50,252.60 L366.00,252.60 L366.50,252.60 L367.00,252.60 L367.50,252.60 L368.00,252.60 L368.50,252.60 L369.00,252.59 L369.50,252.59 L370.00,252.59 L370.50,252.59 L371.00,252.59 L371.50,252.59 L372.00,252.58 L372.50,252.58 L373.00,252.58 L373.50,252.57 L374.00,252.56 L374.50,252.56 L375.00,252.55 L375.50,252.54 L376.00,252.53 L376.50,252.51 L377.00,252.50 L377.50,252.48 L378.00,252.45 L378.50,252.42 L379.00,252.39 L379.50,252.35 L380.00,252.30 L380.50,252.24 L381.00,252.17 L381.50,252.09 L382.00,251.99 L382.50,251.87 L383.00,251.72 L383.50,251.55 L384.00,251.35 L384.50,251.10 L385.00,250.81 L385.50,250.46 L386.00,250.04 L386.50,249.54 L387.00,248.94 L387.50,248.23 L388.00,247.37 L388.50,246.35 L389.00,245.12 L389.50,243.66 L390.00,241.92 L390.50,239.83 L391.00,237.33 L391.50,237.55 L392.00,239.55 L392.50,241.29 L393.00,242.79 L393.50,244.10 L394.00,245.23 L394.50,246.21 L395.00,247.06 L395.50,247.80 L396.00,248.44 L396.50,248.99 L397.00,249.47 L397.50,249.89 L398.00,250.25 L398.50,250.56 L399.00,250.83 L399.50,251.07 L400.00,251.27 L400.50,251.45 L401.00,251.60 L401.50,251.74 L402.00,251.85 L402.50,251.95 L403.00,252.04 L403.50,252.11 L404.00,252.18 L404.50,252.23 L405.00,252.28 L405.50,252.32 L406.00,252.36 L406.50,252.39 L407.00,252.42 L407.50,252.44 L408.00,252.47 L408.50,252.48 L409.00,252.50 L409.50,252.51 L410.00,252.52 L410.50,252.53 L411.00,252.54 L411.50,252.55 L412.00,252.56 L412.50,252.56 L413.00,252.57 L413.50,252.57 L414.00,252.58 L414.50,252.58 L415.00,252.58 L415.50,252.58 L416.00,252.59 L416.50,252.59 L417.00,252.59 L417.50,252.59 L418.00,252.59 L418.50,252.59 L419.00,252.59 L419.50,252.59 L420.00,252.60 L420.50,252.60 L421.00,252.60 L421.50,252.60 L422.00,252.60 L422.50,252.60 L423.00,252.60 L423.50,252.60 L424.00,252.60 L424.50,252.60 L425.00,252.60 L425.50,252.60 L426.00,252.60 L426.50,252.60 L427.00,252.60 L427.50,252.60 L428.00,252.60 L428.50,252.60 L429.00,252.60 L429.50,252.60 L430.00,252.60 L430.50,252.60 L431.00,252.60 L431.50,252.60 L432.00,252.60 L432.50,252.60 L433.00,252.60 L433.50,252.60 L434.00,252.60 L434.50,252.60 L435.00,252.60 L435.50,252.60 L436.00,252.60 L436.50,252.60 L437.00,252.60 L437.50,252.60 L438.00,252.60 L438.50,252.60 L439.00,252.60 L439.50,252.60 L440.00,252.60 L440.50,252.60 L441.00,252.60 L441.50,252.60 L442.00,252.60 L442.50,252.60 L443.00,252.60 L443.50,252.60 L444.00,252.60 L444.50,252.60 L445.00,252.60 L445.50,252.60 L446.00,252.60 L446.50,252.60 L447.00,252.60 L447.50,252.60 L448.00,252.60 L448.50,252.60 L449.00,252.60 L449.50,252.60 L450.00,252.60 L450.50,252.60 L451.00,252.60 L451.50,252.60 L452.00,252.60 L452.50,252.60 L453.00,252.60 L453.50,252.60 L454.00,252.60 L454.50,252.60 L455.00,252.60 L455.50,252.60 L456.00,252.60 L456.50,252.60 L457.00,252.60 L457.50,252.60 L458.00,252.60 L458.50,252.60 L459.00,252.60" stroke="#000" stroke-width="0.85" fill="none" stroke-linejoin="round" stroke-linecap="round" />
<circle cx="386.33" cy="249.71" r="0.60" fill="#fff" stroke="#111" stroke-width="0.45"/>
<circle cx="387.96" cy="247.44" r="0.60" fill="#fff" stroke="#111" stroke-width="0.45"/>
<circle cx="389.08" cy="244.88" r="0.60" fill="#fff" stroke="#111" stroke-width="0.45"/>
<circle cx="389.92" cy="242.21" r="0.60" fill="#fff" stroke="#111" stroke-width="0.45"/>
<circle cx="390.57" cy="239.49" r="0.60" fill="#fff" stroke="#111" stroke-width="0.45"/>
<circle cx="391.51" cy="237.60" r="0.60" fill="#fff" stroke="#111" stroke-width="0.45"/>
<circle cx="392.22" cy="240.31" r="0.60" fill="#fff" stroke="#111" stroke-width="0.45"/>
<circle cx="393.07" cy="242.97" r="0.60" fill="#fff" stroke="#111" stroke-width="0.45"/>
<circle cx="394.16" cy="245.55" r="0.60" fill="#fff" stroke="#111" stroke-width="0.45"/>
<circle cx="395.61" cy="247.94" r="0.60" fill="#fff" stroke="#111" stroke-width="0.45"/>
<circle cx="397.56" cy="249.94" r="0.60" fill="#fff" stroke="#111" stroke-width="0.45"/>
<path d="M359.00,252.60 L359.50,252.60 L360.00,252.60 L360.50,252.60 L361.00,252.60 L361.50,252.60 L362.00,252.60 L362.50,252.60 L363.00,252.60 L363.50,252.59 L364.00,252.59 L364.50,252.59 L365.00,252.59 L365.50,252.59 L366.00,252.59 L366.50,252.59 L367.00,252.59 L367.50,252.58 L368.00,252.58 L368.50,252.58 L369.00,252.57 L369.50,252.57 L370.00,252.57 L370.50,252.56 L371.00,252.55 L371.50,252.55 L372.00,252.54 L372.50,252.53 L373.00,252.52 L373.50,252.51 L374.00,252.49 L374.50,252.47 L375.00,252.46 L375.50,252.43 L376.00,252.41 L376.50,252.38 L377.00,252.34 L377.50,252.31 L378.00,252.26 L378.50,252.21 L379.00,252.15 L379.50,252.08 L380.00,252.00 L380.50,251.91 L381.00,251.80 L381.50,251.68 L382.00,251.53 L382.50,251.37 L383.00,251.18 L383.50,250.96 L384.00,250.71 L384.50,250.42 L385.00,250.09 L385.50,249.70 L386.00,249.25 L386.50,248.74 L387.00,248.15 L387.50,247.47 L388.00,246.68 L388.50,245.77 L389.00,244.72 L389.50,243.51 L390.00,242.11 L390.50,240.50 L391.00,241.92 L391.50,243.18 L392.00,244.28 L392.50,245.26 L393.00,246.12 L393.50,246.88 L394.00,247.56 L394.50,248.15 L395.00,248.67 L395.50,249.13 L396.00,249.54 L396.50,249.90 L397.00,250.22 L397.50,250.50 L398.00,250.74 L398.50,250.96 L399.00,251.15 L399.50,251.32 L400.00,251.47 L400.50,251.61 L401.00,251.72 L401.50,251.83 L402.00,251.92 L402.50,252.00 L403.00,252.07 L403.50,252.13 L404.00,252.19 L404.50,252.23 L405.00,252.28 L405.50,252.32 L406.00,252.35 L406.50,252.38 L407.00,252.40 L407.50,252.43 L408.00,252.45 L408.50,252.47 L409.00,252.48 L409.50,252.50 L410.00,252.51 L410.50,252.52 L411.00,252.53 L411.50,252.54 L412.00,252.54 L412.50,252.55 L413.00,252.56 L413.50,252.56 L414.00,252.57 L414.50,252.57 L415.00,252.57 L415.50,252.58 L416.00,252.58 L416.50,252.58 L417.00,252.58 L417.50,252.59 L418.00,252.59 L418.50,252.59 L419.00,252.59 L419.50,252.59 L420.00,252.59 L420.50,252.59 L421.00,252.59 L421.50,252.59 L422.00,252.60 L422.50,252.60 L423.00,252.60 L423.50,252.60 L424.00,252.60 L424.50,252.60 L425.00,252.60 L425.50,252.60 L426.00,252.60 L426.50,252.60 L427.00,252.60 L427.50,252.60 L428.00,252.60 L428.50,252.60 L429.00,252.60 L429.50,252.60 L430.00,252.60 L430.50,252.60 L431.00,252.60 L431.50,252.60 L432.00,252.60 L432.50,252.60 L433.00,252.60 L433.50,252.60 L434.00,252.60 L434.50,252.60 L435.00,252.60 L435.50,252.60 L436.00,252.60 L436.50,252.60 L437.00,252.60 L437.50,252.60 L438.00,252.60 L438.50,252.60 L439.00,252.60 L439.50,252.60 L440.00,252.60 L440.50,252.60 L441.00,252.60 L441.50,252.60 L442.00,252.60 L442.50,252.60 L443.00,252.60 L443.50,252.60 L444.00,252.60 L444.50,252.60 L445.00,252.60 L445.50,252.60 L446.00,252.60 L446.50,252.60 L447.00,252.60 L447.50,252.60 L448.00,252.60 L448.50,252.60 L449.00,252.60 L449.50,252.60 L450.00,252.60 L450.50,252.60 L451.00,252.60 L451.50,252.60 L452.00,252.60 L452.50,252.60 L453.00,252.60 L453.50,252.60 L454.00,252.60 L454.50,252.60 L455.00,252.60 L455.50,252.60 L456.00,252.60 L456.50,252.60 L457.00,252.60 L457.50,252.60 L458.00,252.60 L458.50,252.60 L459.00,252.60" stroke="#000" stroke-width="0.85" fill="none" stroke-linejoin="round" stroke-linecap="round" />
<circle cx="386.19" cy="249.06" r="0.60" fill="#fff" stroke="#111" stroke-width="0.45"/>
<circle cx="387.89" cy="246.85" r="0.60" fill="#fff" stroke="#111" stroke-width="0.45"/>
<circle cx="389.15" cy="244.35" r="0.60" fill="#fff" stroke="#111" stroke-width="0.45"/>
<circle cx="390.12" cy="241.72" r="0.60" fill="#fff" stroke="#111" stroke-width="0.45"/>
<circle cx="391.00" cy="241.93" r="0.60" fill="#fff" stroke="#111" stroke-width="0.45"/>
<circle cx="392.11" cy="244.50" r="0.60" fill="#fff" stroke="#111" stroke-width="0.45"/>
<circle cx="393.53" cy="246.92" r="0.60" fill="#fff" stroke="#111" stroke-width="0.45"/>
<circle cx="395.37" cy="249.02" r="0.60" fill="#fff" stroke="#111" stroke-width="0.45"/>
<path d="M359.00,252.60 L359.50,252.60 L360.00,252.60 L360.50,252.60 L361.00,252.60 L361.50,252.60 L362.00,252.60 L362.50,252.60 L363.00,252.60 L363.50,252.60 L364.00,252.60 L364.50,252.60 L365.00,252.60 L365.50,252.60 L366.00,252.60 L366.50,252.60 L367.00,252.60 L367.50,252.60 L368.00,252.60 L368.50,252.60 L369.00,252.60 L369.50,252.59 L370.00,252.59 L370.50,252.59 L371.00,252.59 L371.50,252.59 L372.00,252.59 L372.50,252.58 L373.00,252.58 L373.50,252.58 L374.00,252.57 L374.50,252.57 L375.00,252.56 L375.50,252.56 L376.00,252.55 L376.50,252.54 L377.00,252.53 L377.50,252.52 L378.00,252.50 L378.50,252.48 L379.00,252.46 L379.50,252.44 L380.00,252.41 L380.50,252.37 L381.00,252.33 L381.50,252.28 L382.00,252.23 L382.50,252.16 L383.00,252.08 L383.50,251.98 L384.00,251.87 L384.50,251.74 L385.00,251.58 L385.50,251.40 L386.00,251.18 L386.50,250.92 L387.00,250.62 L387.50,250.26 L388.00,249.83 L388.50,249.33 L389.00,248.74 L389.50,248.04 L390.00,247.21 L390.50,246.23 L391.00,245.08 L391.50,243.72 L392.00,242.10 L392.50,241.57 L393.00,242.86 L393.50,244.01 L394.00,245.02 L394.50,245.91 L395.00,246.69 L395.50,247.39 L396.00,248.00 L396.50,248.54 L397.00,249.02 L397.50,249.44 L398.00,249.81 L398.50,250.14 L399.00,250.43 L399.50,250.68 L400.00,250.91 L400.50,251.11 L401.00,251.28 L401.50,251.44 L402.00,251.57 L402.50,251.69 L403.00,251.80 L403.50,251.89 L404.00,251.98 L404.50,252.05 L405.00,252.12 L405.50,252.17 L406.00,252.22 L406.50,252.27 L407.00,252.31 L407.50,252.34 L408.00,252.37 L408.50,252.40 L409.00,252.42 L409.50,252.44 L410.00,252.46 L410.50,252.48 L411.00,252.49 L411.50,252.50 L412.00,252.52 L412.50,252.53 L413.00,252.53 L413.50,252.54 L414.00,252.55 L414.50,252.55 L415.00,252.56 L415.50,252.56 L416.00,252.57 L416.50,252.57 L417.00,252.58 L417.50,252.58 L418.00,252.58 L418.50,252.58 L419.00,252.59 L419.50,252.59 L420.00,252.59 L420.50,252.59 L421.00,252.59 L421.50,252.59 L422.00,252.59 L422.50,252.59 L423.00,252.59 L423.50,252.60 L424.00,252.60 L424.50,252.60 L425.00,252.60 L425.50,252.60 L426.00,252.60 L426.50,252.60 L427.00,252.60 L427.50,252.60 L428.00,252.60 L428.50,252.60 L429.00,252.60 L429.50,252.60 L430.00,252.60 L430.50,252.60 L431.00,252.60 L431.50,252.60 L432.00,252.60 L432.50,252.60 L433.00,252.60 L433.50,252.60 L434.00,252.60 L434.50,252.60 L435.00,252.60 L435.50,252.60 L436.00,252.60 L436.50,252.60 L437.00,252.60 L437.50,252.60 L438.00,252.60 L438.50,252.60 L439.00,252.60 L439.50,252.60 L440.00,252.60 L440.50,252.60 L441.00,252.60 L441.50,252.60 L442.00,252.60 L442.50,252.60 L443.00,252.60 L443.50,252.60 L444.00,252.60 L444.50,252.60 L445.00,252.60 L445.50,252.60 L446.00,252.60 L446.50,252.60 L447.00,252.60 L447.50,252.60 L448.00,252.60 L448.50,252.60 L449.00,252.60 L449.50,252.60 L450.00,252.60 L450.50,252.60 L451.00,252.60 L451.50,252.60 L452.00,252.60 L452.50,252.60 L453.00,252.60 L453.50,252.60 L454.00,252.60 L454.50,252.60 L455.00,252.60 L455.50,252.60 L456.00,252.60 L456.50,252.60 L457.00,252.60 L457.50,252.60 L458.00,252.60 L458.50,252.60 L459.00,252.60" stroke="#000" stroke-width="0.85" fill="none" stroke-linejoin="round" stroke-linecap="round" />
<circle cx="388.83" cy="248.94" r="0.60" fill="#fff" stroke="#111" stroke-width="0.45"/>
<circle cx="390.32" cy="246.58" r="0.60" fill="#fff" stroke="#111" stroke-width="0.45"/>
<circle cx="391.40" cy="244.00" r="0.60" fill="#fff" stroke="#111" stroke-width="0.45"/>
<circle cx="392.53" cy="241.64" r="0.60" fill="#fff" stroke="#111" stroke-width="0.45"/>
<circle cx="393.61" cy="244.22" r="0.60" fill="#fff" stroke="#111" stroke-width="0.45"/>
<circle cx="394.98" cy="246.66" r="0.60" fill="#fff" stroke="#111" stroke-width="0.45"/>
<circle cx="396.77" cy="248.80" r="0.60" fill="#fff" stroke="#111" stroke-width="0.45"/>
<path d="M394.00,253.57 L394.40,253.55 L394.80,253.51 L395.20,253.45 L395.60,253.35 L396.00,253.21 L396.40,252.99 L396.80,252.70 L397.20,252.30 L397.60,251.78 L398.00,251.13 L398.40,250.35 L398.80,249.47 L399.20,248.49 L399.60,247.49 L400.00,246.51 L400.40,245.63 L400.80,244.91 L401.20,244.43 L401.60,244.21 L402.00,244.26 L402.40,244.51 L402.80,244.96 L403.20,245.56 L403.60,246.28 L404.00,247.08 L404.40,247.93 L404.80,248.77 L405.20,249.58 L405.60,250.32 L406.00,250.99 L406.40,251.56 L406.80,252.05 L407.20,252.44 L407.60,252.76 L408.00,253.00 L408.40,253.18 L408.80,253.31 L409.20,253.41 L409.60,253.48 L410.00,253.52 L410.00,253.60 L394.00,253.60 Z" fill="#000" />
<path d="M402.00,253.55 L402.40,253.53 L402.80,253.50 L403.20,253.47 L403.60,253.42 L404.00,253.35 L404.40,253.27 L404.80,253.16 L405.20,253.03 L405.60,252.86 L406.00,252.66 L406.40,252.42 L406.80,252.14 L407.20,251.82 L407.60,251.45 L408.00,251.03 L408.40,250.58 L408.80,250.09 L409.20,249.57 L409.60,249.03 L410.00,248.49 L410.40,247.96 L410.80,247.45 L411.20,246.98 L411.60,246.56 L412.00,246.22 L412.40,245.95 L412.80,245.78 L413.20,245.70 L413.60,245.73 L414.00,245.85 L414.40,246.07 L414.80,246.38 L415.20,246.76 L415.60,247.21 L416.00,247.70 L416.40,248.22 L416.80,248.76 L417.20,249.30 L417.60,249.83 L418.00,250.33 L418.40,250.81 L418.80,251.24 L419.20,251.64 L419.60,251.99 L420.00,252.29 L420.40,252.55 L420.80,252.77 L421.20,252.95 L421.60,253.10 L422.00,253.22 L422.40,253.31 L422.80,253.39 L423.20,253.44 L423.60,253.49 L424.00,253.52 L424.40,253.54 L424.80,253.56 L425.00,253.60 L402.00,253.60 Z" fill="#000" />
<path d="M398.00,253.58 L398.40,253.57 L398.80,253.56 L399.20,253.54 L399.60,253.52 L400.00,253.48 L400.40,253.44 L400.80,253.39 L401.20,253.32 L401.60,253.23 L402.00,253.11 L402.40,252.97 L402.80,252.81 L403.20,252.61 L403.60,252.38 L404.00,252.11 L404.40,251.80 L404.80,251.46 L405.20,251.09 L405.60,250.70 L406.00,250.28 L406.40,249.85 L406.80,249.42 L407.20,249.00 L407.60,248.60 L408.00,248.23 L408.40,247.91 L408.80,247.65 L409.20,247.46 L409.60,247.34 L410.00,247.30 L410.40,247.34 L410.80,247.46 L411.20,247.65 L411.60,247.91 L412.00,248.23 L412.40,248.60 L412.80,249.00 L413.20,249.42 L413.60,249.85 L414.00,250.28 L414.40,250.70 L414.80,251.09 L415.20,251.46 L415.60,251.80 L416.00,252.11 L416.40,252.38 L416.80,252.61 L417.20,252.81 L417.60,252.97 L418.00,253.11 L418.40,253.23 L418.80,253.32 L419.20,253.39 L419.60,253.44 L420.00,253.48 L420.40,253.52 L420.80,253.54 L421.20,253.56 L421.60,253.57 L422.00,253.58 L422.00,253.60 L398.00,253.60 Z" fill="#000" />
<path d="M412.00,253.52 L412.40,253.49 L412.80,253.45 L413.20,253.41 L413.60,253.34 L414.00,253.26 L414.40,253.16 L414.80,253.04 L415.20,252.89 L415.60,252.71 L416.00,252.49 L416.40,252.24 L416.80,251.94 L417.20,251.61 L417.60,251.22 L418.00,250.80 L418.40,250.34 L418.80,249.84 L419.20,249.30 L419.60,248.75 L420.00,248.18 L420.40,247.61 L420.80,247.04 L421.20,246.50 L421.60,246.00 L422.00,245.54 L422.40,245.15 L422.80,244.83 L423.20,244.59 L423.60,244.45 L424.00,244.40 L424.40,244.42 L424.80,244.47 L425.20,244.56 L425.60,244.69 L426.00,244.84 L426.40,245.03 L426.80,245.25 L427.20,245.49 L427.60,245.76 L428.00,246.05 L428.40,246.36 L428.80,246.68 L429.20,247.01 L429.60,247.35 L430.00,247.70 L430.40,248.05 L430.80,248.40 L431.20,248.75 L431.60,249.09 L432.00,249.43 L432.40,249.75 L432.80,250.06 L433.20,250.36 L433.60,250.65 L434.00,250.92 L434.40,251.18 L434.80,251.42 L435.20,251.64 L435.60,251.85 L436.00,252.05 L436.40,252.22 L436.80,252.38 L437.20,252.53 L437.60,252.66 L438.00,252.78 L438.40,252.89 L438.80,252.98 L439.20,253.07 L439.60,253.14 L440.00,253.21 L440.40,253.27 L440.80,253.32 L441.20,253.36 L441.60,253.40 L442.00,253.43 L442.40,253.46 L442.80,253.48 L443.20,253.50 L443.60,253.52 L444.00,253.53 L444.40,253.55 L444.80,253.56 L445.20,253.56 L445.60,253.57 L446.00,253.58 L446.40,253.58 L446.80,253.58 L447.20,253.59 L447.60,253.59 L448.00,253.59 L448.40,253.59 L448.80,253.60 L449.20,253.60 L449.60,253.60 L450.00,253.60 L450.40,253.60 L450.80,253.60 L451.20,253.60 L451.60,253.60 L452.00,253.60 L452.00,253.60 L412.00,253.60 Z" fill="#000" />
<path d="M414.00,253.59 L414.40,253.59 L414.80,253.59 L415.20,253.58 L415.60,253.58 L416.00,253.57 L416.40,253.56 L416.80,253.54 L417.20,253.53 L417.60,253.50 L418.00,253.47 L418.40,253.43 L418.80,253.38 L419.20,253.32 L419.60,253.25 L420.00,253.16 L420.40,253.05 L420.80,252.92 L421.20,252.77 L421.60,252.60 L422.00,252.40 L422.40,252.17 L422.80,251.92 L423.20,251.63 L423.60,251.32 L424.00,250.99 L424.40,250.63 L424.80,250.25 L425.20,249.86 L425.60,249.45 L426.00,249.05 L426.40,248.65 L426.80,248.26 L427.20,247.89 L427.60,247.55 L428.00,247.25 L428.40,246.99 L428.80,246.78 L429.20,246.63 L429.60,246.53 L430.00,246.50 L430.40,246.51 L430.80,246.54 L431.20,246.58 L431.60,246.65 L432.00,246.73 L432.40,246.83 L432.80,246.95 L433.20,247.08 L433.60,247.22 L434.00,247.38 L434.40,247.55 L434.80,247.73 L435.20,247.92 L435.60,248.12 L436.00,248.33 L436.40,248.54 L436.80,248.76 L437.20,248.97 L437.60,249.20 L438.00,249.42 L438.40,249.64 L438.80,249.86 L439.20,250.07 L439.60,250.29 L440.00,250.49 L440.40,250.70 L440.80,250.89 L441.20,251.08 L441.60,251.26 L442.00,251.44 L442.40,251.61 L442.80,251.77 L443.20,251.92 L443.60,252.06 L444.00,252.19 L444.40,252.32 L444.80,252.44 L445.20,252.55 L445.60,252.65 L446.00,252.74 L446.40,252.83 L446.80,252.91 L447.20,252.98 L447.60,253.05 L448.00,253.11 L448.40,253.17 L448.80,253.22 L449.20,253.26 L449.60,253.30 L450.00,253.34 L450.40,253.37 L450.80,253.40 L451.20,253.43 L451.60,253.45 L452.00,253.47 L452.40,253.49 L452.80,253.50 L453.20,253.52 L453.60,253.53 L454.00,253.54 L454.40,253.55 L454.80,253.56 L455.20,253.56 L455.60,253.57 L456.00,253.57 L456.40,253.58 L456.80,253.58 L457.20,253.58 L457.60,253.59 L458.00,253.59 L458.40,253.59 L458.80,253.59 L459.00,253.60 L414.00,253.60 Z" fill="#000" />
<path d="M366.00,253.52 L366.40,253.49 L366.80,253.44 L367.20,253.38 L367.60,253.31 L368.00,253.20 L368.40,253.08 L368.80,252.91 L369.20,252.71 L369.60,252.47 L370.00,252.18 L370.40,251.83 L370.80,251.43 L371.20,250.97 L371.60,250.45 L372.00,249.88 L372.40,249.27 L372.80,248.61 L373.20,247.93 L373.60,247.24 L374.00,246.55 L374.40,245.89 L374.80,245.28 L375.20,244.73 L375.60,244.26 L376.00,243.90 L376.40,243.64 L376.80,243.52 L377.20,243.51 L377.60,243.62 L378.00,243.83 L378.40,244.13 L378.80,244.53 L379.20,244.99 L379.60,245.52 L380.00,246.10 L380.40,246.71 L380.80,247.33 L381.20,247.96 L381.60,248.58 L382.00,249.18 L382.40,249.75 L382.80,250.28 L383.20,250.77 L383.60,251.21 L384.00,251.60 L384.40,251.95 L384.80,252.25 L385.20,252.51 L385.60,252.72 L386.00,252.91 L386.40,253.06 L386.80,253.18 L387.20,253.28 L387.60,253.35 L388.00,253.42 L388.40,253.46 L388.80,253.50 L389.20,253.53 L389.60,253.55 L390.00,253.56 L390.00,253.60 L366.00,253.60 Z" fill="#000" />
<ellipse cx="401.5" cy="249.5" rx="1.5" ry="0.9" fill="#fff"/>
<ellipse cx="413" cy="249.8" rx="1.8" ry="0.8" fill="#fff"/>
<ellipse cx="420.5" cy="250.5" rx="1.5" ry="0.7" fill="#fff"/>
<ellipse cx="425" cy="249" rx="2.2" ry="0.9" fill="#fff"/>
<ellipse cx="432" cy="250.5" rx="1.5" ry="0.6" fill="#fff"/>
<ellipse cx="377" cy="249.8" rx="2" ry="0.8" fill="#fff"/>
<ellipse cx="391.5" cy="247" rx="2.2" ry="2.2" fill="#fff"/>
<ellipse cx="365.8" cy="245" rx="2.0" ry="3.5" fill="#fff"/>
<path d="M368.60,160.00 L369.30,160.00 L369.70,228.00 L368.20,228.00 Z" fill="#000" />
<path d="M378.80,212.00 L379.40,212.00 L379.90,244.00 L378.30,244.00 Z" fill="#000" />
<circle cx="368.7" cy="167.5" r="0.75" fill="#fff" stroke="#222" stroke-width="0.4"/>
<circle cx="368.9" cy="178" r="0.75" fill="#fff" stroke="#222" stroke-width="0.4"/>
<circle cx="369.1" cy="190" r="0.75" fill="#fff" stroke="#222" stroke-width="0.4"/>
<circle cx="369.3" cy="205" r="0.75" fill="#fff" stroke="#222" stroke-width="0.4"/>
<circle cx="369.5" cy="216" r="0.75" fill="#fff" stroke="#222" stroke-width="0.4"/>
<circle cx="379.1" cy="221" r="0.75" fill="#fff" stroke="#222" stroke-width="0.4"/>
<circle cx="379.3" cy="232" r="0.75" fill="#fff" stroke="#222" stroke-width="0.4"/>
</svg>
</body></html>
